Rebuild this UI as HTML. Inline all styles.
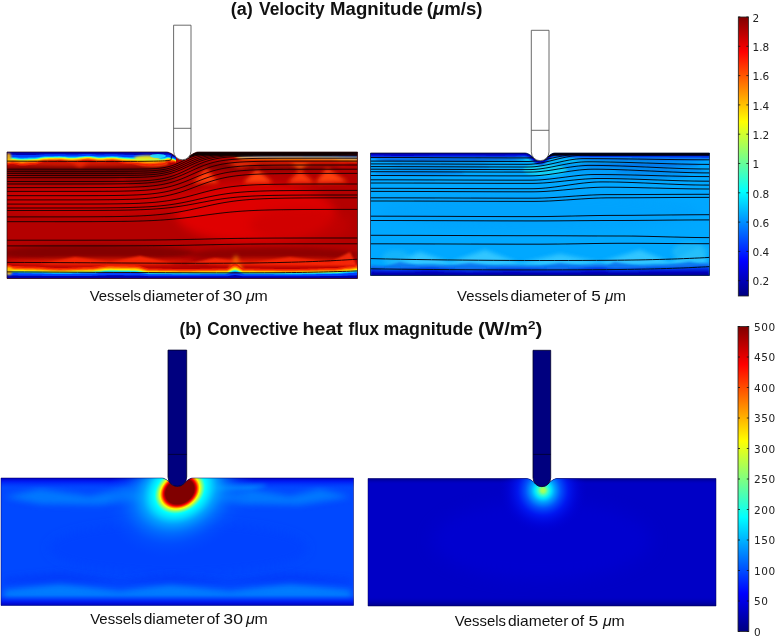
<!DOCTYPE html>
<html lang="en"><head><meta charset="utf-8"><title>Velocity magnitude and convective heat flux</title>
<style>html,body{margin:0;padding:0;background:#fff}body{width:777px;height:637px;overflow:hidden}svg{display:block}text{font-family:"Liberation Sans","DejaVu Sans",sans-serif;fill:#111}.tk{font-family:"DejaVu Sans","Liberation Sans",sans-serif;font-size:10.5px;fill:#222}.ttl{font-weight:700;font-size:17.5px}.lab{font-size:14.8px}.mu{font-style:italic}</style></head><body>
<svg width="777" height="637" viewBox="0 0 777 637">
<defs>
<linearGradient id="jet" x1="0" y1="0" x2="0" y2="1">
<stop offset="0" stop-color="#800000"/>
<stop offset="0.125" stop-color="#ff0000"/>
<stop offset="0.375" stop-color="#ffff00"/>
<stop offset="0.625" stop-color="#00ffff"/>
<stop offset="0.875" stop-color="#0000ff"/>
<stop offset="1" stop-color="#000080"/>
</linearGradient>
<filter id="bl" filterUnits="userSpaceOnUse" x="0" y="0" width="777" height="637"><feGaussianBlur stdDeviation="0.4"/></filter>
<filter id="b0" filterUnits="userSpaceOnUse" x="0" y="0" width="777" height="637"><feGaussianBlur stdDeviation="0.6"/></filter>
<filter id="b1" filterUnits="userSpaceOnUse" x="0" y="0" width="777" height="637"><feGaussianBlur stdDeviation="1.2"/></filter>
<filter id="b2" filterUnits="userSpaceOnUse" x="0" y="0" width="777" height="637"><feGaussianBlur stdDeviation="2"/></filter>
<filter id="b3" filterUnits="userSpaceOnUse" x="0" y="0" width="777" height="637"><feGaussianBlur stdDeviation="3"/></filter>
<filter id="b4" filterUnits="userSpaceOnUse" x="0" y="0" width="777" height="637"><feGaussianBlur stdDeviation="5"/></filter>
<filter id="b5" filterUnits="userSpaceOnUse" x="0" y="0" width="777" height="637"><feGaussianBlur stdDeviation="8"/></filter>
<clipPath id="cA1"><path d="M7,152 H166.3 L166.30,152.00 L166.80,152.03 L167.30,152.10 L167.80,152.21 L168.30,152.34 L168.80,152.49 L169.30,152.67 L169.80,152.88 L170.30,153.10 L170.80,153.34 L171.30,153.61 L171.80,153.89 L172.30,154.19 L172.80,154.51 L173.30,154.84 L173.80,155.20 L174.30,155.57 L174.80,155.96 L175.30,156.36 L175.80,156.88 L176.30,157.40 L176.80,157.84 L177.30,158.22 L177.80,158.55 L178.30,158.83 L178.80,159.06 L179.30,159.27 L179.80,159.43 L180.30,159.57 L180.80,159.67 L181.30,159.74 L181.80,159.79 L182.30,159.80 L182.80,159.79 L183.30,159.74 L183.80,159.67 L184.30,159.57 L184.80,159.43 L185.30,159.27 L185.80,159.06 L186.30,158.83 L186.80,158.55 L187.30,158.22 L187.80,157.84 L188.30,157.40 L188.80,156.88 L189.30,156.36 L189.80,155.96 L190.30,155.57 L190.80,155.20 L191.30,154.84 L191.80,154.51 L192.30,154.19 L192.80,153.89 L193.30,153.61 L193.80,153.34 L194.30,153.10 L194.80,152.88 L195.30,152.67 L195.80,152.49 L196.30,152.34 L196.80,152.21 L197.30,152.10 L197.80,152.03 L198.3,152 H357.5 V278.5 H7 Z"/></clipPath>
<clipPath id="cA2"><path d="M370.5,153 H525 L525.00,153.00 L525.50,153.04 L526.00,153.12 L526.50,153.24 L527.00,153.40 L527.50,153.58 L528.00,153.79 L528.50,154.03 L529.00,154.29 L529.50,154.57 L530.00,154.88 L530.50,155.21 L531.00,155.57 L531.50,155.94 L532.00,156.34 L532.50,156.75 L533.00,157.19 L533.50,157.69 L534.00,158.21 L534.50,158.66 L535.00,159.05 L535.50,159.38 L536.00,159.67 L536.50,159.91 L537.00,160.12 L537.50,160.29 L538.00,160.43 L538.50,160.54 L539.00,160.62 L539.50,160.68 L540.00,160.70 L540.50,160.69 L541.00,160.66 L541.50,160.60 L542.00,160.50 L542.50,160.38 L543.00,160.23 L543.50,160.04 L544.00,159.82 L544.50,159.56 L545.00,159.25 L545.50,158.90 L546.00,158.49 L546.50,158.01 L547.00,157.46 L547.50,156.98 L548.00,156.53 L548.50,156.10 L549.00,155.69 L549.50,155.31 L550.00,154.95 L550.50,154.62 L551.00,154.31 L551.50,154.03 L552.00,153.78 L552.50,153.56 L553.00,153.37 L553.50,153.21 L554.00,153.09 L554.50,153.02 L554.8,153 H709.5 V275.5 H370.5 Z"/></clipPath>
<clipPath id="cB1"><path d="M1,478 H162 L162.00,478.00 L162.50,478.04 L163.00,478.14 L163.50,478.28 L164.00,478.45 L164.50,478.66 L165.00,478.90 L165.50,479.16 L166.00,479.46 L166.50,479.78 L167.00,480.13 L167.50,480.51 L168.00,480.91 L168.50,481.33 L169.00,481.78 L169.50,482.25 L170.00,482.75 L170.50,483.31 L171.00,483.81 L171.50,484.24 L172.00,484.62 L172.50,484.94 L173.00,485.23 L173.50,485.47 L174.00,485.68 L174.50,485.86 L175.00,486.00 L175.50,486.12 L176.00,486.20 L176.50,486.26 L177.00,486.29 L177.50,486.30 L178.00,486.28 L178.50,486.23 L179.00,486.15 L179.50,486.05 L180.00,485.92 L180.50,485.75 L181.00,485.56 L181.50,485.33 L182.00,485.06 L182.50,484.75 L183.00,484.40 L183.50,483.99 L184.00,483.52 L184.50,482.97 L185.00,482.44 L185.50,481.96 L186.00,481.50 L186.50,481.06 L187.00,480.64 L187.50,480.25 L188.00,479.89 L188.50,479.56 L189.00,479.25 L189.50,478.97 L190.00,478.72 L190.50,478.50 L191.00,478.31 L191.50,478.17 L192.00,478.06 L192.50,478.00 L192.6,478 H353.5 V605.5 H1 Z"/></clipPath>
<clipPath id="cB2"><path d="M368,478.5 H526.7 L526.70,478.50 L527.20,478.54 L527.70,478.63 L528.20,478.76 L528.70,478.93 L529.20,479.13 L529.70,479.35 L530.20,479.61 L530.70,479.89 L531.20,480.20 L531.70,480.54 L532.20,480.89 L532.70,481.28 L533.20,481.68 L533.70,482.11 L534.20,482.56 L534.70,483.03 L535.20,483.59 L535.70,484.11 L536.20,484.56 L536.70,484.95 L537.20,485.28 L537.70,485.57 L538.20,485.81 L538.70,486.02 L539.20,486.19 L539.70,486.33 L540.20,486.44 L540.70,486.52 L541.20,486.58 L541.70,486.60 L542.20,486.59 L542.70,486.56 L543.20,486.50 L543.70,486.40 L544.20,486.28 L544.70,486.13 L545.20,485.94 L545.70,485.72 L546.20,485.46 L546.70,485.15 L547.20,484.80 L547.70,484.39 L548.20,483.91 L548.70,483.35 L549.20,482.84 L549.70,482.38 L550.20,481.93 L550.70,481.52 L551.20,481.12 L551.70,480.75 L552.20,480.40 L552.70,480.08 L553.20,479.78 L553.70,479.50 L554.20,479.26 L554.70,479.04 L555.20,478.86 L555.70,478.71 L556.20,478.59 L556.70,478.52 L557,478.5 H716 V606 H368 Z"/></clipPath>
<linearGradient id="b1top" x1="0" y1="0" x2="0" y2="1">
<stop offset="0" stop-color="#0000c0" stop-opacity="1"/>
<stop offset="0.35" stop-color="#0010f0" stop-opacity="0.8"/>
<stop offset="1" stop-color="#0030ff" stop-opacity="0"/>
</linearGradient>
<linearGradient id="b1bot" x1="0" y1="0" x2="0" y2="1">
<stop offset="0" stop-color="#0030ff" stop-opacity="0"/>
<stop offset="0.6" stop-color="#0010f0" stop-opacity="0.8"/>
<stop offset="1" stop-color="#0000b8" stop-opacity="1"/>
</linearGradient>
<linearGradient id="b2top" x1="0" y1="0" x2="0" y2="1">
<stop offset="0" stop-color="#000088" stop-opacity="1"/>
<stop offset="1" stop-color="#0000c8" stop-opacity="0"/>
</linearGradient>
<linearGradient id="b2bot" x1="0" y1="0" x2="0" y2="1">
<stop offset="0" stop-color="#0000c8" stop-opacity="0"/>
<stop offset="1" stop-color="#000088" stop-opacity="1"/>
</linearGradient>
<radialGradient id="hot1" cx="0.5" cy="0.5" r="0.5">
<stop offset="0" stop-color="#800000" stop-opacity="1"/>
<stop offset="0.192" stop-color="#800000" stop-opacity="1"/>
<stop offset="0.207" stop-color="#b00000" stop-opacity="1"/>
<stop offset="0.224" stop-color="#ff0000" stop-opacity="1"/>
<stop offset="0.245" stop-color="#ff8000" stop-opacity="1"/>
<stop offset="0.266" stop-color="#ffff00" stop-opacity="1"/>
<stop offset="0.3" stop-color="#80ff80" stop-opacity="1"/>
<stop offset="0.34" stop-color="#00ffff" stop-opacity="1"/>
<stop offset="0.41" stop-color="#00d8ff" stop-opacity="1"/>
<stop offset="0.5" stop-color="#00a8ff" stop-opacity="0.9"/>
<stop offset="0.63" stop-color="#0084ff" stop-opacity="0.65"/>
<stop offset="0.8" stop-color="#0064ff" stop-opacity="0.3"/>
<stop offset="1" stop-color="#0050ff" stop-opacity="0"/>
</radialGradient>
<radialGradient id="hot2" cx="0.5" cy="0.5" r="0.5">
<stop offset="0" stop-color="#b0ff50" stop-opacity="1"/>
<stop offset="0.05" stop-color="#98ff68" stop-opacity="1"/>
<stop offset="0.12" stop-color="#30ffd0" stop-opacity="1"/>
<stop offset="0.19" stop-color="#00e0ff" stop-opacity="1"/>
<stop offset="0.27" stop-color="#00a0ff" stop-opacity="1"/>
<stop offset="0.4" stop-color="#0058ff" stop-opacity="0.95"/>
<stop offset="0.58" stop-color="#0020ff" stop-opacity="0.7"/>
<stop offset="0.8" stop-color="#0008e8" stop-opacity="0.35"/>
<stop offset="1" stop-color="#0000d0" stop-opacity="0"/>
</radialGradient>
</defs>
<rect width="777" height="637" fill="#fff"/>
<g clip-path="url(#cA1)">
<rect x="6" y="150" width="353" height="130" fill="#b40000"/>
<ellipse cx="255" cy="213" rx="80" ry="30" fill="#e20400" opacity="0.95" filter="url(#b4)"/>
<ellipse cx="300" cy="225" rx="50" ry="18" fill="#c80000" opacity="0.6" filter="url(#b4)"/>
<ellipse cx="95" cy="200" rx="105" ry="15" fill="#d00402" opacity="0.85" filter="url(#b4)"/>
<ellipse cx="85" cy="170" rx="85" ry="7" fill="#700000" opacity="0.95" filter="url(#b2)"/>
<ellipse cx="60" cy="180" rx="60" ry="5" fill="#900000" opacity="0.7" filter="url(#b2)"/>
<ellipse cx="150" cy="178" rx="25" ry="9" fill="#8c0000" opacity="0.6" filter="url(#b2)"/>
<ellipse cx="265" cy="166" rx="75" ry="5" fill="#800000" opacity="0.85" filter="url(#b2)"/>
<ellipse cx="95" cy="253" rx="100" ry="8" fill="#800000" opacity="0.92" filter="url(#b2)"/>
<ellipse cx="275" cy="254.5" rx="85" ry="7" fill="#880000" opacity="0.85" filter="url(#b2)"/>
<ellipse cx="190" cy="262" rx="40" ry="3.5" fill="#a00000" opacity="0.6" filter="url(#b2)"/>
<polygon points="193,183 206,168 219,183" fill="#ff4010" opacity="1" filter="url(#b2)"/>
<polygon points="243,183 257,169 273,183" fill="#ff4010" opacity="1" filter="url(#b2)"/>
<polygon points="287,183 300,170 315,183" fill="#ff3a08" opacity="0.95" filter="url(#b2)"/>
<polygon points="315,183 327,168 348,182" fill="#ff4010" opacity="1" filter="url(#b2)"/>
<polygon points="40,264 75,257 110,262 140,256 175,264" fill="#ff3208" opacity="0.9" filter="url(#b1)"/>
<polygon points="185,264 215,258 250,263 290,257 330,262 350,252 357,266" fill="#ff3208" opacity="0.85" filter="url(#b1)"/>
<polygon points="229,272 236,255 243,272" fill="#ffc000" opacity="1" filter="url(#b2)"/>
<polygon points="70,161 80,168 90,161" fill="#ff3a10" opacity="0.7" filter="url(#b2)"/>
<polygon points="225,162 240,168 262,162" fill="#ff4010" opacity="0.8" filter="url(#b2)"/>
<polygon points="290,162 300,170 310,162" fill="#ff6a10" opacity="0.8" filter="url(#b2)"/>
<ellipse cx="152" cy="163" rx="16" ry="3.2" fill="#ff7a00" opacity="0.9" filter="url(#b1)"/>
<ellipse cx="85" cy="163.5" rx="80" ry="2.5" fill="#ff2800" opacity="0.75" filter="url(#b2)"/>
<ellipse cx="290" cy="162.5" rx="60" ry="2.2" fill="#ff3000" opacity="0.7" filter="url(#b2)"/>
<ellipse cx="100" cy="262" rx="95" ry="4" fill="#f82000" opacity="0.7" filter="url(#b2)"/>
<ellipse cx="280" cy="262" rx="75" ry="4" fill="#f82000" opacity="0.7" filter="url(#b2)"/>
<g filter="url(#b0)" opacity="1">
<path d="M7.0,149.0 L7.0,165.0 L9.0,164.6 L11.0,164.1 L13.0,164.0 L15.0,164.3 L17.0,164.8 L19.0,165.2 L21.0,165.5 L23.0,165.5 L25.0,165.4 L27.0,165.2 L29.0,164.9 L31.0,164.7 L33.0,164.6 L35.0,164.5 L37.0,164.2 L39.0,163.6 L41.0,162.9 L43.0,162.3 L45.0,162.0 L47.0,162.0 L49.0,161.9 L51.0,161.8 L53.0,161.7 L55.0,161.6 L57.0,161.6 L59.0,161.5 L61.0,161.5 L63.0,161.7 L65.0,162.0 L67.0,162.3 L69.0,162.6 L71.0,162.8 L73.0,162.8 L75.0,162.6 L77.0,162.3 L79.0,162.0 L81.0,161.6 L83.0,161.3 L85.0,161.0 L87.0,160.8 L89.0,160.8 L91.0,161.1 L93.0,161.5 L95.0,161.9 L97.0,162.3 L99.0,162.6 L101.0,162.6 L103.0,162.4 L105.0,162.2 L107.0,161.9 L109.0,161.7 L111.0,161.5 L113.0,161.5 L115.0,161.7 L117.0,162.1 L119.0,162.5 L121.0,163.0 L123.0,163.4 L125.0,163.8 L127.0,164.0 L129.0,164.0 L131.0,164.1 L133.0,164.3 L135.0,164.5 L137.0,164.7 L139.0,165.0 L141.0,165.3 L143.0,165.5 L145.0,165.7 L147.0,165.9 L149.0,166.0 L151.0,166.0 L153.0,165.9 L155.0,165.7 L157.0,165.4 L159.0,165.2 L161.0,165.1 L163.0,165.0 L165.0,164.3 L167.0,162.9 L169.0,162.3 L171.0,162.7 L173.0,162.4 L175.0,162.4 L176.0,163.1 L176.0,149.0 Z" fill="#ee2000"/>
<path d="M7.0,149.0 L7.0,163.3 L9.0,163.0 L11.0,162.5 L13.0,162.5 L15.0,162.7 L17.0,163.1 L19.0,163.5 L21.0,163.7 L23.0,163.7 L25.0,163.6 L27.0,163.5 L29.0,163.3 L31.0,163.1 L33.0,162.9 L35.0,162.9 L37.0,162.6 L39.0,162.1 L41.0,161.5 L43.0,160.9 L45.0,160.7 L47.0,160.7 L49.0,160.6 L51.0,160.5 L53.0,160.5 L55.0,160.4 L57.0,160.3 L59.0,160.3 L61.0,160.3 L63.0,160.4 L65.0,160.7 L67.0,161.0 L69.0,161.2 L71.0,161.4 L73.0,161.4 L75.0,161.2 L77.0,161.0 L79.0,160.7 L81.0,160.4 L83.0,160.1 L85.0,159.8 L87.0,159.7 L89.0,159.7 L91.0,159.9 L93.0,160.2 L95.0,160.6 L97.0,161.0 L99.0,161.2 L101.0,161.2 L103.0,161.1 L105.0,160.9 L107.0,160.6 L109.0,160.4 L111.0,160.3 L113.0,160.3 L115.0,160.5 L117.0,160.8 L119.0,161.1 L121.0,161.6 L123.0,161.9 L125.0,162.2 L127.0,162.4 L129.0,162.5 L131.0,162.5 L133.0,162.7 L135.0,162.9 L137.0,163.1 L139.0,163.3 L141.0,163.5 L143.0,163.8 L145.0,164.0 L147.0,164.1 L149.0,164.2 L151.0,164.2 L153.0,164.1 L155.0,163.9 L157.0,163.7 L159.0,163.5 L161.0,163.4 L163.0,163.3 L165.0,162.7 L167.0,161.5 L169.0,161.0 L171.0,161.5 L173.0,161.4 L175.0,161.6 L176.0,162.3 L176.0,149.0 Z" fill="#ff5a00"/>
<path d="M7.0,149.0 L7.0,162.0 L9.0,161.7 L11.0,161.3 L13.0,161.3 L15.0,161.5 L17.0,161.8 L19.0,162.1 L21.0,162.4 L23.0,162.4 L25.0,162.3 L27.0,162.1 L29.0,162.0 L31.0,161.8 L33.0,161.7 L35.0,161.6 L37.0,161.4 L39.0,160.9 L41.0,160.4 L43.0,159.9 L45.0,159.7 L47.0,159.7 L49.0,159.6 L51.0,159.6 L53.0,159.5 L55.0,159.4 L57.0,159.4 L59.0,159.3 L61.0,159.3 L63.0,159.5 L65.0,159.7 L67.0,159.9 L69.0,160.2 L71.0,160.3 L73.0,160.3 L75.0,160.2 L77.0,160.0 L79.0,159.7 L81.0,159.4 L83.0,159.1 L85.0,158.9 L87.0,158.8 L89.0,158.8 L91.0,159.0 L93.0,159.3 L95.0,159.6 L97.0,159.9 L99.0,160.1 L101.0,160.1 L103.0,160.0 L105.0,159.8 L107.0,159.6 L109.0,159.4 L111.0,159.3 L113.0,159.3 L115.0,159.5 L117.0,159.8 L119.0,160.1 L121.0,160.5 L123.0,160.8 L125.0,161.1 L127.0,161.2 L129.0,161.2 L131.0,161.3 L133.0,161.4 L135.0,161.6 L137.0,161.8 L139.0,162.0 L141.0,162.2 L143.0,162.4 L145.0,162.6 L147.0,162.7 L149.0,162.8 L151.0,162.8 L153.0,162.7 L155.0,162.5 L157.0,162.4 L159.0,162.2 L161.0,162.1 L163.0,162.0 L165.0,161.5 L167.0,160.4 L169.0,160.0 L171.0,160.6 L173.0,160.6 L175.0,160.9 L176.0,161.7 L176.0,149.0 Z" fill="#ffa800"/>
<path d="M7.0,149.0 L7.0,161.0 L9.0,160.7 L11.0,160.4 L13.0,160.3 L15.0,160.5 L17.0,160.8 L19.0,161.1 L21.0,161.3 L23.0,161.3 L25.0,161.2 L27.0,161.1 L29.0,160.9 L31.0,160.8 L33.0,160.7 L35.0,160.6 L37.0,160.4 L39.0,160.0 L41.0,159.5 L43.0,159.1 L45.0,158.9 L47.0,158.9 L49.0,158.8 L51.0,158.8 L53.0,158.7 L55.0,158.6 L57.0,158.6 L59.0,158.6 L61.0,158.6 L63.0,158.7 L65.0,158.9 L67.0,159.1 L69.0,159.3 L71.0,159.4 L73.0,159.4 L75.0,159.3 L77.0,159.1 L79.0,158.9 L81.0,158.6 L83.0,158.4 L85.0,158.2 L87.0,158.1 L89.0,158.1 L91.0,158.3 L93.0,158.5 L95.0,158.8 L97.0,159.1 L99.0,159.3 L101.0,159.3 L103.0,159.2 L105.0,159.0 L107.0,158.8 L109.0,158.7 L111.0,158.6 L113.0,158.6 L115.0,158.7 L117.0,159.0 L119.0,159.3 L121.0,159.6 L123.0,159.9 L125.0,160.1 L127.0,160.3 L129.0,160.3 L131.0,160.3 L133.0,160.5 L135.0,160.6 L137.0,160.8 L139.0,161.0 L141.0,161.2 L143.0,161.3 L145.0,161.5 L147.0,161.6 L149.0,161.7 L151.0,161.6 L153.0,161.6 L155.0,161.4 L157.0,161.3 L159.0,161.1 L161.0,161.0 L163.0,161.0 L165.0,160.5 L167.0,159.6 L169.0,159.3 L171.0,159.8 L173.0,160.0 L175.0,160.4 L176.0,161.2 L176.0,149.0 Z" fill="#ffe800"/>
<path d="M7.0,149.0 L7.0,160.1 L9.0,159.8 L11.0,159.5 L13.0,159.5 L15.0,159.6 L17.0,159.9 L19.0,160.2 L21.0,160.3 L23.0,160.4 L25.0,160.3 L27.0,160.2 L29.0,160.0 L31.0,159.9 L33.0,159.8 L35.0,159.8 L37.0,159.6 L39.0,159.2 L41.0,158.7 L43.0,158.4 L45.0,158.2 L47.0,158.2 L49.0,158.1 L51.0,158.1 L53.0,158.0 L55.0,158.0 L57.0,157.9 L59.0,157.9 L61.0,157.9 L63.0,158.0 L65.0,158.2 L67.0,158.4 L69.0,158.6 L71.0,158.7 L73.0,158.7 L75.0,158.6 L77.0,158.4 L79.0,158.2 L81.0,158.0 L83.0,157.7 L85.0,157.6 L87.0,157.5 L89.0,157.5 L91.0,157.6 L93.0,157.9 L95.0,158.2 L97.0,158.4 L99.0,158.6 L101.0,158.6 L103.0,158.5 L105.0,158.3 L107.0,158.1 L109.0,158.0 L111.0,157.9 L113.0,157.9 L115.0,158.0 L117.0,158.2 L119.0,158.5 L121.0,158.8 L123.0,159.1 L125.0,159.3 L127.0,159.4 L129.0,159.4 L131.0,159.5 L133.0,159.6 L135.0,159.7 L137.0,159.9 L139.0,160.1 L141.0,160.2 L143.0,160.4 L145.0,160.5 L147.0,160.6 L149.0,160.7 L151.0,160.7 L153.0,160.6 L155.0,160.5 L157.0,160.3 L159.0,160.2 L161.0,160.1 L163.0,160.1 L165.0,159.6 L167.0,158.8 L169.0,158.6 L171.0,159.2 L173.0,159.4 L175.0,160.0 L176.0,160.8 L176.0,149.0 Z" fill="#a8ff58"/>
<path d="M7.0,149.0 L7.0,159.3 L9.0,159.1 L11.0,158.8 L13.0,158.8 L15.0,159.0 L17.0,159.2 L19.0,159.4 L21.0,159.6 L23.0,159.6 L25.0,159.6 L27.0,159.4 L29.0,159.3 L31.0,159.2 L33.0,159.1 L35.0,159.1 L37.0,158.9 L39.0,158.6 L41.0,158.1 L43.0,157.8 L45.0,157.7 L47.0,157.6 L49.0,157.6 L51.0,157.6 L53.0,157.5 L55.0,157.4 L57.0,157.4 L59.0,157.4 L61.0,157.4 L63.0,157.5 L65.0,157.6 L67.0,157.8 L69.0,158.0 L71.0,158.1 L73.0,158.1 L75.0,158.0 L77.0,157.8 L79.0,157.6 L81.0,157.4 L83.0,157.2 L85.0,157.1 L87.0,157.0 L89.0,157.0 L91.0,157.1 L93.0,157.4 L95.0,157.6 L97.0,157.8 L99.0,158.0 L101.0,158.0 L103.0,157.9 L105.0,157.8 L107.0,157.6 L109.0,157.5 L111.0,157.4 L113.0,157.4 L115.0,157.5 L117.0,157.7 L119.0,157.9 L121.0,158.2 L123.0,158.5 L125.0,158.6 L127.0,158.8 L129.0,158.8 L131.0,158.8 L133.0,158.9 L135.0,159.1 L137.0,159.2 L139.0,159.3 L141.0,159.5 L143.0,159.6 L145.0,159.8 L147.0,159.9 L149.0,159.9 L151.0,159.9 L153.0,159.8 L155.0,159.7 L157.0,159.6 L159.0,159.5 L161.0,159.4 L163.0,159.3 L165.0,159.0 L167.0,158.2 L169.0,158.0 L171.0,158.7 L173.0,159.0 L175.0,159.7 L176.0,160.5 L176.0,149.0 Z" fill="#30ffd0"/>
<path d="M7.0,149.0 L7.0,158.6 L9.0,158.5 L11.0,158.2 L13.0,158.1 L15.0,158.3 L17.0,158.5 L19.0,158.7 L21.0,158.9 L23.0,158.9 L25.0,158.8 L27.0,158.7 L29.0,158.6 L31.0,158.5 L33.0,158.4 L35.0,158.4 L37.0,158.2 L39.0,157.9 L41.0,157.5 L43.0,157.2 L45.0,157.1 L47.0,157.1 L49.0,157.1 L51.0,157.0 L53.0,157.0 L55.0,156.9 L57.0,156.9 L59.0,156.8 L61.0,156.9 L63.0,156.9 L65.0,157.1 L67.0,157.3 L69.0,157.4 L71.0,157.5 L73.0,157.5 L75.0,157.4 L77.0,157.3 L79.0,157.1 L81.0,156.9 L83.0,156.7 L85.0,156.6 L87.0,156.5 L89.0,156.5 L91.0,156.6 L93.0,156.8 L95.0,157.1 L97.0,157.3 L99.0,157.4 L101.0,157.4 L103.0,157.3 L105.0,157.2 L107.0,157.1 L109.0,156.9 L111.0,156.9 L113.0,156.9 L115.0,157.0 L117.0,157.1 L119.0,157.4 L121.0,157.6 L123.0,157.8 L125.0,158.0 L127.0,158.1 L129.0,158.1 L131.0,158.2 L133.0,158.3 L135.0,158.4 L137.0,158.5 L139.0,158.6 L141.0,158.8 L143.0,158.9 L145.0,159.0 L147.0,159.1 L149.0,159.1 L151.0,159.1 L153.0,159.1 L155.0,159.0 L157.0,158.9 L159.0,158.7 L161.0,158.7 L163.0,158.6 L165.0,158.3 L167.0,157.6 L169.0,157.5 L171.0,158.2 L173.0,158.6 L175.0,159.3 L176.0,160.2 L176.0,149.0 Z" fill="#00b0ff"/>
<path d="M7.0,149.0 L7.0,157.6 L9.0,157.4 L11.0,157.2 L13.0,157.2 L15.0,157.3 L17.0,157.5 L19.0,157.7 L21.0,157.8 L23.0,157.8 L25.0,157.7 L27.0,157.7 L29.0,157.6 L31.0,157.5 L33.0,157.4 L35.0,157.4 L37.0,157.3 L39.0,157.0 L41.0,156.7 L43.0,156.4 L45.0,156.3 L47.0,156.3 L49.0,156.3 L51.0,156.2 L53.0,156.2 L55.0,156.1 L57.0,156.1 L59.0,156.1 L61.0,156.1 L63.0,156.2 L65.0,156.3 L67.0,156.4 L69.0,156.6 L71.0,156.6 L73.0,156.6 L75.0,156.6 L77.0,156.4 L79.0,156.3 L81.0,156.1 L83.0,156.0 L85.0,155.9 L87.0,155.8 L89.0,155.8 L91.0,155.9 L93.0,156.1 L95.0,156.3 L97.0,156.4 L99.0,156.5 L101.0,156.5 L103.0,156.5 L105.0,156.4 L107.0,156.3 L109.0,156.2 L111.0,156.1 L113.0,156.1 L115.0,156.2 L117.0,156.3 L119.0,156.5 L121.0,156.7 L123.0,156.9 L125.0,157.1 L127.0,157.1 L129.0,157.2 L131.0,157.2 L133.0,157.3 L135.0,157.4 L137.0,157.5 L139.0,157.6 L141.0,157.7 L143.0,157.8 L145.0,157.9 L147.0,158.0 L149.0,158.0 L151.0,158.0 L153.0,158.0 L155.0,157.9 L157.0,157.8 L159.0,157.7 L161.0,157.6 L163.0,157.6 L165.0,157.3 L167.0,156.7 L169.0,156.7 L171.0,157.4 L173.0,158.0 L175.0,158.8 L176.0,159.7 L176.0,149.0 Z" fill="#0040ff"/>
<path d="M7.0,149.0 L7.0,155.0 L9.0,154.9 L11.0,154.8 L13.0,154.8 L15.0,154.8 L17.0,154.9 L19.0,155.0 L21.0,155.1 L23.0,155.1 L25.0,155.1 L27.0,155.0 L29.0,155.0 L31.0,154.9 L33.0,154.9 L35.0,154.9 L37.0,154.8 L39.0,154.7 L41.0,154.5 L43.0,154.4 L45.0,154.3 L47.0,154.3 L49.0,154.3 L51.0,154.3 L53.0,154.2 L55.0,154.2 L57.0,154.2 L59.0,154.2 L61.0,154.2 L63.0,154.2 L65.0,154.3 L67.0,154.4 L69.0,154.4 L71.0,154.5 L73.0,154.5 L75.0,154.4 L77.0,154.4 L79.0,154.3 L81.0,154.2 L83.0,154.1 L85.0,154.1 L87.0,154.0 L89.0,154.0 L91.0,154.1 L93.0,154.2 L95.0,154.3 L97.0,154.4 L99.0,154.4 L101.0,154.4 L103.0,154.4 L105.0,154.3 L107.0,154.3 L109.0,154.2 L111.0,154.2 L113.0,154.2 L115.0,154.2 L117.0,154.3 L119.0,154.4 L121.0,154.5 L123.0,154.6 L125.0,154.7 L127.0,154.8 L129.0,154.8 L131.0,154.8 L133.0,154.8 L135.0,154.9 L137.0,154.9 L139.0,155.0 L141.0,155.1 L143.0,155.1 L145.0,155.2 L147.0,155.2 L149.0,155.2 L151.0,155.2 L153.0,155.2 L155.0,155.1 L157.0,155.1 L159.0,155.0 L161.0,155.0 L163.0,155.0 L165.0,154.8 L167.0,154.6 L169.0,154.8 L171.0,155.6 L173.0,156.4 L175.0,157.6 L176.0,158.5 L176.0,149.0 Z" fill="#0000b0"/>
</g>
<ellipse cx="8.5" cy="157.5" rx="2.8" ry="4.5" fill="#ffb000" opacity="0.9" filter="url(#b1)"/>
<ellipse cx="147" cy="158.2" rx="13" ry="2.6" fill="#fff000" opacity="0.9" filter="url(#b1)"/>
<ellipse cx="158" cy="156" rx="8" ry="2" fill="#20e0ff" opacity="0.9" filter="url(#b0)"/>
<g filter="url(#b1)" opacity="0.8">
<path d="M230.0,149.0 L230.0,155.0 L232.0,155.4 L234.0,156.4 L236.0,157.8 L238.0,159.1 L240.0,160.1 L242.0,160.5 L244.0,160.5 L246.0,160.5 L248.0,160.5 L250.0,160.5 L252.0,160.6 L254.0,160.6 L256.0,160.6 L258.0,160.6 L260.0,160.7 L262.0,160.7 L264.0,160.7 L266.0,160.8 L268.0,160.8 L270.0,160.8 L272.0,160.8 L274.0,160.9 L276.0,160.9 L278.0,160.9 L280.0,160.9 L282.0,161.0 L284.0,161.0 L286.0,161.0 L288.0,161.0 L290.0,161.0 L292.0,161.0 L294.0,161.0 L296.0,161.0 L298.0,161.1 L300.0,161.1 L302.0,161.1 L304.0,161.1 L306.0,161.2 L308.0,161.2 L310.0,161.2 L312.0,161.3 L314.0,161.3 L316.0,161.4 L318.0,161.4 L320.0,161.4 L322.0,161.4 L324.0,161.5 L326.0,161.5 L328.0,161.5 L330.0,161.5 L332.0,161.5 L334.0,161.7 L336.0,161.9 L338.0,162.0 L340.0,162.2 L342.0,162.4 L344.0,162.5 L346.0,162.5 L348.0,162.6 L350.0,162.7 L352.0,162.8 L354.0,162.9 L356.0,163.0 L357.5,163.0 L357.5,149.0 Z" fill="#ee2000"/>
<path d="M230.0,149.0 L230.0,154.6 L232.0,155.0 L234.0,155.9 L236.0,157.0 L238.0,158.2 L240.0,159.0 L242.0,159.4 L244.0,159.4 L246.0,159.4 L248.0,159.4 L250.0,159.4 L252.0,159.4 L254.0,159.5 L256.0,159.5 L258.0,159.5 L260.0,159.5 L262.0,159.6 L264.0,159.6 L266.0,159.6 L268.0,159.6 L270.0,159.7 L272.0,159.7 L274.0,159.7 L276.0,159.7 L278.0,159.8 L280.0,159.8 L282.0,159.8 L284.0,159.8 L286.0,159.8 L288.0,159.8 L290.0,159.8 L292.0,159.8 L294.0,159.8 L296.0,159.9 L298.0,159.9 L300.0,159.9 L302.0,159.9 L304.0,160.0 L306.0,160.0 L308.0,160.0 L310.0,160.0 L312.0,160.1 L314.0,160.1 L316.0,160.1 L318.0,160.2 L320.0,160.2 L322.0,160.2 L324.0,160.2 L326.0,160.3 L328.0,160.3 L330.0,160.3 L332.0,160.3 L334.0,160.4 L336.0,160.6 L338.0,160.7 L340.0,160.9 L342.0,161.0 L344.0,161.1 L346.0,161.1 L348.0,161.2 L350.0,161.3 L352.0,161.4 L354.0,161.5 L356.0,161.6 L357.5,161.6 L357.5,149.0 Z" fill="#ff5a00"/>
<path d="M230.0,149.0 L230.0,154.3 L232.0,154.6 L234.0,155.4 L236.0,156.4 L238.0,157.4 L240.0,158.2 L242.0,158.5 L244.0,158.5 L246.0,158.6 L248.0,158.6 L250.0,158.6 L252.0,158.6 L254.0,158.6 L256.0,158.6 L258.0,158.6 L260.0,158.7 L262.0,158.7 L264.0,158.7 L266.0,158.7 L268.0,158.8 L270.0,158.8 L272.0,158.8 L274.0,158.8 L276.0,158.9 L278.0,158.9 L280.0,158.9 L282.0,158.9 L284.0,158.9 L286.0,158.9 L288.0,158.9 L290.0,158.9 L292.0,158.9 L294.0,158.9 L296.0,159.0 L298.0,159.0 L300.0,159.0 L302.0,159.0 L304.0,159.0 L306.0,159.1 L308.0,159.1 L310.0,159.1 L312.0,159.2 L314.0,159.2 L316.0,159.2 L318.0,159.2 L320.0,159.3 L322.0,159.3 L324.0,159.3 L326.0,159.3 L328.0,159.3 L330.0,159.3 L332.0,159.4 L334.0,159.5 L336.0,159.6 L338.0,159.7 L340.0,159.9 L342.0,160.0 L344.0,160.1 L346.0,160.1 L348.0,160.1 L350.0,160.2 L352.0,160.3 L354.0,160.4 L356.0,160.5 L357.5,160.5 L357.5,149.0 Z" fill="#ffa800"/>
<path d="M230.0,149.0 L230.0,154.1 L232.0,154.4 L234.0,155.1 L236.0,156.0 L238.0,156.9 L240.0,157.6 L242.0,157.9 L244.0,157.9 L246.0,157.9 L248.0,157.9 L250.0,157.9 L252.0,157.9 L254.0,157.9 L256.0,157.9 L258.0,158.0 L260.0,158.0 L262.0,158.0 L264.0,158.0 L266.0,158.0 L268.0,158.1 L270.0,158.1 L272.0,158.1 L274.0,158.1 L276.0,158.1 L278.0,158.2 L280.0,158.2 L282.0,158.2 L284.0,158.2 L286.0,158.2 L288.0,158.2 L290.0,158.2 L292.0,158.2 L294.0,158.2 L296.0,158.2 L298.0,158.2 L300.0,158.3 L302.0,158.3 L304.0,158.3 L306.0,158.3 L308.0,158.4 L310.0,158.4 L312.0,158.4 L314.0,158.4 L316.0,158.5 L318.0,158.5 L320.0,158.5 L322.0,158.5 L324.0,158.5 L326.0,158.5 L328.0,158.6 L330.0,158.6 L332.0,158.6 L334.0,158.7 L336.0,158.8 L338.0,158.9 L340.0,159.1 L342.0,159.2 L344.0,159.2 L346.0,159.3 L348.0,159.3 L350.0,159.4 L352.0,159.4 L354.0,159.5 L356.0,159.6 L357.5,159.6 L357.5,149.0 Z" fill="#ffe800"/>
<path d="M230.0,149.0 L230.0,153.9 L232.0,154.1 L234.0,154.7 L236.0,155.6 L238.0,156.4 L240.0,157.0 L242.0,157.3 L244.0,157.3 L246.0,157.3 L248.0,157.3 L250.0,157.3 L252.0,157.3 L254.0,157.3 L256.0,157.3 L258.0,157.4 L260.0,157.4 L262.0,157.4 L264.0,157.4 L266.0,157.4 L268.0,157.4 L270.0,157.5 L272.0,157.5 L274.0,157.5 L276.0,157.5 L278.0,157.5 L280.0,157.5 L282.0,157.6 L284.0,157.6 L286.0,157.6 L288.0,157.6 L290.0,157.6 L292.0,157.6 L294.0,157.6 L296.0,157.6 L298.0,157.6 L300.0,157.6 L302.0,157.6 L304.0,157.7 L306.0,157.7 L308.0,157.7 L310.0,157.7 L312.0,157.8 L314.0,157.8 L316.0,157.8 L318.0,157.8 L320.0,157.8 L322.0,157.9 L324.0,157.9 L326.0,157.9 L328.0,157.9 L330.0,157.9 L332.0,157.9 L334.0,158.0 L336.0,158.1 L338.0,158.2 L340.0,158.3 L342.0,158.4 L344.0,158.5 L346.0,158.5 L348.0,158.6 L350.0,158.6 L352.0,158.7 L354.0,158.8 L356.0,158.8 L357.5,158.8 L357.5,149.0 Z" fill="#a8ff58"/>
<path d="M230.0,149.0 L230.0,153.7 L232.0,153.9 L234.0,154.5 L236.0,155.2 L238.0,156.0 L240.0,156.6 L242.0,156.8 L244.0,156.8 L246.0,156.8 L248.0,156.8 L250.0,156.8 L252.0,156.8 L254.0,156.8 L256.0,156.9 L258.0,156.9 L260.0,156.9 L262.0,156.9 L264.0,156.9 L266.0,156.9 L268.0,157.0 L270.0,157.0 L272.0,157.0 L274.0,157.0 L276.0,157.0 L278.0,157.0 L280.0,157.1 L282.0,157.1 L284.0,157.1 L286.0,157.1 L288.0,157.1 L290.0,157.1 L292.0,157.1 L294.0,157.1 L296.0,157.1 L298.0,157.1 L300.0,157.1 L302.0,157.1 L304.0,157.2 L306.0,157.2 L308.0,157.2 L310.0,157.2 L312.0,157.2 L314.0,157.3 L316.0,157.3 L318.0,157.3 L320.0,157.3 L322.0,157.3 L324.0,157.4 L326.0,157.4 L328.0,157.4 L330.0,157.4 L332.0,157.4 L334.0,157.5 L336.0,157.6 L338.0,157.7 L340.0,157.8 L342.0,157.9 L344.0,157.9 L346.0,157.9 L348.0,158.0 L350.0,158.0 L352.0,158.1 L354.0,158.2 L356.0,158.2 L357.5,158.2 L357.5,149.0 Z" fill="#30ffd0"/>
<path d="M230.0,149.0 L230.0,153.5 L232.0,153.7 L234.0,154.3 L236.0,154.9 L238.0,155.6 L240.0,156.1 L242.0,156.3 L244.0,156.3 L246.0,156.3 L248.0,156.3 L250.0,156.4 L252.0,156.4 L254.0,156.4 L256.0,156.4 L258.0,156.4 L260.0,156.4 L262.0,156.4 L264.0,156.4 L266.0,156.5 L268.0,156.5 L270.0,156.5 L272.0,156.5 L274.0,156.5 L276.0,156.5 L278.0,156.6 L280.0,156.6 L282.0,156.6 L284.0,156.6 L286.0,156.6 L288.0,156.6 L290.0,156.6 L292.0,156.6 L294.0,156.6 L296.0,156.6 L298.0,156.6 L300.0,156.6 L302.0,156.6 L304.0,156.7 L306.0,156.7 L308.0,156.7 L310.0,156.7 L312.0,156.7 L314.0,156.8 L316.0,156.8 L318.0,156.8 L320.0,156.8 L322.0,156.8 L324.0,156.8 L326.0,156.8 L328.0,156.8 L330.0,156.8 L332.0,156.9 L334.0,156.9 L336.0,157.0 L338.0,157.1 L340.0,157.2 L342.0,157.3 L344.0,157.3 L346.0,157.4 L348.0,157.4 L350.0,157.4 L352.0,157.5 L354.0,157.6 L356.0,157.6 L357.5,157.6 L357.5,149.0 Z" fill="#00b0ff"/>
<path d="M230.0,149.0 L230.0,153.3 L232.0,153.5 L234.0,153.9 L236.0,154.5 L238.0,155.0 L240.0,155.5 L242.0,155.7 L244.0,155.7 L246.0,155.7 L248.0,155.7 L250.0,155.7 L252.0,155.7 L254.0,155.7 L256.0,155.7 L258.0,155.7 L260.0,155.7 L262.0,155.7 L264.0,155.7 L266.0,155.8 L268.0,155.8 L270.0,155.8 L272.0,155.8 L274.0,155.8 L276.0,155.8 L278.0,155.8 L280.0,155.8 L282.0,155.9 L284.0,155.9 L286.0,155.9 L288.0,155.9 L290.0,155.9 L292.0,155.9 L294.0,155.9 L296.0,155.9 L298.0,155.9 L300.0,155.9 L302.0,155.9 L304.0,155.9 L306.0,155.9 L308.0,156.0 L310.0,156.0 L312.0,156.0 L314.0,156.0 L316.0,156.0 L318.0,156.0 L320.0,156.1 L322.0,156.1 L324.0,156.1 L326.0,156.1 L328.0,156.1 L330.0,156.1 L332.0,156.1 L334.0,156.2 L336.0,156.2 L338.0,156.3 L340.0,156.4 L342.0,156.5 L344.0,156.5 L346.0,156.5 L348.0,156.5 L350.0,156.6 L352.0,156.6 L354.0,156.7 L356.0,156.7 L357.5,156.7 L357.5,149.0 Z" fill="#0040ff"/>
<path d="M230.0,149.0 L230.0,152.7 L232.0,152.8 L234.0,153.0 L236.0,153.3 L238.0,153.6 L240.0,153.9 L242.0,154.0 L244.0,154.0 L246.0,154.0 L248.0,154.0 L250.0,154.0 L252.0,154.0 L254.0,154.0 L256.0,154.0 L258.0,154.0 L260.0,154.0 L262.0,154.0 L264.0,154.0 L266.0,154.0 L268.0,154.0 L270.0,154.0 L272.0,154.0 L274.0,154.0 L276.0,154.0 L278.0,154.1 L280.0,154.1 L282.0,154.1 L284.0,154.1 L286.0,154.1 L288.0,154.1 L290.0,154.1 L292.0,154.1 L294.0,154.1 L296.0,154.1 L298.0,154.1 L300.0,154.1 L302.0,154.1 L304.0,154.1 L306.0,154.1 L308.0,154.1 L310.0,154.1 L312.0,154.1 L314.0,154.1 L316.0,154.2 L318.0,154.2 L320.0,154.2 L322.0,154.2 L324.0,154.2 L326.0,154.2 L328.0,154.2 L330.0,154.2 L332.0,154.2 L334.0,154.2 L336.0,154.3 L338.0,154.3 L340.0,154.4 L342.0,154.4 L344.0,154.4 L346.0,154.4 L348.0,154.4 L350.0,154.5 L352.0,154.5 L354.0,154.5 L356.0,154.5 L357.5,154.5 L357.5,149.0 Z" fill="#0000b0"/>
</g>
<g filter="url(#b0)" opacity="1">
<path d="M7.0,281.5 L7.0,264.5 L9.0,264.8 L11.0,265.4 L13.0,265.9 L15.0,266.0 L17.0,266.0 L19.0,266.1 L21.0,266.2 L23.0,266.3 L25.0,266.4 L27.0,266.5 L29.0,266.5 L31.0,266.5 L33.0,266.5 L35.0,266.6 L37.0,266.7 L39.0,266.8 L41.0,267.0 L43.0,267.1 L45.0,267.2 L47.0,267.4 L49.0,267.5 L51.0,267.7 L53.0,267.8 L55.0,267.9 L57.0,268.0 L59.0,268.0 L61.0,268.0 L63.0,268.0 L65.0,267.9 L67.0,267.9 L69.0,267.8 L71.0,267.7 L73.0,267.6 L75.0,267.5 L77.0,267.4 L79.0,267.3 L81.0,267.2 L83.0,267.1 L85.0,267.1 L87.0,267.0 L89.0,267.0 L91.0,267.0 L93.0,266.8 L95.0,266.6 L97.0,266.3 L99.0,265.9 L101.0,265.6 L103.0,265.2 L105.0,264.9 L107.0,264.7 L109.0,264.5 L111.0,264.5 L113.0,264.5 L115.0,264.6 L117.0,264.6 L119.0,264.6 L121.0,264.7 L123.0,264.8 L125.0,264.8 L127.0,264.9 L129.0,264.9 L131.0,265.0 L133.0,265.0 L135.0,265.0 L137.0,265.2 L139.0,265.6 L141.0,266.2 L143.0,266.9 L145.0,267.6 L147.0,268.1 L149.0,268.5 L151.0,268.5 L153.0,268.5 L155.0,268.5 L157.0,268.6 L159.0,268.6 L161.0,268.6 L163.0,268.7 L165.0,268.7 L167.0,268.7 L169.0,268.8 L171.0,268.8 L173.0,268.9 L175.0,268.9 L177.0,268.9 L179.0,269.0 L181.0,269.0 L183.0,269.0 L185.0,269.0 L187.0,269.0 L189.0,269.0 L191.0,269.0 L193.0,269.0 L195.0,268.9 L197.0,268.9 L199.0,268.9 L201.0,268.8 L203.0,268.8 L205.0,268.8 L207.0,268.7 L209.0,268.7 L211.0,268.7 L213.0,268.6 L215.0,268.6 L217.0,268.6 L219.0,268.5 L221.0,268.5 L223.0,268.5 L225.0,268.5 L227.0,268.3 L229.0,267.2 L231.0,265.6 L233.0,264.1 L235.0,263.5 L237.0,264.1 L239.0,265.6 L241.0,267.2 L243.0,268.3 L245.0,268.5 L247.0,268.5 L249.0,268.5 L251.0,268.5 L253.0,268.5 L255.0,268.6 L257.0,268.6 L259.0,268.6 L261.0,268.7 L263.0,268.7 L265.0,268.7 L267.0,268.8 L269.0,268.8 L271.0,268.8 L273.0,268.8 L275.0,268.9 L277.0,268.9 L279.0,268.9 L281.0,269.0 L283.0,269.0 L285.0,269.0 L287.0,269.0 L289.0,269.0 L291.0,269.0 L293.0,269.0 L295.0,269.0 L297.0,268.9 L299.0,268.9 L301.0,268.8 L303.0,268.8 L305.0,268.7 L307.0,268.7 L309.0,268.6 L311.0,268.5 L313.0,268.5 L315.0,268.4 L317.0,268.4 L319.0,268.3 L321.0,268.2 L323.0,268.2 L325.0,268.1 L327.0,268.1 L329.0,268.0 L331.0,268.0 L333.0,268.0 L335.0,268.0 L337.0,267.9 L339.0,267.6 L341.0,267.3 L343.0,266.9 L345.0,266.5 L347.0,266.2 L349.0,266.0 L351.0,265.9 L353.0,265.5 L355.0,264.9 L357.0,264.5 L357.5,264.5 L357.5,281.5 Z" fill="#ee2000"/>
<path d="M7.0,281.5 L7.0,266.3 L9.0,266.6 L11.0,267.1 L13.0,267.6 L15.0,267.6 L17.0,267.7 L19.0,267.7 L21.0,267.8 L23.0,267.9 L25.0,268.0 L27.0,268.0 L29.0,268.1 L31.0,268.1 L33.0,268.1 L35.0,268.2 L37.0,268.2 L39.0,268.3 L41.0,268.5 L43.0,268.6 L45.0,268.7 L47.0,268.8 L49.0,269.0 L51.0,269.1 L53.0,269.2 L55.0,269.3 L57.0,269.3 L59.0,269.4 L61.0,269.4 L63.0,269.3 L65.0,269.3 L67.0,269.2 L69.0,269.2 L71.0,269.1 L73.0,269.0 L75.0,268.9 L77.0,268.8 L79.0,268.8 L81.0,268.7 L83.0,268.6 L85.0,268.6 L87.0,268.5 L89.0,268.5 L91.0,268.5 L93.0,268.4 L95.0,268.2 L97.0,267.9 L99.0,267.6 L101.0,267.2 L103.0,266.9 L105.0,266.7 L107.0,266.5 L109.0,266.3 L111.0,266.3 L113.0,266.3 L115.0,266.4 L117.0,266.4 L119.0,266.4 L121.0,266.5 L123.0,266.6 L125.0,266.6 L127.0,266.6 L129.0,266.7 L131.0,266.7 L133.0,266.7 L135.0,266.8 L137.0,266.9 L139.0,267.3 L141.0,267.8 L143.0,268.4 L145.0,269.0 L147.0,269.5 L149.0,269.8 L151.0,269.8 L153.0,269.8 L155.0,269.8 L157.0,269.8 L159.0,269.9 L161.0,269.9 L163.0,269.9 L165.0,270.0 L167.0,270.0 L169.0,270.0 L171.0,270.1 L173.0,270.1 L175.0,270.1 L177.0,270.2 L179.0,270.2 L181.0,270.2 L183.0,270.2 L185.0,270.2 L187.0,270.2 L189.0,270.2 L191.0,270.2 L193.0,270.2 L195.0,270.2 L197.0,270.1 L199.0,270.1 L201.0,270.1 L203.0,270.1 L205.0,270.0 L207.0,270.0 L209.0,270.0 L211.0,269.9 L213.0,269.9 L215.0,269.9 L217.0,269.9 L219.0,269.8 L221.0,269.8 L223.0,269.8 L225.0,269.8 L227.0,269.7 L229.0,268.7 L231.0,267.3 L233.0,266.0 L235.0,265.4 L237.0,266.0 L239.0,267.3 L241.0,268.7 L243.0,269.7 L245.0,269.8 L247.0,269.8 L249.0,269.8 L251.0,269.8 L253.0,269.8 L255.0,269.9 L257.0,269.9 L259.0,269.9 L261.0,269.9 L263.0,270.0 L265.0,270.0 L267.0,270.0 L269.0,270.0 L271.0,270.1 L273.0,270.1 L275.0,270.1 L277.0,270.2 L279.0,270.2 L281.0,270.2 L283.0,270.2 L285.0,270.2 L287.0,270.2 L289.0,270.2 L291.0,270.2 L293.0,270.2 L295.0,270.2 L297.0,270.2 L299.0,270.1 L301.0,270.1 L303.0,270.1 L305.0,270.0 L307.0,270.0 L309.0,269.9 L311.0,269.8 L313.0,269.8 L315.0,269.7 L317.0,269.7 L319.0,269.6 L321.0,269.6 L323.0,269.5 L325.0,269.5 L327.0,269.4 L329.0,269.4 L331.0,269.4 L333.0,269.4 L335.0,269.4 L337.0,269.3 L339.0,269.1 L341.0,268.8 L343.0,268.4 L345.0,268.1 L347.0,267.8 L349.0,267.6 L351.0,267.6 L353.0,267.2 L355.0,266.7 L357.0,266.3 L357.5,266.3 L357.5,281.5 Z" fill="#ff5a00"/>
<path d="M7.0,281.5 L7.0,267.7 L9.0,267.9 L11.0,268.4 L13.0,268.8 L15.0,268.9 L17.0,268.9 L19.0,269.0 L21.0,269.0 L23.0,269.1 L25.0,269.2 L27.0,269.2 L29.0,269.3 L31.0,269.3 L33.0,269.3 L35.0,269.3 L37.0,269.4 L39.0,269.5 L41.0,269.6 L43.0,269.7 L45.0,269.8 L47.0,270.0 L49.0,270.1 L51.0,270.2 L53.0,270.3 L55.0,270.3 L57.0,270.4 L59.0,270.4 L61.0,270.4 L63.0,270.4 L65.0,270.4 L67.0,270.3 L69.0,270.2 L71.0,270.2 L73.0,270.1 L75.0,270.0 L77.0,270.0 L79.0,269.9 L81.0,269.8 L83.0,269.8 L85.0,269.7 L87.0,269.7 L89.0,269.6 L91.0,269.6 L93.0,269.5 L95.0,269.3 L97.0,269.1 L99.0,268.8 L101.0,268.5 L103.0,268.3 L105.0,268.0 L107.0,267.8 L109.0,267.7 L111.0,267.7 L113.0,267.7 L115.0,267.8 L117.0,267.8 L119.0,267.8 L121.0,267.9 L123.0,267.9 L125.0,268.0 L127.0,268.0 L129.0,268.0 L131.0,268.1 L133.0,268.1 L135.0,268.1 L137.0,268.2 L139.0,268.6 L141.0,269.1 L143.0,269.6 L145.0,270.1 L147.0,270.5 L149.0,270.8 L151.0,270.8 L153.0,270.8 L155.0,270.8 L157.0,270.8 L159.0,270.9 L161.0,270.9 L163.0,270.9 L165.0,271.0 L167.0,271.0 L169.0,271.0 L171.0,271.0 L173.0,271.1 L175.0,271.1 L177.0,271.1 L179.0,271.2 L181.0,271.2 L183.0,271.2 L185.0,271.2 L187.0,271.2 L189.0,271.2 L191.0,271.2 L193.0,271.1 L195.0,271.1 L197.0,271.1 L199.0,271.1 L201.0,271.1 L203.0,271.0 L205.0,271.0 L207.0,271.0 L209.0,270.9 L211.0,270.9 L213.0,270.9 L215.0,270.9 L217.0,270.8 L219.0,270.8 L221.0,270.8 L223.0,270.8 L225.0,270.8 L227.0,270.7 L229.0,269.8 L231.0,268.6 L233.0,267.4 L235.0,266.9 L237.0,267.4 L239.0,268.6 L241.0,269.8 L243.0,270.7 L245.0,270.8 L247.0,270.8 L249.0,270.8 L251.0,270.8 L253.0,270.8 L255.0,270.9 L257.0,270.9 L259.0,270.9 L261.0,270.9 L263.0,270.9 L265.0,271.0 L267.0,271.0 L269.0,271.0 L271.0,271.0 L273.0,271.1 L275.0,271.1 L277.0,271.1 L279.0,271.1 L281.0,271.1 L283.0,271.2 L285.0,271.2 L287.0,271.2 L289.0,271.2 L291.0,271.2 L293.0,271.2 L295.0,271.2 L297.0,271.1 L299.0,271.1 L301.0,271.1 L303.0,271.0 L305.0,271.0 L307.0,270.9 L309.0,270.9 L311.0,270.8 L313.0,270.8 L315.0,270.7 L317.0,270.7 L319.0,270.6 L321.0,270.6 L323.0,270.6 L325.0,270.5 L327.0,270.5 L329.0,270.5 L331.0,270.4 L333.0,270.4 L335.0,270.4 L337.0,270.3 L339.0,270.1 L341.0,269.9 L343.0,269.6 L345.0,269.3 L347.0,269.0 L349.0,268.9 L351.0,268.8 L353.0,268.5 L355.0,268.0 L357.0,267.7 L357.5,267.7 L357.5,281.5 Z" fill="#ffa800"/>
<path d="M7.0,281.5 L7.0,268.8 L9.0,269.0 L11.0,269.5 L13.0,269.8 L15.0,269.9 L17.0,269.9 L19.0,270.0 L21.0,270.0 L23.0,270.1 L25.0,270.1 L27.0,270.2 L29.0,270.2 L31.0,270.2 L33.0,270.2 L35.0,270.3 L37.0,270.4 L39.0,270.4 L41.0,270.5 L43.0,270.6 L45.0,270.7 L47.0,270.8 L49.0,270.9 L51.0,271.0 L53.0,271.1 L55.0,271.2 L57.0,271.2 L59.0,271.3 L61.0,271.3 L63.0,271.2 L65.0,271.2 L67.0,271.2 L69.0,271.1 L71.0,271.0 L73.0,271.0 L75.0,270.9 L77.0,270.8 L79.0,270.8 L81.0,270.7 L83.0,270.7 L85.0,270.6 L87.0,270.6 L89.0,270.6 L91.0,270.6 L93.0,270.5 L95.0,270.3 L97.0,270.1 L99.0,269.8 L101.0,269.6 L103.0,269.3 L105.0,269.1 L107.0,268.9 L109.0,268.9 L111.0,268.8 L113.0,268.9 L115.0,268.9 L117.0,268.9 L119.0,268.9 L121.0,269.0 L123.0,269.0 L125.0,269.1 L127.0,269.1 L129.0,269.1 L131.0,269.2 L133.0,269.2 L135.0,269.2 L137.0,269.3 L139.0,269.6 L141.0,270.0 L143.0,270.5 L145.0,271.0 L147.0,271.3 L149.0,271.6 L151.0,271.6 L153.0,271.6 L155.0,271.6 L157.0,271.6 L159.0,271.7 L161.0,271.7 L163.0,271.7 L165.0,271.7 L167.0,271.8 L169.0,271.8 L171.0,271.8 L173.0,271.9 L175.0,271.9 L177.0,271.9 L179.0,271.9 L181.0,271.9 L183.0,271.9 L185.0,271.9 L187.0,271.9 L189.0,271.9 L191.0,271.9 L193.0,271.9 L195.0,271.9 L197.0,271.9 L199.0,271.9 L201.0,271.8 L203.0,271.8 L205.0,271.8 L207.0,271.8 L209.0,271.7 L211.0,271.7 L213.0,271.7 L215.0,271.7 L217.0,271.6 L219.0,271.6 L221.0,271.6 L223.0,271.6 L225.0,271.6 L227.0,271.5 L229.0,270.7 L231.0,269.6 L233.0,268.6 L235.0,268.1 L237.0,268.6 L239.0,269.6 L241.0,270.7 L243.0,271.5 L245.0,271.6 L247.0,271.6 L249.0,271.6 L251.0,271.6 L253.0,271.6 L255.0,271.6 L257.0,271.7 L259.0,271.7 L261.0,271.7 L263.0,271.7 L265.0,271.8 L267.0,271.8 L269.0,271.8 L271.0,271.8 L273.0,271.8 L275.0,271.9 L277.0,271.9 L279.0,271.9 L281.0,271.9 L283.0,271.9 L285.0,271.9 L287.0,271.9 L289.0,271.9 L291.0,271.9 L293.0,271.9 L295.0,271.9 L297.0,271.9 L299.0,271.9 L301.0,271.8 L303.0,271.8 L305.0,271.8 L307.0,271.7 L309.0,271.7 L311.0,271.6 L313.0,271.6 L315.0,271.5 L317.0,271.5 L319.0,271.5 L321.0,271.4 L323.0,271.4 L325.0,271.3 L327.0,271.3 L329.0,271.3 L331.0,271.3 L333.0,271.3 L335.0,271.3 L337.0,271.2 L339.0,271.0 L341.0,270.8 L343.0,270.5 L345.0,270.2 L347.0,270.0 L349.0,269.9 L351.0,269.8 L353.0,269.5 L355.0,269.1 L357.0,268.9 L357.5,268.8 L357.5,281.5 Z" fill="#ffe800"/>
<path d="M7.0,281.5 L7.0,269.8 L9.0,270.0 L11.0,270.4 L13.0,270.7 L15.0,270.8 L17.0,270.8 L19.0,270.8 L21.0,270.9 L23.0,270.9 L25.0,271.0 L27.0,271.0 L29.0,271.1 L31.0,271.1 L33.0,271.1 L35.0,271.1 L37.0,271.2 L39.0,271.3 L41.0,271.3 L43.0,271.4 L45.0,271.5 L47.0,271.6 L49.0,271.7 L51.0,271.8 L53.0,271.9 L55.0,271.9 L57.0,272.0 L59.0,272.0 L61.0,272.0 L63.0,272.0 L65.0,271.9 L67.0,271.9 L69.0,271.9 L71.0,271.8 L73.0,271.7 L75.0,271.7 L77.0,271.6 L79.0,271.6 L81.0,271.5 L83.0,271.5 L85.0,271.4 L87.0,271.4 L89.0,271.4 L91.0,271.4 L93.0,271.3 L95.0,271.1 L97.0,270.9 L99.0,270.7 L101.0,270.5 L103.0,270.3 L105.0,270.1 L107.0,269.9 L109.0,269.8 L111.0,269.8 L113.0,269.8 L115.0,269.9 L117.0,269.9 L119.0,269.9 L121.0,269.9 L123.0,270.0 L125.0,270.0 L127.0,270.1 L129.0,270.1 L131.0,270.1 L133.0,270.1 L135.0,270.1 L137.0,270.2 L139.0,270.5 L141.0,270.9 L143.0,271.3 L145.0,271.7 L147.0,272.1 L149.0,272.3 L151.0,272.3 L153.0,272.3 L155.0,272.3 L157.0,272.3 L159.0,272.4 L161.0,272.4 L163.0,272.4 L165.0,272.4 L167.0,272.4 L169.0,272.5 L171.0,272.5 L173.0,272.5 L175.0,272.5 L177.0,272.6 L179.0,272.6 L181.0,272.6 L183.0,272.6 L185.0,272.6 L187.0,272.6 L189.0,272.6 L191.0,272.6 L193.0,272.6 L195.0,272.6 L197.0,272.5 L199.0,272.5 L201.0,272.5 L203.0,272.5 L205.0,272.5 L207.0,272.4 L209.0,272.4 L211.0,272.4 L213.0,272.4 L215.0,272.4 L217.0,272.3 L219.0,272.3 L221.0,272.3 L223.0,272.3 L225.0,272.3 L227.0,272.2 L229.0,271.5 L231.0,270.5 L233.0,269.6 L235.0,269.2 L237.0,269.6 L239.0,270.5 L241.0,271.5 L243.0,272.2 L245.0,272.3 L247.0,272.3 L249.0,272.3 L251.0,272.3 L253.0,272.3 L255.0,272.3 L257.0,272.4 L259.0,272.4 L261.0,272.4 L263.0,272.4 L265.0,272.4 L267.0,272.5 L269.0,272.5 L271.0,272.5 L273.0,272.5 L275.0,272.5 L277.0,272.5 L279.0,272.6 L281.0,272.6 L283.0,272.6 L285.0,272.6 L287.0,272.6 L289.0,272.6 L291.0,272.6 L293.0,272.6 L295.0,272.6 L297.0,272.6 L299.0,272.5 L301.0,272.5 L303.0,272.5 L305.0,272.4 L307.0,272.4 L309.0,272.4 L311.0,272.3 L313.0,272.3 L315.0,272.2 L317.0,272.2 L319.0,272.2 L321.0,272.1 L323.0,272.1 L325.0,272.1 L327.0,272.0 L329.0,272.0 L331.0,272.0 L333.0,272.0 L335.0,272.0 L337.0,271.9 L339.0,271.8 L341.0,271.6 L343.0,271.3 L345.0,271.1 L347.0,270.9 L349.0,270.8 L351.0,270.7 L353.0,270.4 L355.0,270.1 L357.0,269.8 L357.5,269.8 L357.5,281.5 Z" fill="#a8ff58"/>
<path d="M7.0,281.5 L7.0,270.6 L9.0,270.8 L11.0,271.1 L13.0,271.4 L15.0,271.4 L17.0,271.5 L19.0,271.5 L21.0,271.6 L23.0,271.6 L25.0,271.7 L27.0,271.7 L29.0,271.7 L31.0,271.7 L33.0,271.7 L35.0,271.8 L37.0,271.8 L39.0,271.9 L41.0,272.0 L43.0,272.1 L45.0,272.1 L47.0,272.2 L49.0,272.3 L51.0,272.4 L53.0,272.5 L55.0,272.5 L57.0,272.5 L59.0,272.6 L61.0,272.6 L63.0,272.6 L65.0,272.5 L67.0,272.5 L69.0,272.4 L71.0,272.4 L73.0,272.3 L75.0,272.3 L77.0,272.2 L79.0,272.2 L81.0,272.1 L83.0,272.1 L85.0,272.0 L87.0,272.0 L89.0,272.0 L91.0,272.0 L93.0,271.9 L95.0,271.8 L97.0,271.6 L99.0,271.4 L101.0,271.2 L103.0,271.0 L105.0,270.8 L107.0,270.7 L109.0,270.6 L111.0,270.6 L113.0,270.6 L115.0,270.6 L117.0,270.6 L119.0,270.7 L121.0,270.7 L123.0,270.7 L125.0,270.8 L127.0,270.8 L129.0,270.8 L131.0,270.9 L133.0,270.9 L135.0,270.9 L137.0,271.0 L139.0,271.2 L141.0,271.6 L143.0,272.0 L145.0,272.3 L147.0,272.6 L149.0,272.8 L151.0,272.9 L153.0,272.9 L155.0,272.9 L157.0,272.9 L159.0,272.9 L161.0,272.9 L163.0,272.9 L165.0,273.0 L167.0,273.0 L169.0,273.0 L171.0,273.0 L173.0,273.1 L175.0,273.1 L177.0,273.1 L179.0,273.1 L181.0,273.1 L183.0,273.1 L185.0,273.1 L187.0,273.1 L189.0,273.1 L191.0,273.1 L193.0,273.1 L195.0,273.1 L197.0,273.1 L199.0,273.1 L201.0,273.0 L203.0,273.0 L205.0,273.0 L207.0,273.0 L209.0,273.0 L211.0,272.9 L213.0,272.9 L215.0,272.9 L217.0,272.9 L219.0,272.9 L221.0,272.9 L223.0,272.9 L225.0,272.9 L227.0,272.8 L229.0,272.1 L231.0,271.2 L233.0,270.4 L235.0,270.0 L237.0,270.4 L239.0,271.2 L241.0,272.1 L243.0,272.8 L245.0,272.9 L247.0,272.9 L249.0,272.9 L251.0,272.9 L253.0,272.9 L255.0,272.9 L257.0,272.9 L259.0,272.9 L261.0,272.9 L263.0,273.0 L265.0,273.0 L267.0,273.0 L269.0,273.0 L271.0,273.0 L273.0,273.0 L275.0,273.1 L277.0,273.1 L279.0,273.1 L281.0,273.1 L283.0,273.1 L285.0,273.1 L287.0,273.1 L289.0,273.1 L291.0,273.1 L293.0,273.1 L295.0,273.1 L297.0,273.1 L299.0,273.1 L301.0,273.0 L303.0,273.0 L305.0,273.0 L307.0,273.0 L309.0,272.9 L311.0,272.9 L313.0,272.8 L315.0,272.8 L317.0,272.8 L319.0,272.7 L321.0,272.7 L323.0,272.7 L325.0,272.6 L327.0,272.6 L329.0,272.6 L331.0,272.6 L333.0,272.6 L335.0,272.6 L337.0,272.5 L339.0,272.4 L341.0,272.2 L343.0,271.9 L345.0,271.7 L347.0,271.6 L349.0,271.5 L351.0,271.4 L353.0,271.1 L355.0,270.8 L357.0,270.6 L357.5,270.6 L357.5,281.5 Z" fill="#30ffd0"/>
<path d="M7.0,281.5 L7.0,271.4 L9.0,271.5 L11.0,271.8 L13.0,272.1 L15.0,272.1 L17.0,272.1 L19.0,272.2 L21.0,272.2 L23.0,272.3 L25.0,272.3 L27.0,272.4 L29.0,272.4 L31.0,272.4 L33.0,272.4 L35.0,272.4 L37.0,272.5 L39.0,272.5 L41.0,272.6 L43.0,272.7 L45.0,272.8 L47.0,272.8 L49.0,272.9 L51.0,273.0 L53.0,273.0 L55.0,273.1 L57.0,273.1 L59.0,273.1 L61.0,273.1 L63.0,273.1 L65.0,273.1 L67.0,273.1 L69.0,273.0 L71.0,273.0 L73.0,272.9 L75.0,272.9 L77.0,272.8 L79.0,272.8 L81.0,272.7 L83.0,272.7 L85.0,272.7 L87.0,272.6 L89.0,272.6 L91.0,272.6 L93.0,272.6 L95.0,272.4 L97.0,272.3 L99.0,272.1 L101.0,271.9 L103.0,271.7 L105.0,271.6 L107.0,271.4 L109.0,271.4 L111.0,271.4 L113.0,271.4 L115.0,271.4 L117.0,271.4 L119.0,271.4 L121.0,271.5 L123.0,271.5 L125.0,271.5 L127.0,271.6 L129.0,271.6 L131.0,271.6 L133.0,271.6 L135.0,271.6 L137.0,271.7 L139.0,271.9 L141.0,272.2 L143.0,272.6 L145.0,272.9 L147.0,273.2 L149.0,273.4 L151.0,273.4 L153.0,273.4 L155.0,273.4 L157.0,273.4 L159.0,273.4 L161.0,273.5 L163.0,273.5 L165.0,273.5 L167.0,273.5 L169.0,273.5 L171.0,273.6 L173.0,273.6 L175.0,273.6 L177.0,273.6 L179.0,273.6 L181.0,273.6 L183.0,273.7 L185.0,273.7 L187.0,273.7 L189.0,273.6 L191.0,273.6 L193.0,273.6 L195.0,273.6 L197.0,273.6 L199.0,273.6 L201.0,273.6 L203.0,273.6 L205.0,273.5 L207.0,273.5 L209.0,273.5 L211.0,273.5 L213.0,273.5 L215.0,273.4 L217.0,273.4 L219.0,273.4 L221.0,273.4 L223.0,273.4 L225.0,273.4 L227.0,273.3 L229.0,272.7 L231.0,271.9 L233.0,271.2 L235.0,270.9 L237.0,271.2 L239.0,271.9 L241.0,272.7 L243.0,273.3 L245.0,273.4 L247.0,273.4 L249.0,273.4 L251.0,273.4 L253.0,273.4 L255.0,273.4 L257.0,273.4 L259.0,273.5 L261.0,273.5 L263.0,273.5 L265.0,273.5 L267.0,273.5 L269.0,273.5 L271.0,273.6 L273.0,273.6 L275.0,273.6 L277.0,273.6 L279.0,273.6 L281.0,273.6 L283.0,273.6 L285.0,273.6 L287.0,273.7 L289.0,273.7 L291.0,273.7 L293.0,273.6 L295.0,273.6 L297.0,273.6 L299.0,273.6 L301.0,273.6 L303.0,273.6 L305.0,273.5 L307.0,273.5 L309.0,273.5 L311.0,273.4 L313.0,273.4 L315.0,273.4 L317.0,273.3 L319.0,273.3 L321.0,273.3 L323.0,273.2 L325.0,273.2 L327.0,273.2 L329.0,273.2 L331.0,273.2 L333.0,273.1 L335.0,273.1 L337.0,273.1 L339.0,273.0 L341.0,272.8 L343.0,272.6 L345.0,272.4 L347.0,272.2 L349.0,272.1 L351.0,272.1 L353.0,271.9 L355.0,271.6 L357.0,271.4 L357.5,271.4 L357.5,281.5 Z" fill="#00b0ff"/>
<path d="M7.0,281.5 L7.0,272.5 L9.0,272.6 L11.0,272.9 L13.0,273.1 L15.0,273.1 L17.0,273.1 L19.0,273.2 L21.0,273.2 L23.0,273.3 L25.0,273.3 L27.0,273.3 L29.0,273.3 L31.0,273.3 L33.0,273.4 L35.0,273.4 L37.0,273.4 L39.0,273.5 L41.0,273.5 L43.0,273.6 L45.0,273.7 L47.0,273.7 L49.0,273.8 L51.0,273.8 L53.0,273.9 L55.0,273.9 L57.0,274.0 L59.0,274.0 L61.0,274.0 L63.0,274.0 L65.0,274.0 L67.0,273.9 L69.0,273.9 L71.0,273.9 L73.0,273.8 L75.0,273.8 L77.0,273.7 L79.0,273.7 L81.0,273.6 L83.0,273.6 L85.0,273.6 L87.0,273.6 L89.0,273.6 L91.0,273.5 L93.0,273.5 L95.0,273.4 L97.0,273.3 L99.0,273.1 L101.0,272.9 L103.0,272.8 L105.0,272.6 L107.0,272.5 L109.0,272.5 L111.0,272.5 L113.0,272.5 L115.0,272.5 L117.0,272.5 L119.0,272.5 L121.0,272.6 L123.0,272.6 L125.0,272.6 L127.0,272.6 L129.0,272.7 L131.0,272.7 L133.0,272.7 L135.0,272.7 L137.0,272.8 L139.0,273.0 L141.0,273.2 L143.0,273.5 L145.0,273.8 L147.0,274.0 L149.0,274.2 L151.0,274.2 L153.0,274.2 L155.0,274.2 L157.0,274.2 L159.0,274.2 L161.0,274.3 L163.0,274.3 L165.0,274.3 L167.0,274.3 L169.0,274.3 L171.0,274.3 L173.0,274.4 L175.0,274.4 L177.0,274.4 L179.0,274.4 L181.0,274.4 L183.0,274.4 L185.0,274.4 L187.0,274.4 L189.0,274.4 L191.0,274.4 L193.0,274.4 L195.0,274.4 L197.0,274.4 L199.0,274.4 L201.0,274.3 L203.0,274.3 L205.0,274.3 L207.0,274.3 L209.0,274.3 L211.0,274.3 L213.0,274.3 L215.0,274.2 L217.0,274.2 L219.0,274.2 L221.0,274.2 L223.0,274.2 L225.0,274.2 L227.0,274.1 L229.0,273.6 L231.0,272.9 L233.0,272.3 L235.0,272.1 L237.0,272.3 L239.0,272.9 L241.0,273.6 L243.0,274.1 L245.0,274.2 L247.0,274.2 L249.0,274.2 L251.0,274.2 L253.0,274.2 L255.0,274.2 L257.0,274.2 L259.0,274.3 L261.0,274.3 L263.0,274.3 L265.0,274.3 L267.0,274.3 L269.0,274.3 L271.0,274.3 L273.0,274.3 L275.0,274.4 L277.0,274.4 L279.0,274.4 L281.0,274.4 L283.0,274.4 L285.0,274.4 L287.0,274.4 L289.0,274.4 L291.0,274.4 L293.0,274.4 L295.0,274.4 L297.0,274.4 L299.0,274.4 L301.0,274.4 L303.0,274.3 L305.0,274.3 L307.0,274.3 L309.0,274.2 L311.0,274.2 L313.0,274.2 L315.0,274.2 L317.0,274.1 L319.0,274.1 L321.0,274.1 L323.0,274.1 L325.0,274.0 L327.0,274.0 L329.0,274.0 L331.0,274.0 L333.0,274.0 L335.0,274.0 L337.0,273.9 L339.0,273.8 L341.0,273.7 L343.0,273.5 L345.0,273.3 L347.0,273.2 L349.0,273.1 L351.0,273.1 L353.0,272.9 L355.0,272.6 L357.0,272.5 L357.5,272.5 L357.5,281.5 Z" fill="#0040ff"/>
<path d="M7.0,281.5 L7.0,275.3 L9.0,275.3 L11.0,275.5 L13.0,275.6 L15.0,275.6 L17.0,275.6 L19.0,275.7 L21.0,275.7 L23.0,275.7 L25.0,275.7 L27.0,275.7 L29.0,275.7 L31.0,275.7 L33.0,275.7 L35.0,275.8 L37.0,275.8 L39.0,275.8 L41.0,275.8 L43.0,275.9 L45.0,275.9 L47.0,275.9 L49.0,276.0 L51.0,276.0 L53.0,276.0 L55.0,276.1 L57.0,276.1 L59.0,276.1 L61.0,276.1 L63.0,276.1 L65.0,276.1 L67.0,276.1 L69.0,276.0 L71.0,276.0 L73.0,276.0 L75.0,276.0 L77.0,275.9 L79.0,275.9 L81.0,275.9 L83.0,275.9 L85.0,275.9 L87.0,275.9 L89.0,275.9 L91.0,275.9 L93.0,275.8 L95.0,275.8 L97.0,275.7 L99.0,275.6 L101.0,275.5 L103.0,275.4 L105.0,275.4 L107.0,275.3 L109.0,275.3 L111.0,275.3 L113.0,275.3 L115.0,275.3 L117.0,275.3 L119.0,275.3 L121.0,275.3 L123.0,275.3 L125.0,275.4 L127.0,275.4 L129.0,275.4 L131.0,275.4 L133.0,275.4 L135.0,275.4 L137.0,275.4 L139.0,275.5 L141.0,275.7 L143.0,275.8 L145.0,276.0 L147.0,276.1 L149.0,276.2 L151.0,276.2 L153.0,276.2 L155.0,276.2 L157.0,276.2 L159.0,276.2 L161.0,276.2 L163.0,276.2 L165.0,276.2 L167.0,276.3 L169.0,276.3 L171.0,276.3 L173.0,276.3 L175.0,276.3 L177.0,276.3 L179.0,276.3 L181.0,276.3 L183.0,276.3 L185.0,276.3 L187.0,276.3 L189.0,276.3 L191.0,276.3 L193.0,276.3 L195.0,276.3 L197.0,276.3 L199.0,276.3 L201.0,276.3 L203.0,276.3 L205.0,276.3 L207.0,276.3 L209.0,276.2 L211.0,276.2 L213.0,276.2 L215.0,276.2 L217.0,276.2 L219.0,276.2 L221.0,276.2 L223.0,276.2 L225.0,276.2 L227.0,276.2 L229.0,275.9 L231.0,275.5 L233.0,275.2 L235.0,275.1 L237.0,275.2 L239.0,275.5 L241.0,275.9 L243.0,276.2 L245.0,276.2 L247.0,276.2 L249.0,276.2 L251.0,276.2 L253.0,276.2 L255.0,276.2 L257.0,276.2 L259.0,276.2 L261.0,276.2 L263.0,276.2 L265.0,276.3 L267.0,276.3 L269.0,276.3 L271.0,276.3 L273.0,276.3 L275.0,276.3 L277.0,276.3 L279.0,276.3 L281.0,276.3 L283.0,276.3 L285.0,276.3 L287.0,276.3 L289.0,276.3 L291.0,276.3 L293.0,276.3 L295.0,276.3 L297.0,276.3 L299.0,276.3 L301.0,276.3 L303.0,276.3 L305.0,276.3 L307.0,276.2 L309.0,276.2 L311.0,276.2 L313.0,276.2 L315.0,276.2 L317.0,276.2 L319.0,276.2 L321.0,276.1 L323.0,276.1 L325.0,276.1 L327.0,276.1 L329.0,276.1 L331.0,276.1 L333.0,276.1 L335.0,276.1 L337.0,276.1 L339.0,276.0 L341.0,275.9 L343.0,275.8 L345.0,275.7 L347.0,275.7 L349.0,275.6 L351.0,275.6 L353.0,275.5 L355.0,275.4 L357.0,275.3 L357.5,275.3 L357.5,281.5 Z" fill="#0000b0"/>
</g>
<ellipse cx="9" cy="271" rx="3.2" ry="4" fill="#ffc000" opacity="0.9" filter="url(#b1)"/>
<path d="M7,169.20 L9,169.20 L12,169.20 L15,169.20 L18,169.20 L21,169.20 L24,169.20 L27,169.20 L30,169.20 L33,169.20 L36,169.20 L39,169.20 L42,169.20 L45,169.20 L48,169.20 L51,169.20 L54,169.20 L57,169.20 L60,169.20 L63,169.20 L66,169.20 L69,169.20 L72,169.20 L75,169.20 L78,169.20 L81,169.20 L84,169.20 L87,169.20 L90,169.20 L93,169.20 L96,169.20 L99,169.20 L102,169.20 L105,169.20 L108,169.20 L111,169.20 L114,169.20 L117,169.19 L120,169.19 L123,169.19 L126,169.18 L129,169.17 L132,169.16 L135,169.14 L138,169.12 L141,169.08 L144,169.03 L147,168.96 L150,168.87 L153,168.73 L156,168.54 L159,168.27 L162,167.91 L165,167.43 L168,166.79 L171,165.97 L174,164.95 L177,163.75 L180,162.39 L183,160.95 L186,159.51 L189,158.15 L192,156.95 L195,155.93 L198,155.11 L201,154.47 L204,153.99 L207,153.63 L210,153.36 L213,153.17 L216,153.03 L219,152.94 L222,152.87 L225,152.82 L228,152.78 L231,152.76 L234,152.74 L237,152.73 L240,152.72 L243,152.71 L246,152.71 L249,152.71 L252,152.70 L255,152.70 L258,152.70 L261,152.70 L264,152.70 L267,152.70 L270,152.70 L273,152.70 L276,152.70 L279,152.70 L282,152.70 L285,152.70 L288,152.70 L291,152.70 L294,152.70 L297,152.70 L300,152.70 L303,152.70 L306,152.70 L309,152.70 L312,152.70 L315,152.70 L318,152.70 L321,152.70 L324,152.70 L327,152.70 L330,152.70 L333,152.70 L336,152.70 L339,152.70 L342,152.70 L345,152.70 L348,152.70 L351,152.70 L354,152.70 L357,152.70 L357.5,152.70 M7,171.30 L9,171.30 L12,171.30 L15,171.30 L18,171.30 L21,171.30 L24,171.30 L27,171.30 L30,171.30 L33,171.30 L36,171.30 L39,171.30 L42,171.30 L45,171.30 L48,171.30 L51,171.30 L54,171.30 L57,171.30 L60,171.30 L63,171.30 L66,171.30 L69,171.30 L72,171.30 L75,171.30 L78,171.30 L81,171.30 L84,171.30 L87,171.30 L90,171.30 L93,171.30 L96,171.30 L99,171.30 L102,171.30 L105,171.30 L108,171.29 L111,171.29 L114,171.29 L117,171.29 L120,171.28 L123,171.27 L126,171.26 L129,171.25 L132,171.23 L135,171.21 L138,171.17 L141,171.12 L144,171.06 L147,170.97 L150,170.84 L153,170.68 L156,170.45 L159,170.16 L162,169.76 L165,169.25 L168,168.60 L171,167.78 L174,166.79 L177,165.63 L180,164.32 L183,162.92 L186,161.49 L189,160.10 L192,158.81 L195,157.67 L198,156.70 L201,155.91 L204,155.27 L207,154.78 L210,154.40 L213,154.11 L216,153.90 L219,153.74 L222,153.62 L225,153.53 L228,153.47 L231,153.42 L234,153.39 L237,153.37 L240,153.35 L243,153.33 L246,153.33 L249,153.32 L252,153.31 L255,153.31 L258,153.31 L261,153.31 L264,153.30 L267,153.30 L270,153.30 L273,153.30 L276,153.30 L279,153.30 L282,153.30 L285,153.30 L288,153.30 L291,153.30 L294,153.30 L297,153.30 L300,153.30 L303,153.30 L306,153.30 L309,153.30 L312,153.30 L315,153.30 L318,153.30 L321,153.30 L324,153.30 L327,153.30 L330,153.30 L333,153.30 L336,153.30 L339,153.30 L342,153.30 L345,153.30 L348,153.30 L351,153.30 L354,153.30 L357,153.30 L357.5,153.30 M7,173.40 L9,173.40 L12,173.40 L15,173.40 L18,173.40 L21,173.40 L24,173.40 L27,173.40 L30,173.40 L33,173.40 L36,173.40 L39,173.40 L42,173.40 L45,173.40 L48,173.40 L51,173.40 L54,173.40 L57,173.40 L60,173.40 L63,173.40 L66,173.40 L69,173.40 L72,173.40 L75,173.40 L78,173.40 L81,173.40 L84,173.40 L87,173.40 L90,173.40 L93,173.40 L96,173.40 L99,173.40 L102,173.39 L105,173.39 L108,173.39 L111,173.39 L114,173.38 L117,173.38 L120,173.37 L123,173.36 L126,173.34 L129,173.32 L132,173.29 L135,173.26 L138,173.21 L141,173.15 L144,173.06 L147,172.95 L150,172.80 L153,172.61 L156,172.36 L159,172.03 L162,171.61 L165,171.08 L168,170.41 L171,169.60 L174,168.63 L177,167.50 L180,166.24 L183,164.87 L186,163.46 L189,162.06 L192,160.71 L195,159.49 L198,158.40 L201,157.47 L204,156.70 L207,156.07 L210,155.57 L213,155.17 L216,154.87 L219,154.63 L222,154.45 L225,154.32 L228,154.21 L231,154.13 L234,154.08 L237,154.03 L240,154.00 L243,153.97 L246,153.96 L249,153.94 L252,153.93 L255,153.92 L258,153.92 L261,153.91 L264,153.91 L267,153.91 L270,153.91 L273,153.90 L276,153.90 L279,153.90 L282,153.90 L285,153.90 L288,153.90 L291,153.90 L294,153.90 L297,153.90 L300,153.90 L303,153.90 L306,153.90 L309,153.90 L312,153.90 L315,153.90 L318,153.90 L321,153.90 L324,153.90 L327,153.90 L330,153.90 L333,153.90 L336,153.90 L339,153.90 L342,153.90 L345,153.90 L348,153.90 L351,153.90 L354,153.90 L357,153.90 L357.5,153.90 M7,175.50 L9,175.50 L12,175.50 L15,175.50 L18,175.50 L21,175.50 L24,175.50 L27,175.50 L30,175.50 L33,175.50 L36,175.50 L39,175.50 L42,175.50 L45,175.50 L48,175.50 L51,175.50 L54,175.50 L57,175.50 L60,175.50 L63,175.50 L66,175.50 L69,175.50 L72,175.50 L75,175.50 L78,175.50 L81,175.50 L84,175.50 L87,175.50 L90,175.50 L93,175.50 L96,175.49 L99,175.49 L102,175.49 L105,175.49 L108,175.48 L111,175.48 L114,175.47 L117,175.46 L120,175.45 L123,175.43 L126,175.41 L129,175.38 L132,175.35 L135,175.30 L138,175.24 L141,175.16 L144,175.05 L147,174.92 L150,174.75 L153,174.53 L156,174.25 L159,173.89 L162,173.45 L165,172.90 L168,172.22 L171,171.41 L174,170.46 L177,169.36 L180,168.14 L183,166.81 L186,165.42 L189,164.02 L192,162.65 L195,161.36 L198,160.18 L201,159.14 L204,158.25 L207,157.49 L210,156.87 L213,156.36 L216,155.95 L219,155.63 L222,155.38 L225,155.18 L228,155.02 L231,154.90 L234,154.81 L237,154.74 L240,154.68 L243,154.64 L246,154.61 L249,154.58 L252,154.56 L255,154.55 L258,154.54 L261,154.53 L264,154.52 L267,154.52 L270,154.51 L273,154.51 L276,154.51 L279,154.51 L282,154.50 L285,154.50 L288,154.50 L291,154.50 L294,154.50 L297,154.50 L300,154.50 L303,154.50 L306,154.50 L309,154.50 L312,154.50 L315,154.50 L318,154.50 L321,154.50 L324,154.50 L327,154.50 L330,154.50 L333,154.50 L336,154.50 L339,154.50 L342,154.50 L345,154.50 L348,154.50 L351,154.50 L354,154.50 L357,154.50 L357.5,154.50 M7,177.70 L9,177.70 L12,177.70 L15,177.70 L18,177.70 L21,177.70 L24,177.70 L27,177.70 L30,177.70 L33,177.70 L36,177.70 L39,177.70 L42,177.70 L45,177.70 L48,177.70 L51,177.70 L54,177.70 L57,177.70 L60,177.70 L63,177.70 L66,177.70 L69,177.70 L72,177.70 L75,177.70 L78,177.70 L81,177.70 L84,177.70 L87,177.69 L90,177.69 L93,177.69 L96,177.69 L99,177.69 L102,177.68 L105,177.68 L108,177.67 L111,177.66 L114,177.65 L117,177.64 L120,177.62 L123,177.60 L126,177.57 L129,177.53 L132,177.48 L135,177.43 L138,177.35 L141,177.25 L144,177.13 L147,176.97 L150,176.78 L153,176.53 L156,176.22 L159,175.84 L162,175.37 L165,174.80 L168,174.12 L171,173.31 L174,172.36 L177,171.29 L180,170.09 L183,168.79 L186,167.42 L189,166.03 L192,164.64 L195,163.31 L198,162.06 L201,160.92 L204,159.92 L207,159.04 L210,158.30 L213,157.68 L216,157.16 L219,156.74 L222,156.40 L225,156.13 L228,155.91 L231,155.74 L234,155.60 L237,155.49 L240,155.41 L243,155.34 L246,155.29 L249,155.25 L252,155.22 L255,155.19 L258,155.17 L261,155.15 L264,155.14 L267,155.13 L270,155.13 L273,155.12 L276,155.12 L279,155.11 L282,155.11 L285,155.11 L288,155.11 L291,155.10 L294,155.10 L297,155.10 L300,155.10 L303,155.10 L306,155.10 L309,155.10 L312,155.10 L315,155.10 L318,155.10 L321,155.10 L324,155.10 L327,155.10 L330,155.10 L333,155.10 L336,155.10 L339,155.10 L342,155.10 L345,155.10 L348,155.10 L351,155.10 L354,155.10 L357,155.10 L357.5,155.10 M7,181.50 L9,181.50 L12,181.50 L15,181.50 L18,181.50 L21,181.50 L24,181.50 L27,181.50 L30,181.50 L33,181.50 L36,181.50 L39,181.50 L42,181.50 L45,181.50 L48,181.50 L51,181.50 L54,181.50 L57,181.50 L60,181.50 L63,181.50 L66,181.50 L69,181.50 L72,181.50 L75,181.50 L78,181.50 L81,181.49 L84,181.49 L87,181.49 L90,181.49 L93,181.48 L96,181.48 L99,181.48 L102,181.47 L105,181.46 L108,181.45 L111,181.44 L114,181.42 L117,181.40 L120,181.38 L123,181.35 L126,181.31 L129,181.26 L132,181.20 L135,181.12 L138,181.02 L141,180.90 L144,180.75 L147,180.56 L150,180.33 L153,180.04 L156,179.68 L159,179.25 L162,178.73 L165,178.11 L168,177.37 L171,176.51 L174,175.52 L177,174.39 L180,173.15 L183,171.80 L186,170.37 L189,168.90 L192,167.42 L195,165.97 L198,164.59 L201,163.31 L204,162.14 L207,161.11 L210,160.20 L213,159.42 L216,158.76 L219,158.21 L222,157.75 L225,157.37 L228,157.06 L231,156.81 L234,156.61 L237,156.45 L240,156.32 L243,156.21 L246,156.13 L249,156.06 L252,156.01 L255,155.97 L258,155.93 L261,155.90 L264,155.88 L267,155.87 L270,155.85 L273,155.84 L276,155.83 L279,155.83 L282,155.82 L285,155.82 L288,155.81 L291,155.81 L294,155.81 L297,155.81 L300,155.81 L303,155.80 L306,155.80 L309,155.80 L312,155.80 L315,155.80 L318,155.80 L321,155.80 L324,155.80 L327,155.80 L330,155.80 L333,155.80 L336,155.80 L339,155.80 L342,155.80 L345,155.80 L348,155.80 L351,155.80 L354,155.80 L357,155.80 L357.5,155.80 M7,184.00 L9,184.00 L12,184.00 L15,184.00 L18,184.00 L21,184.00 L24,184.00 L27,184.00 L30,184.00 L33,184.00 L36,184.00 L39,184.00 L42,184.00 L45,184.00 L48,184.00 L51,184.00 L54,184.00 L57,184.00 L60,184.00 L63,184.00 L66,184.00 L69,184.00 L72,183.99 L75,183.99 L78,183.99 L81,183.99 L84,183.99 L87,183.99 L90,183.98 L93,183.98 L96,183.97 L99,183.97 L102,183.96 L105,183.95 L108,183.93 L111,183.92 L114,183.90 L117,183.87 L120,183.84 L123,183.81 L126,183.76 L129,183.70 L132,183.63 L135,183.54 L138,183.43 L141,183.30 L144,183.14 L147,182.94 L150,182.70 L153,182.40 L156,182.05 L159,181.62 L162,181.11 L165,180.51 L168,179.81 L171,179.00 L174,178.07 L177,177.02 L180,175.87 L183,174.63 L186,173.31 L189,171.93 L192,170.54 L195,169.17 L198,167.83 L201,166.57 L204,165.40 L207,164.33 L210,163.38 L213,162.54 L216,161.82 L219,161.20 L222,160.67 L225,160.23 L228,159.86 L231,159.56 L234,159.30 L237,159.10 L240,158.93 L243,158.79 L246,158.68 L249,158.59 L252,158.51 L255,158.45 L258,158.40 L261,158.36 L264,158.33 L267,158.31 L270,158.29 L273,158.27 L276,158.26 L279,158.25 L282,158.24 L285,158.23 L288,158.22 L291,158.22 L294,158.22 L297,158.21 L300,158.21 L303,158.21 L306,158.21 L309,158.21 L312,158.20 L315,158.20 L318,158.20 L321,158.20 L324,158.20 L327,158.20 L330,158.20 L333,158.20 L336,158.20 L339,158.20 L342,158.20 L345,158.20 L348,158.20 L351,158.20 L354,158.20 L357,158.20 L357.5,158.20 M7,187.60 L9,187.60 L12,187.60 L15,187.60 L18,187.60 L21,187.60 L24,187.60 L27,187.60 L30,187.60 L33,187.60 L36,187.60 L39,187.60 L42,187.60 L45,187.60 L48,187.60 L51,187.60 L54,187.60 L57,187.60 L60,187.60 L63,187.60 L66,187.59 L69,187.59 L72,187.59 L75,187.59 L78,187.59 L81,187.59 L84,187.58 L87,187.58 L90,187.57 L93,187.57 L96,187.56 L99,187.55 L102,187.54 L105,187.53 L108,187.51 L111,187.49 L114,187.47 L117,187.44 L120,187.40 L123,187.35 L126,187.30 L129,187.23 L132,187.15 L135,187.05 L138,186.93 L141,186.79 L144,186.61 L147,186.40 L150,186.14 L153,185.84 L156,185.47 L159,185.04 L162,184.53 L165,183.94 L168,183.25 L171,182.47 L174,181.57 L177,180.58 L180,179.48 L183,178.30 L186,177.04 L189,175.73 L192,174.39 L195,173.06 L198,171.74 L201,170.48 L204,169.29 L207,168.19 L210,167.19 L213,166.29 L216,165.50 L219,164.80 L222,164.20 L225,163.69 L228,163.25 L231,162.88 L234,162.58 L237,162.32 L240,162.10 L243,161.92 L246,161.78 L249,161.66 L252,161.55 L255,161.47 L258,161.41 L261,161.35 L264,161.30 L267,161.27 L270,161.24 L273,161.21 L276,161.19 L279,161.17 L282,161.16 L285,161.15 L288,161.14 L291,161.13 L294,161.13 L297,161.12 L300,161.12 L303,161.11 L306,161.11 L309,161.11 L312,161.11 L315,161.11 L318,161.11 L321,161.10 L324,161.10 L327,161.10 L330,161.10 L333,161.10 L336,161.10 L339,161.10 L342,161.10 L345,161.10 L348,161.10 L351,161.10 L354,161.10 L357,161.10 L357.5,161.10 M7,191.40 L9,191.40 L12,191.40 L15,191.40 L18,191.40 L21,191.40 L24,191.40 L27,191.40 L30,191.40 L33,191.40 L36,191.40 L39,191.40 L42,191.40 L45,191.40 L48,191.40 L51,191.40 L54,191.40 L57,191.40 L60,191.39 L63,191.39 L66,191.39 L69,191.39 L72,191.39 L75,191.39 L78,191.38 L81,191.38 L84,191.38 L87,191.37 L90,191.36 L93,191.36 L96,191.35 L99,191.34 L102,191.32 L105,191.31 L108,191.29 L111,191.26 L114,191.23 L117,191.20 L120,191.16 L123,191.11 L126,191.04 L129,190.97 L132,190.88 L135,190.78 L138,190.65 L141,190.49 L144,190.31 L147,190.09 L150,189.83 L153,189.53 L156,189.17 L159,188.75 L162,188.25 L165,187.68 L168,187.03 L171,186.29 L174,185.45 L177,184.53 L180,183.51 L183,182.42 L186,181.25 L189,180.04 L192,178.79 L195,177.53 L198,176.28 L201,175.07 L204,173.91 L207,172.82 L210,171.81 L213,170.89 L216,170.06 L219,169.32 L222,168.68 L225,168.11 L228,167.62 L231,167.21 L234,166.85 L237,166.55 L240,166.29 L243,166.08 L246,165.89 L249,165.74 L252,165.62 L255,165.51 L258,165.42 L261,165.35 L264,165.29 L267,165.24 L270,165.20 L273,165.16 L276,165.14 L279,165.11 L282,165.09 L285,165.08 L288,165.06 L291,165.05 L294,165.04 L297,165.04 L300,165.03 L303,165.02 L306,165.02 L309,165.02 L312,165.01 L315,165.01 L318,165.01 L321,165.01 L324,165.01 L327,165.01 L330,165.00 L333,165.00 L336,165.00 L339,165.00 L342,165.00 L345,165.00 L348,165.00 L351,165.00 L354,165.00 L357,165.00 L357.5,165.00 M7,195.70 L9,195.70 L12,195.70 L15,195.70 L18,195.70 L21,195.70 L24,195.70 L27,195.70 L30,195.70 L33,195.70 L36,195.70 L39,195.70 L42,195.70 L45,195.70 L48,195.70 L51,195.70 L54,195.69 L57,195.69 L60,195.69 L63,195.69 L66,195.69 L69,195.69 L72,195.68 L75,195.68 L78,195.68 L81,195.67 L84,195.67 L87,195.66 L90,195.65 L93,195.64 L96,195.63 L99,195.62 L102,195.60 L105,195.58 L108,195.56 L111,195.53 L114,195.50 L117,195.46 L120,195.41 L123,195.35 L126,195.28 L129,195.20 L132,195.11 L135,194.99 L138,194.86 L141,194.70 L144,194.51 L147,194.28 L150,194.02 L153,193.71 L156,193.35 L159,192.94 L162,192.46 L165,191.91 L168,191.28 L171,190.57 L174,189.78 L177,188.91 L180,187.96 L183,186.94 L186,185.84 L189,184.70 L192,183.53 L195,182.33 L198,181.14 L201,179.97 L204,178.83 L207,177.75 L210,176.74 L213,175.81 L216,174.95 L219,174.18 L222,173.49 L225,172.88 L228,172.34 L231,171.88 L234,171.47 L237,171.12 L240,170.82 L243,170.57 L246,170.35 L249,170.17 L252,170.01 L255,169.88 L258,169.77 L261,169.68 L264,169.60 L267,169.54 L270,169.48 L273,169.43 L276,169.40 L279,169.36 L282,169.34 L285,169.31 L288,169.30 L291,169.28 L294,169.27 L297,169.26 L300,169.25 L303,169.24 L306,169.23 L309,169.23 L312,169.22 L315,169.22 L318,169.22 L321,169.21 L324,169.21 L327,169.21 L330,169.21 L333,169.21 L336,169.21 L339,169.20 L342,169.20 L345,169.20 L348,169.20 L351,169.20 L354,169.20 L357,169.20 L357.5,169.20 M7,199.90 L9,199.90 L12,199.90 L15,199.90 L18,199.90 L21,199.90 L24,199.90 L27,199.90 L30,199.90 L33,199.90 L36,199.90 L39,199.90 L42,199.90 L45,199.90 L48,199.89 L51,199.89 L54,199.89 L57,199.89 L60,199.89 L63,199.89 L66,199.88 L69,199.88 L72,199.88 L75,199.87 L78,199.87 L81,199.86 L84,199.86 L87,199.85 L90,199.84 L93,199.83 L96,199.81 L99,199.80 L102,199.78 L105,199.75 L108,199.73 L111,199.70 L114,199.66 L117,199.61 L120,199.56 L123,199.50 L126,199.42 L129,199.34 L132,199.23 L135,199.11 L138,198.97 L141,198.80 L144,198.61 L147,198.38 L150,198.12 L153,197.81 L156,197.45 L159,197.05 L162,196.58 L165,196.05 L168,195.45 L171,194.78 L174,194.03 L177,193.21 L180,192.32 L183,191.36 L186,190.34 L189,189.27 L192,188.16 L195,187.03 L198,185.89 L201,184.77 L204,183.67 L207,182.62 L210,181.62 L213,180.68 L216,179.81 L219,179.01 L222,178.29 L225,177.64 L228,177.07 L231,176.56 L234,176.11 L237,175.72 L240,175.38 L243,175.09 L246,174.84 L249,174.62 L252,174.44 L255,174.28 L258,174.15 L261,174.03 L264,173.93 L267,173.85 L270,173.78 L273,173.72 L276,173.67 L279,173.63 L282,173.59 L285,173.56 L288,173.54 L291,173.52 L294,173.50 L297,173.48 L300,173.47 L303,173.46 L306,173.45 L309,173.44 L312,173.43 L315,173.43 L318,173.42 L321,173.42 L324,173.42 L327,173.41 L330,173.41 L333,173.41 L336,173.41 L339,173.41 L342,173.41 L345,173.41 L348,173.40 L351,173.40 L354,173.40 L357,173.40 L357.5,173.40 M7,204.10 L9,204.10 L12,204.10 L15,204.10 L18,204.10 L21,204.10 L24,204.10 L27,204.10 L30,204.10 L33,204.10 L36,204.10 L39,204.10 L42,204.10 L45,204.09 L48,204.09 L51,204.09 L54,204.09 L57,204.09 L60,204.09 L63,204.09 L66,204.08 L69,204.08 L72,204.08 L75,204.07 L78,204.07 L81,204.06 L84,204.06 L87,204.05 L90,204.04 L93,204.03 L96,204.02 L99,204.00 L102,203.99 L105,203.97 L108,203.94 L111,203.92 L114,203.89 L117,203.85 L120,203.80 L123,203.75 L126,203.69 L129,203.62 L132,203.54 L135,203.44 L138,203.33 L141,203.20 L144,203.05 L147,202.87 L150,202.67 L153,202.44 L156,202.17 L159,201.87 L162,201.53 L165,201.14 L168,200.70 L171,200.22 L174,199.68 L177,199.09 L180,198.45 L183,197.77 L186,197.04 L189,196.28 L192,195.49 L195,194.68 L198,193.86 L201,193.04 L204,192.24 L207,191.46 L210,190.71 L213,190.00 L216,189.34 L219,188.73 L222,188.16 L225,187.65 L228,187.19 L231,186.77 L234,186.41 L237,186.08 L240,185.80 L243,185.55 L246,185.33 L249,185.14 L252,184.98 L255,184.84 L258,184.72 L261,184.61 L264,184.52 L267,184.44 L270,184.38 L273,184.32 L276,184.28 L279,184.23 L282,184.20 L285,184.17 L288,184.14 L291,184.12 L294,184.10 L297,184.09 L300,184.08 L303,184.06 L306,184.05 L309,184.05 L312,184.04 L315,184.03 L318,184.03 L321,184.02 L324,184.02 L327,184.02 L330,184.01 L333,184.01 L336,184.01 L339,184.01 L342,184.01 L345,184.01 L348,184.01 L351,184.00 L354,184.00 L357,184.00 L357.5,184.00 M7,208.00 L9,208.00 L12,208.00 L15,208.00 L18,208.00 L21,208.00 L24,208.00 L27,208.00 L30,208.00 L33,208.00 L36,208.00 L39,208.00 L42,207.99 L45,207.99 L48,207.99 L51,207.99 L54,207.99 L57,207.99 L60,207.99 L63,207.98 L66,207.98 L69,207.98 L72,207.98 L75,207.97 L78,207.97 L81,207.96 L84,207.95 L87,207.95 L90,207.94 L93,207.93 L96,207.91 L99,207.90 L102,207.88 L105,207.86 L108,207.84 L111,207.81 L114,207.78 L117,207.75 L120,207.71 L123,207.66 L126,207.60 L129,207.53 L132,207.46 L135,207.37 L138,207.27 L141,207.15 L144,207.02 L147,206.86 L150,206.69 L153,206.49 L156,206.26 L159,206.00 L162,205.70 L165,205.37 L168,205.01 L171,204.60 L174,204.15 L177,203.67 L180,203.14 L183,202.57 L186,201.97 L189,201.34 L192,200.69 L195,200.02 L198,199.34 L201,198.65 L204,197.98 L207,197.31 L210,196.67 L213,196.06 L216,195.48 L219,194.94 L222,194.44 L225,193.97 L228,193.55 L231,193.17 L234,192.82 L237,192.52 L240,192.24 L243,192.00 L246,191.79 L249,191.60 L252,191.44 L255,191.30 L258,191.18 L261,191.07 L264,190.97 L267,190.89 L270,190.82 L273,190.76 L276,190.71 L279,190.67 L282,190.63 L285,190.60 L288,190.57 L291,190.55 L294,190.52 L297,190.51 L300,190.49 L303,190.48 L306,190.47 L309,190.46 L312,190.45 L315,190.44 L318,190.44 L321,190.43 L324,190.43 L327,190.42 L330,190.42 L333,190.42 L336,190.41 L339,190.41 L342,190.41 L345,190.41 L348,190.41 L351,190.41 L354,190.41 L357,190.40 L357.5,190.40 M7,210.50 L9,210.50 L12,210.50 L15,210.50 L18,210.50 L21,210.50 L24,210.50 L27,210.50 L30,210.50 L33,210.50 L36,210.50 L39,210.49 L42,210.49 L45,210.49 L48,210.49 L51,210.49 L54,210.49 L57,210.49 L60,210.48 L63,210.48 L66,210.48 L69,210.48 L72,210.47 L75,210.47 L78,210.46 L81,210.46 L84,210.45 L87,210.44 L90,210.43 L93,210.42 L96,210.41 L99,210.40 L102,210.38 L105,210.36 L108,210.34 L111,210.31 L114,210.28 L117,210.25 L120,210.21 L123,210.16 L126,210.11 L129,210.05 L132,209.98 L135,209.90 L138,209.81 L141,209.70 L144,209.58 L147,209.45 L150,209.29 L153,209.12 L156,208.92 L159,208.69 L162,208.44 L165,208.16 L168,207.85 L171,207.51 L174,207.13 L177,206.73 L180,206.29 L183,205.82 L186,205.32 L189,204.79 L192,204.25 L195,203.69 L198,203.11 L201,202.54 L204,201.97 L207,201.40 L210,200.85 L213,200.32 L216,199.82 L219,199.34 L222,198.89 L225,198.47 L228,198.09 L231,197.74 L234,197.42 L237,197.13 L240,196.87 L243,196.64 L246,196.44 L249,196.25 L252,196.09 L255,195.95 L258,195.83 L261,195.72 L264,195.62 L267,195.54 L270,195.47 L273,195.40 L276,195.35 L279,195.30 L282,195.26 L285,195.23 L288,195.20 L291,195.17 L294,195.15 L297,195.13 L300,195.11 L303,195.09 L306,195.08 L309,195.07 L312,195.06 L315,195.05 L318,195.04 L321,195.04 L324,195.03 L327,195.03 L330,195.02 L333,195.02 L336,195.02 L339,195.02 L342,195.01 L345,195.01 L348,195.01 L351,195.01 L354,195.01 L357,195.01 L357.5,195.01 M7,216.90 L9,216.90 L12,216.90 L15,216.90 L18,216.90 L21,216.90 L24,216.90 L27,216.90 L30,216.89 L33,216.89 L36,216.89 L39,216.89 L42,216.89 L45,216.89 L48,216.89 L51,216.88 L54,216.88 L57,216.88 L60,216.88 L63,216.87 L66,216.87 L69,216.86 L72,216.86 L75,216.85 L78,216.84 L81,216.84 L84,216.83 L87,216.82 L90,216.80 L93,216.79 L96,216.77 L99,216.75 L102,216.73 L105,216.70 L108,216.67 L111,216.64 L114,216.60 L117,216.55 L120,216.50 L123,216.44 L126,216.37 L129,216.30 L132,216.21 L135,216.11 L138,215.99 L141,215.86 L144,215.71 L147,215.54 L150,215.35 L153,215.13 L156,214.89 L159,214.62 L162,214.32 L165,213.99 L168,213.62 L171,213.22 L174,212.77 L177,212.30 L180,211.78 L183,211.23 L186,210.65 L189,210.04 L192,209.40 L195,208.74 L198,208.07 L201,207.40 L204,206.72 L207,206.05 L210,205.39 L213,204.75 L216,204.13 L219,203.54 L222,202.99 L225,202.47 L228,201.99 L231,201.54 L234,201.13 L237,200.76 L240,200.42 L243,200.12 L246,199.84 L249,199.60 L252,199.38 L255,199.18 L258,199.01 L261,198.86 L264,198.73 L267,198.61 L270,198.51 L273,198.42 L276,198.34 L279,198.27 L282,198.21 L285,198.15 L288,198.11 L291,198.07 L294,198.03 L297,198.00 L300,197.98 L303,197.95 L306,197.93 L309,197.91 L312,197.90 L315,197.89 L318,197.88 L321,197.87 L324,197.86 L327,197.85 L330,197.84 L333,197.84 L336,197.83 L339,197.83 L342,197.82 L345,197.82 L348,197.82 L351,197.82 L354,197.81 L357,197.81 L357.5,197.81 M7,221.70 L9,221.70 L12,221.70 L15,221.70 L18,221.70 L21,221.70 L24,221.70 L27,221.70 L30,221.70 L33,221.69 L36,221.69 L39,221.69 L42,221.69 L45,221.69 L48,221.69 L51,221.69 L54,221.69 L57,221.68 L60,221.68 L63,221.68 L66,221.68 L69,221.67 L72,221.67 L75,221.66 L78,221.66 L81,221.65 L84,221.64 L87,221.64 L90,221.63 L93,221.62 L96,221.60 L99,221.59 L102,221.57 L105,221.56 L108,221.53 L111,221.51 L114,221.48 L117,221.45 L120,221.42 L123,221.38 L126,221.33 L129,221.28 L132,221.22 L135,221.15 L138,221.08 L141,220.99 L144,220.90 L147,220.79 L150,220.66 L153,220.53 L156,220.37 L159,220.20 L162,220.02 L165,219.81 L168,219.58 L171,219.33 L174,219.06 L177,218.76 L180,218.45 L183,218.11 L186,217.75 L189,217.38 L192,216.99 L195,216.59 L198,216.18 L201,215.76 L204,215.34 L207,214.92 L210,214.51 L213,214.11 L216,213.72 L219,213.35 L222,212.99 L225,212.65 L228,212.34 L231,212.04 L234,211.77 L237,211.52 L240,211.29 L243,211.08 L246,210.90 L249,210.73 L252,210.57 L255,210.44 L258,210.31 L261,210.20 L264,210.11 L267,210.02 L270,209.95 L273,209.88 L276,209.82 L279,209.77 L282,209.72 L285,209.68 L288,209.65 L291,209.62 L294,209.59 L297,209.57 L300,209.54 L303,209.53 L306,209.51 L309,209.50 L312,209.48 L315,209.47 L318,209.46 L321,209.46 L324,209.45 L327,209.44 L330,209.44 L333,209.43 L336,209.43 L339,209.42 L342,209.42 L345,209.42 L348,209.42 L351,209.41 L354,209.41 L357,209.41 L357.5,209.41 M7,240.20 L9,240.20 L12,240.20 L15,240.20 L18,240.20 L21,240.20 L24,240.20 L27,240.20 L30,240.20 L33,240.20 L36,240.20 L39,240.20 L42,240.20 L45,240.20 L48,240.20 L51,240.20 L54,240.20 L57,240.20 L60,240.20 L63,240.20 L66,240.19 L69,240.19 L72,240.19 L75,240.19 L78,240.19 L81,240.19 L84,240.19 L87,240.19 L90,240.18 L93,240.18 L96,240.18 L99,240.18 L102,240.17 L105,240.17 L108,240.17 L111,240.16 L114,240.16 L117,240.15 L120,240.14 L123,240.14 L126,240.13 L129,240.12 L132,240.11 L135,240.10 L138,240.08 L141,240.07 L144,240.05 L147,240.03 L150,240.01 L153,239.98 L156,239.96 L159,239.93 L162,239.89 L165,239.86 L168,239.82 L171,239.78 L174,239.73 L177,239.68 L180,239.63 L183,239.57 L186,239.51 L189,239.44 L192,239.38 L195,239.31 L198,239.24 L201,239.17 L204,239.10 L207,239.02 L210,238.95 L213,238.88 L216,238.81 L219,238.75 L222,238.68 L225,238.62 L228,238.57 L231,238.51 L234,238.46 L237,238.42 L240,238.38 L243,238.34 L246,238.30 L249,238.27 L252,238.24 L255,238.21 L258,238.19 L261,238.17 L264,238.15 L267,238.13 L270,238.12 L273,238.10 L276,238.09 L279,238.08 L282,238.07 L285,238.06 L288,238.05 L291,238.05 L294,238.04 L297,238.04 L300,238.03 L303,238.03 L306,238.03 L309,238.02 L312,238.02 L315,238.02 L318,238.01 L321,238.01 L324,238.01 L327,238.01 L330,238.01 L333,238.01 L336,238.01 L339,238.01 L342,238.01 L345,238.00 L348,238.00 L351,238.00 L354,238.00 L357,238.00 L357.5,238.00 M7,245.90 L9,245.90 L12,245.90 L15,245.90 L18,245.90 L21,245.90 L24,245.90 L27,245.90 L30,245.90 L33,245.90 L36,245.90 L39,245.90 L42,245.90 L45,245.90 L48,245.90 L51,245.90 L54,245.90 L57,245.90 L60,245.90 L63,245.89 L66,245.89 L69,245.89 L72,245.89 L75,245.89 L78,245.89 L81,245.89 L84,245.89 L87,245.89 L90,245.88 L93,245.88 L96,245.88 L99,245.88 L102,245.87 L105,245.87 L108,245.87 L111,245.86 L114,245.86 L117,245.85 L120,245.84 L123,245.84 L126,245.83 L129,245.82 L132,245.81 L135,245.80 L138,245.78 L141,245.77 L144,245.75 L147,245.73 L150,245.71 L153,245.69 L156,245.66 L159,245.64 L162,245.60 L165,245.57 L168,245.53 L171,245.50 L174,245.45 L177,245.41 L180,245.36 L183,245.31 L186,245.25 L189,245.19 L192,245.13 L195,245.07 L198,245.01 L201,244.94 L204,244.87 L207,244.81 L210,244.74 L213,244.68 L216,244.61 L219,244.55 L222,244.49 L225,244.43 L228,244.38 L231,244.33 L234,244.28 L237,244.24 L240,244.19 L243,244.15 L246,244.12 L249,244.09 L252,244.06 L255,244.03 L258,244.01 L261,243.98 L264,243.96 L267,243.95 L270,243.93 L273,243.91 L276,243.90 L279,243.89 L282,243.88 L285,243.87 L288,243.86 L291,243.86 L294,243.85 L297,243.84 L300,243.84 L303,243.83 L306,243.83 L309,243.83 L312,243.82 L315,243.82 L318,243.82 L321,243.82 L324,243.81 L327,243.81 L330,243.81 L333,243.81 L336,243.81 L339,243.81 L342,243.81 L345,243.81 L348,243.81 L351,243.80 L354,243.80 L357,243.80 L357.5,243.80 M7,262.4 C100,262.6 180,263.8 250,263 C300,262.4 330,261 357.5,259.2 M7,271.9 C100,272.2 200,273.2 280,272.7 C310,272.4 340,271.6 357.5,270.9 M7,161.1 C60,161.3 120,161.6 150,161.2 S168,160 172.5,155.5" fill="none" stroke="#1c0000" stroke-width="0.95" stroke-linejoin="round" filter="url(#bl)"/>
<path d="M188.5,154.2 L189.5,153.2 L190.5,152.4 L191.5,151.7 L192.5,151.1 L193.5,150.5 L194.5,150.0 L195.5,149.6 L196.5,149.3 L197.5,149.1 L198.5,149.0 L199.5,149.0 L200.5,149.0 L201.5,149.0 L202.5,149.0 L203.5,149.0 L204.5,149.0 L205.5,149.0 L206.5,149.0 L207.5,149.0 L208.5,149.0 L209.5,149.0 L210.5,149.0 L211.5,149.0 L212.5,149.0 L213.5,149.0 L214.5,149.0 L215.5,149.0 L216.5,149.0 L217.5,149.0 L218.5,149.0 L219.5,149.0 L220.5,149.0 L221.5,149.0 L222.5,149.0 L223.5,149.0 L224.5,149.0 L225.5,149.0 L226.5,149.0 L227.5,149.0 L228.5,149.0 L229.5,149.0 L230.5,149.0 L231.5,149.0 L232.5,149.0 L233.5,149.0 L234.5,149.0 L235.5,149.0 L236.5,149.0 L237.5,149.0 L238.5,149.0 L239.5,149.0 L240.5,149.0 L241.5,149.0 L242.5,149.0 L243.5,149.0 L244.5,149.0 L245.5,149.0 L246.5,149.0 L247.5,149.0 L248.5,149.0 L249.5,149.0 L250.5,149.0 L251.5,149.0 L252.5,149.0 L253.5,149.0 L254.5,149.0 L255.5,149.0 L256.5,149.0 L257.5,149.0 L258.5,149.0 L259.5,149.0 L260.5,149.0 L261.5,149.0 L262.5,149.0 L263.5,149.0 L264.5,149.0 L265.5,149.0 L266.5,149.0 L267.5,149.0 L268.5,149.0 L269.5,149.0 L270.5,149.0 L271.5,149.0 L272.5,149.0 L273.5,149.0 L274.5,149.0 L275.5,149.0 L276.5,149.0 L277.5,149.0 L278.5,149.0 L279.5,149.0 L280.5,149.0 L281.5,149.0 L282.5,149.0 L283.5,149.0 L284.5,149.0 L285.5,149.0 L286.5,149.0 L287.5,149.0 L288.5,149.0 L289.5,149.0 L290.5,149.0 L291.5,149.0 L292.5,149.0 L293.5,149.0 L294.5,149.0 L295.5,149.0 L296.5,149.0 L297.5,149.0 L298.5,149.0 L299.5,149.0 L300.5,149.0 L301.5,149.0 L302.5,149.0 L303.5,149.0 L304.5,149.0 L305.5,149.0 L306.5,149.0 L307.5,149.0 L308.5,149.0 L309.5,149.0 L310.5,149.0 L311.5,149.0 L312.5,149.0 L313.5,149.0 L314.5,149.0 L315.5,149.0 L316.5,149.0 L317.5,149.0 L318.5,149.0 L319.5,149.0 L320.5,149.0 L321.5,149.0 L322.5,149.0 L323.5,149.0 L324.5,149.0 L325.5,149.0 L326.5,149.0 L327.5,149.0 L328.5,149.0 L329.5,149.0 L330.5,149.0 L331.5,149.0 L332.5,149.0 L333.5,149.0 L334.5,149.0 L335.5,149.0 L336.5,149.0 L337.5,149.0 L338.5,149.0 L339.5,149.0 L340.5,149.0 L341.5,149.0 L342.5,149.0 L343.5,149.0 L344.5,149.0 L345.5,149.0 L346.5,149.0 L347.5,149.0 L348.5,149.0 L349.5,149.0 L350.5,149.0 L351.5,149.0 L352.5,149.0 L353.5,149.0 L354.5,149.0 L355.5,149.0 L356.5,149.0 L357.5,149.0 L357.5,153.2 L356.5,153.2 L355.5,153.3 L354.5,153.3 L353.5,153.4 L352.5,153.6 L351.5,153.7 L350.5,153.8 L349.5,153.9 L348.5,154.0 L347.5,154.1 L346.5,154.2 L345.5,154.2 L344.5,154.2 L343.5,154.2 L342.5,154.3 L341.5,154.3 L340.5,154.4 L339.5,154.5 L338.5,154.6 L337.5,154.7 L336.5,154.8 L335.5,154.9 L334.5,155.0 L333.5,155.1 L332.5,155.1 L331.5,155.2 L330.5,155.2 L329.5,155.2 L328.5,155.2 L327.5,155.2 L326.5,155.2 L325.5,155.2 L324.5,155.2 L323.5,155.2 L322.5,155.2 L321.5,155.2 L320.5,155.2 L319.5,155.2 L318.5,155.2 L317.5,155.2 L316.5,155.2 L315.5,155.2 L314.5,155.2 L313.5,155.2 L312.5,155.2 L311.5,155.2 L310.5,155.2 L309.5,155.2 L308.5,155.2 L307.5,155.2 L306.5,155.2 L305.5,155.2 L304.5,155.2 L303.5,155.2 L302.5,155.2 L301.5,155.2 L300.5,155.2 L299.5,155.2 L298.5,155.2 L297.5,155.2 L296.5,155.2 L295.5,155.2 L294.5,155.2 L293.5,155.2 L292.5,155.2 L291.5,155.3 L290.5,155.3 L289.5,155.3 L288.5,155.3 L287.5,155.3 L286.5,155.3 L285.5,155.3 L284.5,155.3 L283.5,155.3 L282.5,155.3 L281.5,155.3 L280.5,155.3 L279.5,155.3 L278.5,155.3 L277.5,155.3 L276.5,155.3 L275.5,155.3 L274.5,155.3 L273.5,155.3 L272.5,155.3 L271.5,155.3 L270.5,155.3 L269.5,155.3 L268.5,155.3 L267.5,155.3 L266.5,155.3 L265.5,155.3 L264.5,155.3 L263.5,155.3 L262.5,155.3 L261.5,155.3 L260.5,155.3 L259.5,155.3 L258.5,155.3 L257.5,155.3 L256.5,155.3 L255.5,155.3 L254.5,155.3 L253.5,155.3 L252.5,155.4 L251.5,155.4 L250.5,155.4 L249.5,155.4 L248.5,155.4 L247.5,155.4 L246.5,155.4 L245.5,155.4 L244.5,155.4 L243.5,155.4 L242.5,155.4 L241.5,155.4 L240.5,155.4 L239.5,155.4 L238.5,155.4 L237.5,155.4 L236.5,155.4 L235.5,155.4 L234.5,155.4 L233.5,155.4 L232.5,155.4 L231.5,155.4 L230.5,155.4 L229.5,155.4 L228.5,155.4 L227.5,155.4 L226.5,155.4 L225.5,155.4 L224.5,155.4 L223.5,155.4 L222.5,155.4 L221.5,155.4 L220.5,155.4 L219.5,155.4 L218.5,155.4 L217.5,155.4 L216.5,155.4 L215.5,155.4 L214.5,155.4 L213.5,155.4 L212.5,155.4 L211.5,155.4 L210.5,155.4 L209.5,155.5 L208.5,155.5 L207.5,155.5 L206.5,155.5 L205.5,155.5 L204.5,155.6 L203.5,155.6 L202.5,155.6 L201.5,155.6 L200.5,155.6 L199.5,155.6 L198.5,155.5 L197.5,155.4 L196.5,155.4 L195.5,155.5 L194.5,155.7 L193.5,156.1 L192.5,156.6 L191.5,156.8 L190.5,157.0 L189.5,157.2 L188.5,158.0 Z" fill="#0a0000" filter="url(#bl)"/>
</g>
<path d="M7,152 H166.3 L166.30,152.00 L166.80,152.03 L167.30,152.10 L167.80,152.21 L168.30,152.34 L168.80,152.49 L169.30,152.67 L169.80,152.88 L170.30,153.10 L170.80,153.34 L171.30,153.61 L171.80,153.89 L172.30,154.19 L172.80,154.51 L173.30,154.84 L173.80,155.20 L174.30,155.57 L174.80,155.96 L175.30,156.36 L175.80,156.88 L176.30,157.40 L176.80,157.84 L177.30,158.22 L177.80,158.55 L178.30,158.83 L178.80,159.06 L179.30,159.27 L179.80,159.43 L180.30,159.57 L180.80,159.67 L181.30,159.74 L181.80,159.79 L182.30,159.80 L182.80,159.79 L183.30,159.74 L183.80,159.67 L184.30,159.57 L184.80,159.43 L185.30,159.27 L185.80,159.06 L186.30,158.83 L186.80,158.55 L187.30,158.22 L187.80,157.84 L188.30,157.40 L188.80,156.88 L189.30,156.36 L189.80,155.96 L190.30,155.57 L190.80,155.20 L191.30,154.84 L191.80,154.51 L192.30,154.19 L192.80,153.89 L193.30,153.61 L193.80,153.34 L194.30,153.10 L194.80,152.88 L195.30,152.67 L195.80,152.49 L196.30,152.34 L196.80,152.21 L197.30,152.10 L197.80,152.03 L198.3,152 H357.5 V278.5 H7 Z" fill="none" stroke="#2a0808" stroke-width="0.7"/>
<g clip-path="url(#cA2)">
<rect x="369" y="151" width="343" height="127" fill="#00a8ff"/>
<ellipse cx="540" cy="212" rx="160" ry="18" fill="#00a0fc" opacity="0.6" filter="url(#b4)"/>
<polygon points="385,266 420,252 450,262 485,250 520,263 560,254 600,262 640,250 670,262 700,246 709,266" fill="#34c8ff" opacity="0.95" filter="url(#b2)"/>
<ellipse cx="690" cy="252" rx="18" ry="10" fill="#20bcf8" opacity="0.7" filter="url(#b2)"/>
<ellipse cx="396" cy="258" rx="14" ry="8" fill="#20bcf8" opacity="0.6" filter="url(#b2)"/>
<ellipse cx="440" cy="166" rx="50" ry="5" fill="#0088ec" opacity="0.55" filter="url(#b2)"/>
<ellipse cx="610" cy="168" rx="70" ry="5" fill="#008cee" opacity="0.5" filter="url(#b2)"/>
<ellipse cx="470" cy="160" rx="70" ry="2.5" fill="#10d8e8" opacity="0.6" filter="url(#b1)"/>
<ellipse cx="600" cy="161" rx="60" ry="2.5" fill="#10d0e8" opacity="0.5" filter="url(#b1)"/>
<ellipse cx="545" cy="170" rx="22" ry="6" fill="#18dcf4" opacity="0.8" filter="url(#b1)"/>
<ellipse cx="450" cy="159.5" rx="75" ry="2.6" fill="#0030d0" opacity="0.6" filter="url(#b1)"/>
<ellipse cx="640" cy="165" rx="60" ry="2.4" fill="#0050dc" opacity="0.45" filter="url(#b1)"/>
<ellipse cx="660" cy="171" rx="45" ry="2.2" fill="#0060e0" opacity="0.4" filter="url(#b1)"/>
<ellipse cx="640" cy="159.5" rx="65" ry="2.2" fill="#0040d8" opacity="0.5" filter="url(#b1)"/>
<ellipse cx="420" cy="173" rx="45" ry="2.5" fill="#0070e4" opacity="0.5" filter="url(#b1)"/>
<ellipse cx="640" cy="176" rx="50" ry="3" fill="#0078e8" opacity="0.45" filter="url(#b1)"/>
<polygon points="372,270 400,262 430,268 470,263 520,269 560,263 600,268 615,262 650,268 690,262 709,268 709,276 372,276" fill="#0050e8" opacity="0.6" filter="url(#b1)"/>
<g filter="url(#b0)" opacity="1">
<path d="M370.5,150.0 L370.5,158.5 L372.5,158.5 L374.5,158.6 L376.5,158.6 L378.5,158.7 L380.5,158.8 L382.5,158.9 L384.5,159.0 L386.5,159.1 L388.5,159.2 L390.5,159.3 L392.5,159.3 L394.5,159.4 L396.5,159.5 L398.5,159.5 L400.5,159.5 L402.5,159.5 L404.5,159.5 L406.5,159.5 L408.5,159.4 L410.5,159.4 L412.5,159.3 L414.5,159.3 L416.5,159.2 L418.5,159.2 L420.5,159.1 L422.5,159.1 L424.5,159.0 L426.5,159.0 L428.5,158.9 L430.5,158.8 L432.5,158.8 L434.5,158.7 L436.5,158.7 L438.5,158.6 L440.5,158.6 L442.5,158.6 L444.5,158.5 L446.5,158.5 L448.5,158.5 L450.5,158.5 L452.5,158.5 L454.5,158.5 L456.5,158.5 L458.5,158.5 L460.5,158.6 L462.5,158.6 L464.5,158.6 L466.5,158.6 L468.5,158.7 L470.5,158.7 L472.5,158.7 L474.5,158.7 L476.5,158.8 L478.5,158.8 L480.5,158.8 L482.5,158.9 L484.5,158.9 L486.5,158.9 L488.5,158.9 L490.5,159.0 L492.5,159.0 L494.5,159.0 L496.5,159.0 L498.5,159.0 L500.5,159.0 L502.5,159.0 L504.5,158.9 L506.5,158.8 L508.5,158.7 L510.5,158.6 L512.5,158.5 L514.5,158.4 L516.5,158.3 L518.5,158.2 L520.5,158.1 L522.5,158.0 L524.5,158.0 L526.5,158.2 L528.5,159.0 L530.5,160.2 L532.5,161.7 L534.5,163.5 L536.5,164.7 L538.5,165.3 L540.5,165.4 L542.5,165.1 L544.5,164.2 L546.5,162.6 L548.5,160.7 L550.5,159.1 L552.5,158.1 L554.5,157.5 L556.5,157.5 L558.5,157.5 L560.5,157.5 L562.5,157.6 L564.5,157.6 L566.5,157.7 L568.5,157.7 L570.5,157.8 L572.5,157.8 L574.5,157.9 L576.5,158.0 L578.5,158.0 L580.5,158.1 L582.5,158.2 L584.5,158.2 L586.5,158.3 L588.5,158.3 L590.5,158.4 L592.5,158.4 L594.5,158.5 L596.5,158.5 L598.5,158.5 L600.5,158.5 L602.5,158.5 L604.5,158.5 L606.5,158.5 L608.5,158.5 L610.5,158.5 L612.5,158.6 L614.5,158.6 L616.5,158.6 L618.5,158.6 L620.5,158.6 L622.5,158.7 L624.5,158.7 L626.5,158.7 L628.5,158.7 L630.5,158.8 L632.5,158.8 L634.5,158.8 L636.5,158.8 L638.5,158.9 L640.5,158.9 L642.5,158.9 L644.5,158.9 L646.5,158.9 L648.5,159.0 L650.5,159.0 L652.5,159.0 L654.5,159.0 L656.5,159.0 L658.5,159.0 L660.5,159.0 L662.5,159.0 L664.5,159.0 L666.5,159.0 L668.5,159.0 L670.5,159.1 L672.5,159.1 L674.5,159.1 L676.5,159.1 L678.5,159.2 L680.5,159.2 L682.5,159.2 L684.5,159.2 L686.5,159.3 L688.5,159.3 L690.5,159.3 L692.5,159.4 L694.5,159.4 L696.5,159.4 L698.5,159.4 L700.5,159.5 L702.5,159.5 L704.5,159.5 L706.5,159.5 L708.5,159.5 L709.5,159.5 L709.5,150.0 Z" fill="#0878f0"/>
<path d="M370.5,150.0 L370.5,157.0 L372.5,157.0 L374.5,157.0 L376.5,157.0 L378.5,157.1 L380.5,157.2 L382.5,157.2 L384.5,157.3 L386.5,157.4 L388.5,157.4 L390.5,157.5 L392.5,157.6 L394.5,157.6 L396.5,157.7 L398.5,157.7 L400.5,157.7 L402.5,157.7 L404.5,157.7 L406.5,157.6 L408.5,157.6 L410.5,157.6 L412.5,157.6 L414.5,157.5 L416.5,157.5 L418.5,157.5 L420.5,157.4 L422.5,157.4 L424.5,157.3 L426.5,157.3 L428.5,157.2 L430.5,157.2 L432.5,157.2 L434.5,157.1 L436.5,157.1 L438.5,157.1 L440.5,157.0 L442.5,157.0 L444.5,157.0 L446.5,157.0 L448.5,157.0 L450.5,157.0 L452.5,157.0 L454.5,157.0 L456.5,157.0 L458.5,157.0 L460.5,157.0 L462.5,157.0 L464.5,157.0 L466.5,157.1 L468.5,157.1 L470.5,157.1 L472.5,157.1 L474.5,157.1 L476.5,157.2 L478.5,157.2 L480.5,157.2 L482.5,157.2 L484.5,157.2 L486.5,157.3 L488.5,157.3 L490.5,157.3 L492.5,157.3 L494.5,157.3 L496.5,157.3 L498.5,157.3 L500.5,157.3 L502.5,157.3 L504.5,157.3 L506.5,157.2 L508.5,157.1 L510.5,157.0 L512.5,157.0 L514.5,156.9 L516.5,156.8 L518.5,156.7 L520.5,156.7 L522.5,156.6 L524.5,156.6 L526.5,156.8 L528.5,157.6 L530.5,158.8 L532.5,160.3 L534.5,162.2 L536.5,163.4 L538.5,164.0 L540.5,164.1 L542.5,163.8 L544.5,162.9 L546.5,161.3 L548.5,159.4 L550.5,157.9 L552.5,156.8 L554.5,156.3 L556.5,156.2 L558.5,156.3 L560.5,156.3 L562.5,156.3 L564.5,156.3 L566.5,156.4 L568.5,156.4 L570.5,156.4 L572.5,156.5 L574.5,156.5 L576.5,156.6 L578.5,156.6 L580.5,156.7 L582.5,156.7 L584.5,156.8 L586.5,156.8 L588.5,156.8 L590.5,156.9 L592.5,156.9 L594.5,156.9 L596.5,156.9 L598.5,157.0 L600.5,157.0 L602.5,157.0 L604.5,157.0 L606.5,157.0 L608.5,157.0 L610.5,157.0 L612.5,157.0 L614.5,157.0 L616.5,157.0 L618.5,157.0 L620.5,157.1 L622.5,157.1 L624.5,157.1 L626.5,157.1 L628.5,157.1 L630.5,157.1 L632.5,157.2 L634.5,157.2 L636.5,157.2 L638.5,157.2 L640.5,157.2 L642.5,157.2 L644.5,157.3 L646.5,157.3 L648.5,157.3 L650.5,157.3 L652.5,157.3 L654.5,157.3 L656.5,157.3 L658.5,157.3 L660.5,157.3 L662.5,157.3 L664.5,157.3 L666.5,157.3 L668.5,157.3 L670.5,157.4 L672.5,157.4 L674.5,157.4 L676.5,157.4 L678.5,157.4 L680.5,157.5 L682.5,157.5 L684.5,157.5 L686.5,157.5 L688.5,157.5 L690.5,157.6 L692.5,157.6 L694.5,157.6 L696.5,157.6 L698.5,157.6 L700.5,157.6 L702.5,157.7 L704.5,157.7 L706.5,157.7 L708.5,157.7 L709.5,157.7 L709.5,150.0 Z" fill="#0030e8"/>
<path d="M370.5,150.0 L370.5,155.5 L372.5,155.5 L374.5,155.5 L376.5,155.5 L378.5,155.6 L380.5,155.6 L382.5,155.6 L384.5,155.7 L386.5,155.7 L388.5,155.8 L390.5,155.8 L392.5,155.9 L394.5,155.9 L396.5,155.9 L398.5,155.9 L400.5,155.9 L402.5,155.9 L404.5,155.9 L406.5,155.9 L408.5,155.9 L410.5,155.9 L412.5,155.9 L414.5,155.8 L416.5,155.8 L418.5,155.8 L420.5,155.8 L422.5,155.7 L424.5,155.7 L426.5,155.7 L428.5,155.7 L430.5,155.6 L432.5,155.6 L434.5,155.6 L436.5,155.6 L438.5,155.5 L440.5,155.5 L442.5,155.5 L444.5,155.5 L446.5,155.5 L448.5,155.5 L450.5,155.5 L452.5,155.5 L454.5,155.5 L456.5,155.5 L458.5,155.5 L460.5,155.5 L462.5,155.5 L464.5,155.5 L466.5,155.5 L468.5,155.5 L470.5,155.6 L472.5,155.6 L474.5,155.6 L476.5,155.6 L478.5,155.6 L480.5,155.6 L482.5,155.6 L484.5,155.6 L486.5,155.7 L488.5,155.7 L490.5,155.7 L492.5,155.7 L494.5,155.7 L496.5,155.7 L498.5,155.7 L500.5,155.7 L502.5,155.7 L504.5,155.7 L506.5,155.6 L508.5,155.6 L510.5,155.5 L512.5,155.5 L514.5,155.4 L516.5,155.4 L518.5,155.3 L520.5,155.3 L522.5,155.3 L524.5,155.3 L526.5,155.5 L528.5,156.3 L530.5,157.4 L532.5,159.0 L534.5,160.9 L536.5,162.1 L538.5,162.7 L540.5,162.8 L542.5,162.5 L544.5,161.6 L546.5,160.1 L548.5,158.2 L550.5,156.7 L552.5,155.6 L554.5,155.0 L556.5,155.0 L558.5,155.0 L560.5,155.0 L562.5,155.1 L564.5,155.1 L566.5,155.1 L568.5,155.1 L570.5,155.1 L572.5,155.2 L574.5,155.2 L576.5,155.2 L578.5,155.3 L580.5,155.3 L582.5,155.3 L584.5,155.4 L586.5,155.4 L588.5,155.4 L590.5,155.4 L592.5,155.4 L594.5,155.5 L596.5,155.5 L598.5,155.5 L600.5,155.5 L602.5,155.5 L604.5,155.5 L606.5,155.5 L608.5,155.5 L610.5,155.5 L612.5,155.5 L614.5,155.5 L616.5,155.5 L618.5,155.5 L620.5,155.5 L622.5,155.5 L624.5,155.6 L626.5,155.6 L628.5,155.6 L630.5,155.6 L632.5,155.6 L634.5,155.6 L636.5,155.6 L638.5,155.6 L640.5,155.6 L642.5,155.7 L644.5,155.7 L646.5,155.7 L648.5,155.7 L650.5,155.7 L652.5,155.7 L654.5,155.7 L656.5,155.7 L658.5,155.7 L660.5,155.7 L662.5,155.7 L664.5,155.7 L666.5,155.7 L668.5,155.7 L670.5,155.7 L672.5,155.7 L674.5,155.7 L676.5,155.8 L678.5,155.8 L680.5,155.8 L682.5,155.8 L684.5,155.8 L686.5,155.8 L688.5,155.8 L690.5,155.9 L692.5,155.9 L694.5,155.9 L696.5,155.9 L698.5,155.9 L700.5,155.9 L702.5,155.9 L704.5,155.9 L706.5,155.9 L708.5,155.9 L709.5,155.9 L709.5,150.0 Z" fill="#0000c8"/>
<path d="M370.5,150.0 L370.5,154.1 L372.5,154.1 L374.5,154.1 L376.5,154.1 L378.5,154.1 L380.5,154.2 L382.5,154.2 L384.5,154.2 L386.5,154.2 L388.5,154.2 L390.5,154.3 L392.5,154.3 L394.5,154.3 L396.5,154.3 L398.5,154.3 L400.5,154.3 L402.5,154.3 L404.5,154.3 L406.5,154.3 L408.5,154.3 L410.5,154.3 L412.5,154.3 L414.5,154.3 L416.5,154.2 L418.5,154.2 L420.5,154.2 L422.5,154.2 L424.5,154.2 L426.5,154.2 L428.5,154.2 L430.5,154.2 L432.5,154.2 L434.5,154.1 L436.5,154.1 L438.5,154.1 L440.5,154.1 L442.5,154.1 L444.5,154.1 L446.5,154.1 L448.5,154.1 L450.5,154.1 L452.5,154.1 L454.5,154.1 L456.5,154.1 L458.5,154.1 L460.5,154.1 L462.5,154.1 L464.5,154.1 L466.5,154.1 L468.5,154.1 L470.5,154.1 L472.5,154.1 L474.5,154.1 L476.5,154.2 L478.5,154.2 L480.5,154.2 L482.5,154.2 L484.5,154.2 L486.5,154.2 L488.5,154.2 L490.5,154.2 L492.5,154.2 L494.5,154.2 L496.5,154.2 L498.5,154.2 L500.5,154.2 L502.5,154.2 L504.5,154.2 L506.5,154.2 L508.5,154.1 L510.5,154.1 L512.5,154.1 L514.5,154.1 L516.5,154.1 L518.5,154.0 L520.5,154.0 L522.5,154.0 L524.5,154.0 L526.5,154.2 L528.5,155.0 L530.5,156.2 L532.5,157.7 L534.5,159.6 L536.5,160.9 L538.5,161.5 L540.5,161.6 L542.5,161.3 L544.5,160.5 L546.5,158.9 L548.5,157.0 L550.5,155.5 L552.5,154.5 L554.5,153.9 L556.5,153.9 L558.5,153.9 L560.5,153.9 L562.5,153.9 L564.5,153.9 L566.5,153.9 L568.5,153.9 L570.5,154.0 L572.5,154.0 L574.5,154.0 L576.5,154.0 L578.5,154.0 L580.5,154.0 L582.5,154.0 L584.5,154.0 L586.5,154.1 L588.5,154.1 L590.5,154.1 L592.5,154.1 L594.5,154.1 L596.5,154.1 L598.5,154.1 L600.5,154.1 L602.5,154.1 L604.5,154.1 L606.5,154.1 L608.5,154.1 L610.5,154.1 L612.5,154.1 L614.5,154.1 L616.5,154.1 L618.5,154.1 L620.5,154.1 L622.5,154.1 L624.5,154.1 L626.5,154.1 L628.5,154.1 L630.5,154.2 L632.5,154.2 L634.5,154.2 L636.5,154.2 L638.5,154.2 L640.5,154.2 L642.5,154.2 L644.5,154.2 L646.5,154.2 L648.5,154.2 L650.5,154.2 L652.5,154.2 L654.5,154.2 L656.5,154.2 L658.5,154.2 L660.5,154.2 L662.5,154.2 L664.5,154.2 L666.5,154.2 L668.5,154.2 L670.5,154.2 L672.5,154.2 L674.5,154.2 L676.5,154.2 L678.5,154.2 L680.5,154.2 L682.5,154.2 L684.5,154.2 L686.5,154.3 L688.5,154.3 L690.5,154.3 L692.5,154.3 L694.5,154.3 L696.5,154.3 L698.5,154.3 L700.5,154.3 L702.5,154.3 L704.5,154.3 L706.5,154.3 L708.5,154.3 L709.5,154.3 L709.5,150.0 Z" fill="#000098"/>
</g>
<g filter="url(#b1)" opacity="1">
<path d="M370.5,278.5 L370.5,265.0 L372.5,265.1 L374.5,265.2 L376.5,265.4 L378.5,265.6 L380.5,265.8 L382.5,266.0 L384.5,266.2 L386.5,266.4 L388.5,266.5 L390.5,266.5 L392.5,266.5 L394.5,266.4 L396.5,266.4 L398.5,266.3 L400.5,266.2 L402.5,266.0 L404.5,265.9 L406.5,265.8 L408.5,265.6 L410.5,265.5 L412.5,265.3 L414.5,265.2 L416.5,265.0 L418.5,264.9 L420.5,264.8 L422.5,264.7 L424.5,264.6 L426.5,264.5 L428.5,264.5 L430.5,264.5 L432.5,264.5 L434.5,264.6 L436.5,264.7 L438.5,264.8 L440.5,264.9 L442.5,265.1 L444.5,265.2 L446.5,265.4 L448.5,265.6 L450.5,265.8 L452.5,266.0 L454.5,266.2 L456.5,266.3 L458.5,266.5 L460.5,266.6 L462.5,266.8 L464.5,266.9 L466.5,266.9 L468.5,267.0 L470.5,267.0 L472.5,267.0 L474.5,266.9 L476.5,266.9 L478.5,266.8 L480.5,266.7 L482.5,266.5 L484.5,266.4 L486.5,266.3 L488.5,266.1 L490.5,266.0 L492.5,265.8 L494.5,265.7 L496.5,265.5 L498.5,265.4 L500.5,265.3 L502.5,265.2 L504.5,265.1 L506.5,265.0 L508.5,265.0 L510.5,265.0 L512.5,265.0 L514.5,265.0 L516.5,265.1 L518.5,265.1 L520.5,265.2 L522.5,265.2 L524.5,265.3 L526.5,265.4 L528.5,265.5 L530.5,265.5 L532.5,265.6 L534.5,265.7 L536.5,265.8 L538.5,265.9 L540.5,266.0 L542.5,266.1 L544.5,266.2 L546.5,266.2 L548.5,266.3 L550.5,266.4 L552.5,266.4 L554.5,266.4 L556.5,266.5 L558.5,266.5 L560.5,266.5 L562.5,266.5 L564.5,266.4 L566.5,266.3 L568.5,266.2 L570.5,266.1 L572.5,265.9 L574.5,265.8 L576.5,265.6 L578.5,265.4 L580.5,265.2 L582.5,265.0 L584.5,264.8 L586.5,264.7 L588.5,264.5 L590.5,264.4 L592.5,264.2 L594.5,264.1 L596.5,264.1 L598.5,264.0 L600.5,264.0 L602.5,264.1 L604.5,264.4 L606.5,264.8 L608.5,265.2 L610.5,265.6 L612.5,265.9 L614.5,266.0 L616.5,266.0 L618.5,266.0 L620.5,265.9 L622.5,265.9 L624.5,265.8 L626.5,265.8 L628.5,265.7 L630.5,265.6 L632.5,265.5 L634.5,265.4 L636.5,265.3 L638.5,265.2 L640.5,265.1 L642.5,265.0 L644.5,264.9 L646.5,264.8 L648.5,264.7 L650.5,264.7 L652.5,264.6 L654.5,264.6 L656.5,264.5 L658.5,264.5 L660.5,264.5 L662.5,264.5 L664.5,264.5 L666.5,264.4 L668.5,264.4 L670.5,264.3 L672.5,264.3 L674.5,264.2 L676.5,264.1 L678.5,264.0 L680.5,263.9 L682.5,263.9 L684.5,263.8 L686.5,263.7 L688.5,263.6 L690.5,263.5 L692.5,263.4 L694.5,263.3 L696.5,263.3 L698.5,263.2 L700.5,263.1 L702.5,263.1 L704.5,263.0 L706.5,263.0 L708.5,263.0 L709.5,263.0 L709.5,278.5 Z" fill="#0878f0"/>
<path d="M370.5,278.5 L370.5,267.9 L372.5,268.0 L374.5,268.1 L376.5,268.2 L378.5,268.4 L380.5,268.5 L382.5,268.7 L384.5,268.8 L386.5,268.9 L388.5,269.0 L390.5,269.0 L392.5,269.0 L394.5,269.0 L396.5,268.9 L398.5,268.9 L400.5,268.8 L402.5,268.7 L404.5,268.6 L406.5,268.5 L408.5,268.4 L410.5,268.3 L412.5,268.2 L414.5,268.1 L416.5,268.0 L418.5,267.9 L420.5,267.8 L422.5,267.7 L424.5,267.7 L426.5,267.6 L428.5,267.6 L430.5,267.6 L432.5,267.6 L434.5,267.6 L436.5,267.7 L438.5,267.8 L440.5,267.9 L442.5,268.0 L444.5,268.1 L446.5,268.2 L448.5,268.4 L450.5,268.5 L452.5,268.6 L454.5,268.8 L456.5,268.9 L458.5,269.0 L460.5,269.1 L462.5,269.2 L464.5,269.3 L466.5,269.3 L468.5,269.4 L470.5,269.4 L472.5,269.4 L474.5,269.3 L476.5,269.3 L478.5,269.2 L480.5,269.1 L482.5,269.0 L484.5,268.9 L486.5,268.8 L488.5,268.7 L490.5,268.6 L492.5,268.5 L494.5,268.4 L496.5,268.3 L498.5,268.2 L500.5,268.1 L502.5,268.1 L504.5,268.0 L506.5,268.0 L508.5,267.9 L510.5,267.9 L512.5,267.9 L514.5,268.0 L516.5,268.0 L518.5,268.0 L520.5,268.1 L522.5,268.1 L524.5,268.2 L526.5,268.2 L528.5,268.3 L530.5,268.3 L532.5,268.4 L534.5,268.5 L536.5,268.5 L538.5,268.6 L540.5,268.7 L542.5,268.7 L544.5,268.8 L546.5,268.8 L548.5,268.9 L550.5,268.9 L552.5,269.0 L554.5,269.0 L556.5,269.0 L558.5,269.0 L560.5,269.0 L562.5,269.0 L564.5,269.0 L566.5,268.9 L568.5,268.8 L570.5,268.7 L572.5,268.6 L574.5,268.5 L576.5,268.4 L578.5,268.2 L580.5,268.1 L582.5,268.0 L584.5,267.8 L586.5,267.7 L588.5,267.6 L590.5,267.5 L592.5,267.4 L594.5,267.3 L596.5,267.3 L598.5,267.2 L600.5,267.2 L602.5,267.3 L604.5,267.5 L606.5,267.8 L608.5,268.1 L610.5,268.3 L612.5,268.6 L614.5,268.7 L616.5,268.7 L618.5,268.6 L620.5,268.6 L622.5,268.6 L624.5,268.5 L626.5,268.5 L628.5,268.4 L630.5,268.4 L632.5,268.3 L634.5,268.2 L636.5,268.2 L638.5,268.1 L640.5,268.0 L642.5,267.9 L644.5,267.9 L646.5,267.8 L648.5,267.8 L650.5,267.7 L652.5,267.7 L654.5,267.6 L656.5,267.6 L658.5,267.6 L660.5,267.6 L662.5,267.6 L664.5,267.6 L666.5,267.5 L668.5,267.5 L670.5,267.5 L672.5,267.4 L674.5,267.4 L676.5,267.3 L678.5,267.2 L680.5,267.2 L682.5,267.1 L684.5,267.0 L686.5,267.0 L688.5,266.9 L690.5,266.9 L692.5,266.8 L694.5,266.7 L696.5,266.7 L698.5,266.6 L700.5,266.6 L702.5,266.6 L704.5,266.5 L706.5,266.5 L708.5,266.5 L709.5,266.5 L709.5,278.5 Z" fill="#0030e8"/>
<path d="M370.5,278.5 L370.5,270.8 L372.5,270.8 L374.5,270.9 L376.5,270.9 L378.5,271.0 L380.5,271.1 L382.5,271.2 L384.5,271.3 L386.5,271.4 L388.5,271.4 L390.5,271.4 L392.5,271.4 L394.5,271.4 L396.5,271.4 L398.5,271.3 L400.5,271.3 L402.5,271.2 L404.5,271.2 L406.5,271.1 L408.5,271.1 L410.5,271.0 L412.5,270.9 L414.5,270.9 L416.5,270.8 L418.5,270.7 L420.5,270.7 L422.5,270.6 L424.5,270.6 L426.5,270.6 L428.5,270.6 L430.5,270.6 L432.5,270.6 L434.5,270.6 L436.5,270.6 L438.5,270.7 L440.5,270.7 L442.5,270.8 L444.5,270.9 L446.5,271.0 L448.5,271.0 L450.5,271.1 L452.5,271.2 L454.5,271.3 L456.5,271.4 L458.5,271.4 L460.5,271.5 L462.5,271.6 L464.5,271.6 L466.5,271.7 L468.5,271.7 L470.5,271.7 L472.5,271.7 L474.5,271.6 L476.5,271.6 L478.5,271.6 L480.5,271.5 L482.5,271.5 L484.5,271.4 L486.5,271.3 L488.5,271.3 L490.5,271.2 L492.5,271.1 L494.5,271.1 L496.5,271.0 L498.5,271.0 L500.5,270.9 L502.5,270.9 L504.5,270.8 L506.5,270.8 L508.5,270.8 L510.5,270.8 L512.5,270.8 L514.5,270.8 L516.5,270.8 L518.5,270.8 L520.5,270.9 L522.5,270.9 L524.5,270.9 L526.5,270.9 L528.5,271.0 L530.5,271.0 L532.5,271.1 L534.5,271.1 L536.5,271.1 L538.5,271.2 L540.5,271.2 L542.5,271.3 L544.5,271.3 L546.5,271.3 L548.5,271.4 L550.5,271.4 L552.5,271.4 L554.5,271.4 L556.5,271.4 L558.5,271.4 L560.5,271.4 L562.5,271.4 L564.5,271.4 L566.5,271.4 L568.5,271.3 L570.5,271.3 L572.5,271.2 L574.5,271.1 L576.5,271.0 L578.5,271.0 L580.5,270.9 L582.5,270.8 L584.5,270.7 L586.5,270.6 L588.5,270.6 L590.5,270.5 L592.5,270.4 L594.5,270.4 L596.5,270.3 L598.5,270.3 L600.5,270.3 L602.5,270.4 L604.5,270.5 L606.5,270.7 L608.5,270.9 L610.5,271.0 L612.5,271.2 L614.5,271.2 L616.5,271.2 L618.5,271.2 L620.5,271.2 L622.5,271.2 L624.5,271.1 L626.5,271.1 L628.5,271.1 L630.5,271.0 L632.5,271.0 L634.5,271.0 L636.5,270.9 L638.5,270.9 L640.5,270.8 L642.5,270.8 L644.5,270.7 L646.5,270.7 L648.5,270.7 L650.5,270.6 L652.5,270.6 L654.5,270.6 L656.5,270.6 L658.5,270.6 L660.5,270.5 L662.5,270.5 L664.5,270.5 L666.5,270.5 L668.5,270.5 L670.5,270.5 L672.5,270.4 L674.5,270.4 L676.5,270.4 L678.5,270.3 L680.5,270.3 L682.5,270.3 L684.5,270.2 L686.5,270.2 L688.5,270.1 L690.5,270.1 L692.5,270.1 L694.5,270.0 L696.5,270.0 L698.5,270.0 L700.5,269.9 L702.5,269.9 L704.5,269.9 L706.5,269.9 L708.5,269.9 L709.5,269.9 L709.5,278.5 Z" fill="#0000c8"/>
<path d="M370.5,278.5 L370.5,273.4 L372.5,273.4 L374.5,273.4 L376.5,273.5 L378.5,273.5 L380.5,273.6 L382.5,273.6 L384.5,273.6 L386.5,273.7 L388.5,273.7 L390.5,273.7 L392.5,273.7 L394.5,273.7 L396.5,273.7 L398.5,273.7 L400.5,273.6 L402.5,273.6 L404.5,273.6 L406.5,273.6 L408.5,273.5 L410.5,273.5 L412.5,273.5 L414.5,273.4 L416.5,273.4 L418.5,273.4 L420.5,273.4 L422.5,273.3 L424.5,273.3 L426.5,273.3 L428.5,273.3 L430.5,273.3 L432.5,273.3 L434.5,273.3 L436.5,273.3 L438.5,273.4 L440.5,273.4 L442.5,273.4 L444.5,273.4 L446.5,273.5 L448.5,273.5 L450.5,273.6 L452.5,273.6 L454.5,273.6 L456.5,273.7 L458.5,273.7 L460.5,273.7 L462.5,273.8 L464.5,273.8 L466.5,273.8 L468.5,273.8 L470.5,273.8 L472.5,273.8 L474.5,273.8 L476.5,273.8 L478.5,273.8 L480.5,273.7 L482.5,273.7 L484.5,273.7 L486.5,273.7 L488.5,273.6 L490.5,273.6 L492.5,273.6 L494.5,273.5 L496.5,273.5 L498.5,273.5 L500.5,273.5 L502.5,273.4 L504.5,273.4 L506.5,273.4 L508.5,273.4 L510.5,273.4 L512.5,273.4 L514.5,273.4 L516.5,273.4 L518.5,273.4 L520.5,273.4 L522.5,273.4 L524.5,273.5 L526.5,273.5 L528.5,273.5 L530.5,273.5 L532.5,273.5 L534.5,273.5 L536.5,273.6 L538.5,273.6 L540.5,273.6 L542.5,273.6 L544.5,273.6 L546.5,273.6 L548.5,273.7 L550.5,273.7 L552.5,273.7 L554.5,273.7 L556.5,273.7 L558.5,273.7 L560.5,273.7 L562.5,273.7 L564.5,273.7 L566.5,273.7 L568.5,273.6 L570.5,273.6 L572.5,273.6 L574.5,273.6 L576.5,273.5 L578.5,273.5 L580.5,273.4 L582.5,273.4 L584.5,273.4 L586.5,273.3 L588.5,273.3 L590.5,273.3 L592.5,273.2 L594.5,273.2 L596.5,273.2 L598.5,273.2 L600.5,273.2 L602.5,273.2 L604.5,273.3 L606.5,273.4 L608.5,273.4 L610.5,273.5 L612.5,273.6 L614.5,273.6 L616.5,273.6 L618.5,273.6 L620.5,273.6 L622.5,273.6 L624.5,273.6 L626.5,273.6 L628.5,273.5 L630.5,273.5 L632.5,273.5 L634.5,273.5 L636.5,273.5 L638.5,273.4 L640.5,273.4 L642.5,273.4 L644.5,273.4 L646.5,273.4 L648.5,273.3 L650.5,273.3 L652.5,273.3 L654.5,273.3 L656.5,273.3 L658.5,273.3 L660.5,273.3 L662.5,273.3 L664.5,273.3 L666.5,273.3 L668.5,273.3 L670.5,273.3 L672.5,273.3 L674.5,273.2 L676.5,273.2 L678.5,273.2 L680.5,273.2 L682.5,273.2 L684.5,273.2 L686.5,273.1 L688.5,273.1 L690.5,273.1 L692.5,273.1 L694.5,273.1 L696.5,273.1 L698.5,273.0 L700.5,273.0 L702.5,273.0 L704.5,273.0 L706.5,273.0 L708.5,273.0 L709.5,273.0 L709.5,278.5 Z" fill="#000098"/>
</g>
<path d="M370.5,157.50 L372,157.50 L375,157.50 L378,157.50 L381,157.51 L384,157.51 L387,157.51 L390,157.52 L393,157.52 L396,157.53 L399,157.53 L402,157.54 L405,157.55 L408,157.56 L411,157.57 L414,157.58 L417,157.58 L420,157.59 L423,157.60 L426,157.62 L429,157.63 L432,157.64 L435,157.65 L438,157.66 L441,157.67 L444,157.68 L447,157.69 L450,157.70 L453,157.72 L456,157.73 L459,157.74 L462,157.75 L465,157.76 L468,157.77 L471,157.78 L474,157.79 L477,157.80 L480,157.81 L483,157.82 L486,157.83 L489,157.84 L492,157.85 L495,157.86 L498,157.86 L501,157.87 L504,157.88 L507,157.88 L510,157.89 L513,157.89 L516,157.89 L519,157.90 L522,157.90 L525,157.90 L528,157.89 L531,157.82 L534,157.66 L537,157.44 L540,157.16 L543,156.84 L546,156.48 L549,156.11 L552,155.72 L555,155.34 L558,154.98 L561,154.64 L564,154.35 L567,154.10 L570,153.92 L573,153.82 L576,153.80 L579,153.80 L582,153.80 L585,153.80 L588,153.79 L591,153.79 L594,153.79 L597,153.79 L600,153.78 L603,153.78 L606,153.77 L609,153.77 L612,153.76 L615,153.76 L618,153.75 L621,153.75 L624,153.74 L627,153.73 L630,153.73 L633,153.72 L636,153.71 L639,153.71 L642,153.70 L645,153.69 L648,153.69 L651,153.68 L654,153.67 L657,153.67 L660,153.66 L663,153.66 L666,153.65 L669,153.64 L672,153.64 L675,153.63 L678,153.63 L681,153.62 L684,153.62 L687,153.61 L690,153.61 L693,153.61 L696,153.61 L699,153.60 L702,153.60 L705,153.60 L708,153.60 L709.5,153.60 M370.5,161.10 L372,161.10 L375,161.10 L378,161.10 L381,161.11 L384,161.11 L387,161.11 L390,161.12 L393,161.12 L396,161.13 L399,161.13 L402,161.14 L405,161.15 L408,161.16 L411,161.17 L414,161.18 L417,161.18 L420,161.19 L423,161.20 L426,161.21 L429,161.23 L432,161.24 L435,161.25 L438,161.26 L441,161.27 L444,161.28 L447,161.29 L450,161.30 L453,161.32 L456,161.33 L459,161.34 L462,161.35 L465,161.36 L468,161.37 L471,161.38 L474,161.39 L477,161.40 L480,161.41 L483,161.42 L486,161.43 L489,161.44 L492,161.45 L495,161.46 L498,161.46 L501,161.47 L504,161.48 L507,161.48 L510,161.49 L513,161.49 L516,161.49 L519,161.50 L522,161.50 L525,161.50 L528,161.50 L531,161.40 L534,161.18 L537,160.84 L540,160.41 L543,159.90 L546,159.34 L549,158.74 L552,158.11 L555,157.48 L558,156.86 L561,156.27 L564,155.73 L567,155.26 L570,154.88 L573,154.60 L576,154.43 L579,154.40 L582,154.40 L585,154.40 L588,154.40 L591,154.40 L594,154.40 L597,154.39 L600,154.39 L603,154.39 L606,154.39 L609,154.39 L612,154.38 L615,154.38 L618,154.38 L621,154.37 L624,154.37 L627,154.37 L630,154.37 L633,154.36 L636,154.36 L639,154.36 L642,154.35 L645,154.35 L648,154.35 L651,154.34 L654,154.34 L657,154.34 L660,154.33 L663,154.33 L666,154.33 L669,154.32 L672,154.32 L675,154.32 L678,154.31 L681,154.31 L684,154.31 L687,154.31 L690,154.31 L693,154.30 L696,154.30 L699,154.30 L702,154.30 L705,154.30 L708,154.30 L709.5,154.30 M370.5,163.90 L372,163.90 L375,163.90 L378,163.90 L381,163.91 L384,163.91 L387,163.91 L390,163.92 L393,163.92 L396,163.93 L399,163.93 L402,163.94 L405,163.95 L408,163.96 L411,163.97 L414,163.97 L417,163.98 L420,163.99 L423,164.00 L426,164.01 L429,164.02 L432,164.04 L435,164.05 L438,164.06 L441,164.07 L444,164.08 L447,164.09 L450,164.10 L453,164.11 L456,164.13 L459,164.14 L462,164.15 L465,164.16 L468,164.17 L471,164.18 L474,164.19 L477,164.20 L480,164.21 L483,164.22 L486,164.23 L489,164.24 L492,164.25 L495,164.25 L498,164.26 L501,164.27 L504,164.27 L507,164.28 L510,164.29 L513,164.29 L516,164.29 L519,164.30 L522,164.30 L525,164.30 L528,164.30 L531,164.22 L534,163.98 L537,163.62 L540,163.14 L543,162.56 L546,161.92 L549,161.22 L552,160.48 L555,159.72 L558,158.97 L561,158.25 L564,157.56 L567,156.93 L570,156.39 L573,155.95 L576,155.62 L579,155.44 L582,155.40 L585,155.40 L588,155.40 L591,155.39 L594,155.39 L597,155.38 L600,155.38 L603,155.37 L606,155.36 L609,155.35 L612,155.34 L615,155.33 L618,155.32 L621,155.31 L624,155.30 L627,155.28 L630,155.27 L633,155.26 L636,155.24 L639,155.23 L642,155.22 L645,155.20 L648,155.19 L651,155.17 L654,155.16 L657,155.15 L660,155.13 L663,155.12 L666,155.11 L669,155.09 L672,155.08 L675,155.07 L678,155.06 L681,155.05 L684,155.04 L687,155.03 L690,155.02 L693,155.02 L696,155.01 L699,155.01 L702,155.00 L705,155.00 L708,155.00 L709.5,155.00 M370.5,166.60 L372,166.60 L375,166.60 L378,166.60 L381,166.61 L384,166.61 L387,166.61 L390,166.62 L393,166.62 L396,166.63 L399,166.63 L402,166.64 L405,166.65 L408,166.66 L411,166.67 L414,166.67 L417,166.68 L420,166.69 L423,166.70 L426,166.71 L429,166.72 L432,166.73 L435,166.75 L438,166.76 L441,166.77 L444,166.78 L447,166.79 L450,166.80 L453,166.81 L456,166.82 L459,166.84 L462,166.85 L465,166.86 L468,166.87 L471,166.88 L474,166.89 L477,166.90 L480,166.91 L483,166.92 L486,166.93 L489,166.94 L492,166.95 L495,166.95 L498,166.96 L501,166.97 L504,166.97 L507,166.98 L510,166.98 L513,166.99 L516,166.99 L519,167.00 L522,167.00 L525,167.00 L528,167.00 L531,166.95 L534,166.77 L537,166.47 L540,166.07 L543,165.58 L546,165.02 L549,164.41 L552,163.76 L555,163.08 L558,162.40 L561,161.73 L564,161.09 L567,160.48 L570,159.93 L573,159.46 L576,159.07 L579,158.79 L582,158.63 L585,158.60 L588,158.60 L591,158.61 L594,158.62 L597,158.64 L600,158.65 L603,158.67 L606,158.70 L609,158.72 L612,158.75 L615,158.78 L618,158.82 L621,158.85 L624,158.89 L627,158.93 L630,158.97 L633,159.01 L636,159.05 L639,159.09 L642,159.13 L645,159.17 L648,159.22 L651,159.26 L654,159.30 L657,159.35 L660,159.39 L663,159.43 L666,159.47 L669,159.51 L672,159.54 L675,159.58 L678,159.61 L681,159.64 L684,159.67 L687,159.70 L690,159.72 L693,159.74 L696,159.76 L699,159.78 L702,159.79 L705,159.80 L708,159.80 L709.5,159.80 M370.5,169.20 L372,169.20 L375,169.20 L378,169.20 L381,169.21 L384,169.21 L387,169.21 L390,169.22 L393,169.22 L396,169.23 L399,169.23 L402,169.24 L405,169.25 L408,169.26 L411,169.27 L414,169.27 L417,169.28 L420,169.29 L423,169.30 L426,169.31 L429,169.32 L432,169.33 L435,169.34 L438,169.36 L441,169.37 L444,169.38 L447,169.39 L450,169.40 L453,169.41 L456,169.42 L459,169.43 L462,169.45 L465,169.46 L468,169.47 L471,169.48 L474,169.49 L477,169.50 L480,169.51 L483,169.52 L486,169.53 L489,169.54 L492,169.54 L495,169.55 L498,169.56 L501,169.57 L504,169.57 L507,169.58 L510,169.58 L513,169.59 L516,169.59 L519,169.60 L522,169.60 L525,169.60 L528,169.60 L531,169.57 L534,169.44 L537,169.20 L540,168.86 L543,168.46 L546,167.98 L549,167.46 L552,166.89 L555,166.30 L558,165.70 L561,165.10 L564,164.51 L567,163.94 L570,163.42 L573,162.94 L576,162.54 L579,162.20 L582,161.96 L585,161.83 L588,161.80 L591,161.81 L594,161.82 L597,161.85 L600,161.88 L603,161.92 L606,161.97 L609,162.02 L612,162.08 L615,162.15 L618,162.22 L621,162.29 L624,162.37 L627,162.45 L630,162.54 L633,162.62 L636,162.72 L639,162.81 L642,162.90 L645,163.00 L648,163.09 L651,163.19 L654,163.28 L657,163.38 L660,163.47 L663,163.56 L666,163.65 L669,163.74 L672,163.82 L675,163.90 L678,163.97 L681,164.04 L684,164.11 L687,164.17 L690,164.22 L693,164.27 L696,164.31 L699,164.35 L702,164.37 L705,164.39 L708,164.40 L709.5,164.40 M370.5,171.70 L372,171.70 L375,171.70 L378,171.70 L381,171.71 L384,171.71 L387,171.71 L390,171.72 L393,171.72 L396,171.73 L399,171.73 L402,171.74 L405,171.75 L408,171.76 L411,171.76 L414,171.77 L417,171.78 L420,171.79 L423,171.80 L426,171.81 L429,171.82 L432,171.83 L435,171.84 L438,171.86 L441,171.87 L444,171.88 L447,171.89 L450,171.90 L453,171.91 L456,171.92 L459,171.93 L462,171.94 L465,171.96 L468,171.97 L471,171.98 L474,171.99 L477,172.00 L480,172.01 L483,172.02 L486,172.03 L489,172.04 L492,172.04 L495,172.05 L498,172.06 L501,172.07 L504,172.07 L507,172.08 L510,172.08 L513,172.09 L516,172.09 L519,172.09 L522,172.10 L525,172.10 L528,172.10 L531,172.09 L534,171.99 L537,171.82 L540,171.56 L543,171.25 L546,170.88 L549,170.46 L552,170.01 L555,169.53 L558,169.04 L561,168.54 L564,168.05 L567,167.57 L570,167.11 L573,166.69 L576,166.31 L579,165.98 L582,165.72 L585,165.53 L588,165.42 L591,165.40 L594,165.41 L597,165.44 L600,165.47 L603,165.52 L606,165.58 L609,165.64 L612,165.72 L615,165.81 L618,165.90 L621,166.00 L624,166.11 L627,166.22 L630,166.34 L633,166.46 L636,166.59 L639,166.72 L642,166.85 L645,166.99 L648,167.12 L651,167.26 L654,167.39 L657,167.53 L660,167.66 L663,167.79 L666,167.92 L669,168.04 L672,168.16 L675,168.27 L678,168.38 L681,168.48 L684,168.58 L687,168.67 L690,168.74 L693,168.81 L696,168.87 L699,168.92 L702,168.96 L705,168.99 L708,169.00 L709.5,169.00 M370.5,175.50 L372,175.50 L375,175.50 L378,175.50 L381,175.50 L384,175.51 L387,175.51 L390,175.52 L393,175.52 L396,175.53 L399,175.53 L402,175.54 L405,175.55 L408,175.56 L411,175.56 L414,175.57 L417,175.58 L420,175.59 L423,175.60 L426,175.61 L429,175.62 L432,175.63 L435,175.64 L438,175.65 L441,175.67 L444,175.68 L447,175.69 L450,175.70 L453,175.71 L456,175.72 L459,175.73 L462,175.74 L465,175.75 L468,175.77 L471,175.78 L474,175.79 L477,175.80 L480,175.81 L483,175.82 L486,175.83 L489,175.83 L492,175.84 L495,175.85 L498,175.86 L501,175.87 L504,175.87 L507,175.88 L510,175.88 L513,175.89 L516,175.89 L519,175.89 L522,175.90 L525,175.90 L528,175.90 L531,175.89 L534,175.82 L537,175.67 L540,175.45 L543,175.16 L546,174.82 L549,174.44 L552,174.02 L555,173.57 L558,173.11 L561,172.63 L564,172.15 L567,171.68 L570,171.23 L573,170.80 L576,170.40 L579,170.05 L582,169.74 L585,169.50 L588,169.32 L591,169.22 L594,169.20 L597,169.21 L600,169.24 L603,169.28 L606,169.33 L609,169.39 L612,169.46 L615,169.55 L618,169.64 L621,169.74 L624,169.85 L627,169.96 L630,170.08 L633,170.21 L636,170.34 L639,170.48 L642,170.61 L645,170.75 L648,170.90 L651,171.04 L654,171.18 L657,171.32 L660,171.46 L663,171.60 L666,171.74 L669,171.87 L672,172.00 L675,172.12 L678,172.23 L681,172.34 L684,172.45 L687,172.54 L690,172.62 L693,172.70 L696,172.76 L699,172.82 L702,172.86 L705,172.88 L708,172.90 L709.5,172.90 M370.5,179.80 L372,179.80 L375,179.80 L378,179.80 L381,179.80 L384,179.81 L387,179.81 L390,179.82 L393,179.82 L396,179.83 L399,179.83 L402,179.84 L405,179.85 L408,179.86 L411,179.86 L414,179.87 L417,179.88 L420,179.89 L423,179.90 L426,179.91 L429,179.92 L432,179.93 L435,179.94 L438,179.95 L441,179.96 L444,179.98 L447,179.99 L450,180.00 L453,180.01 L456,180.02 L459,180.03 L462,180.04 L465,180.05 L468,180.06 L471,180.08 L474,180.09 L477,180.10 L480,180.11 L483,180.12 L486,180.12 L489,180.13 L492,180.14 L495,180.15 L498,180.16 L501,180.16 L504,180.17 L507,180.18 L510,180.18 L513,180.19 L516,180.19 L519,180.19 L522,180.20 L525,180.20 L528,180.20 L531,180.20 L534,180.15 L537,180.04 L540,179.88 L543,179.66 L546,179.39 L549,179.09 L552,178.76 L555,178.40 L558,178.03 L561,177.64 L564,177.25 L567,176.86 L570,176.48 L573,176.11 L576,175.77 L579,175.45 L582,175.17 L585,174.93 L588,174.73 L591,174.59 L594,174.52 L597,174.50 L600,174.51 L603,174.52 L606,174.55 L609,174.58 L612,174.61 L615,174.66 L618,174.71 L621,174.76 L624,174.82 L627,174.88 L630,174.95 L633,175.02 L636,175.10 L639,175.18 L642,175.26 L645,175.34 L648,175.42 L651,175.50 L654,175.58 L657,175.67 L660,175.75 L663,175.83 L666,175.91 L669,175.99 L672,176.06 L675,176.14 L678,176.20 L681,176.27 L684,176.33 L687,176.39 L690,176.44 L693,176.48 L696,176.52 L699,176.55 L702,176.57 L705,176.59 L708,176.60 L709.5,176.60 M370.5,183.00 L372,183.00 L375,183.00 L378,183.00 L381,183.00 L384,183.01 L387,183.01 L390,183.02 L393,183.02 L396,183.03 L399,183.03 L402,183.04 L405,183.05 L408,183.06 L411,183.06 L414,183.07 L417,183.08 L420,183.09 L423,183.10 L426,183.11 L429,183.12 L432,183.13 L435,183.14 L438,183.15 L441,183.16 L444,183.17 L447,183.19 L450,183.20 L453,183.21 L456,183.22 L459,183.23 L462,183.24 L465,183.25 L468,183.26 L471,183.27 L474,183.28 L477,183.29 L480,183.30 L483,183.31 L486,183.32 L489,183.33 L492,183.34 L495,183.35 L498,183.36 L501,183.36 L504,183.37 L507,183.38 L510,183.38 L513,183.39 L516,183.39 L519,183.39 L522,183.40 L525,183.40 L528,183.40 L531,183.40 L534,183.37 L537,183.29 L540,183.17 L543,183.00 L546,182.79 L549,182.55 L552,182.29 L555,182.00 L558,181.70 L561,181.38 L564,181.06 L567,180.73 L570,180.41 L573,180.10 L576,179.80 L579,179.52 L582,179.27 L585,179.04 L588,178.84 L591,178.69 L594,178.58 L597,178.51 L600,178.50 L603,178.51 L606,178.53 L609,178.56 L612,178.60 L615,178.65 L618,178.71 L621,178.78 L624,178.85 L627,178.93 L630,179.02 L633,179.11 L636,179.21 L639,179.31 L642,179.41 L645,179.51 L648,179.62 L651,179.73 L654,179.84 L657,179.95 L660,180.06 L663,180.17 L666,180.27 L669,180.38 L672,180.48 L675,180.57 L678,180.67 L681,180.75 L684,180.84 L687,180.91 L690,180.98 L693,181.04 L696,181.09 L699,181.13 L702,181.16 L705,181.19 L708,181.20 L709.5,181.20 M370.5,188.30 L372,188.30 L375,188.30 L378,188.30 L381,188.30 L384,188.31 L387,188.31 L390,188.32 L393,188.32 L396,188.33 L399,188.33 L402,188.34 L405,188.35 L408,188.35 L411,188.36 L414,188.37 L417,188.38 L420,188.39 L423,188.40 L426,188.41 L429,188.42 L432,188.43 L435,188.44 L438,188.45 L441,188.46 L444,188.47 L447,188.49 L450,188.50 L453,188.51 L456,188.52 L459,188.53 L462,188.54 L465,188.55 L468,188.56 L471,188.57 L474,188.58 L477,188.59 L480,188.60 L483,188.61 L486,188.62 L489,188.63 L492,188.64 L495,188.65 L498,188.66 L501,188.66 L504,188.67 L507,188.68 L510,188.68 L513,188.69 L516,188.69 L519,188.69 L522,188.70 L525,188.70 L528,188.70 L531,188.70 L534,188.67 L537,188.58 L540,188.43 L543,188.22 L546,187.96 L549,187.65 L552,187.31 L555,186.94 L558,186.54 L561,186.12 L564,185.70 L567,185.26 L570,184.83 L573,184.41 L576,183.99 L579,183.60 L582,183.23 L585,182.90 L588,182.60 L591,182.34 L594,182.14 L597,182.00 L600,181.92 L603,181.90 L606,181.91 L609,181.94 L612,181.98 L615,182.03 L618,182.09 L621,182.16 L624,182.25 L627,182.34 L630,182.44 L633,182.54 L636,182.66 L639,182.78 L642,182.90 L645,183.03 L648,183.16 L651,183.29 L654,183.42 L657,183.56 L660,183.69 L663,183.82 L666,183.95 L669,184.08 L672,184.20 L675,184.32 L678,184.44 L681,184.54 L684,184.65 L687,184.74 L690,184.82 L693,184.90 L696,184.96 L699,185.01 L702,185.06 L705,185.08 L708,185.10 L709.5,185.10 M370.5,191.40 L372,191.40 L375,191.40 L378,191.40 L381,191.40 L384,191.41 L387,191.41 L390,191.42 L393,191.42 L396,191.43 L399,191.43 L402,191.44 L405,191.45 L408,191.45 L411,191.46 L414,191.47 L417,191.48 L420,191.49 L423,191.50 L426,191.51 L429,191.52 L432,191.53 L435,191.54 L438,191.55 L441,191.56 L444,191.57 L447,191.58 L450,191.60 L453,191.61 L456,191.62 L459,191.63 L462,191.64 L465,191.65 L468,191.66 L471,191.67 L474,191.68 L477,191.69 L480,191.70 L483,191.71 L486,191.72 L489,191.73 L492,191.74 L495,191.75 L498,191.75 L501,191.76 L504,191.77 L507,191.77 L510,191.78 L513,191.78 L516,191.79 L519,191.79 L522,191.80 L525,191.80 L528,191.80 L531,191.80 L534,191.79 L537,191.74 L540,191.65 L543,191.52 L546,191.36 L549,191.17 L552,190.95 L555,190.72 L558,190.47 L561,190.20 L564,189.92 L567,189.64 L570,189.36 L573,189.08 L576,188.80 L579,188.53 L582,188.28 L585,188.05 L588,187.83 L591,187.64 L594,187.48 L597,187.35 L600,187.26 L603,187.21 L606,187.20 L609,187.21 L612,187.22 L615,187.25 L618,187.28 L621,187.31 L624,187.36 L627,187.41 L630,187.46 L633,187.52 L636,187.58 L639,187.65 L642,187.72 L645,187.79 L648,187.86 L651,187.94 L654,188.02 L657,188.09 L660,188.17 L663,188.25 L666,188.32 L669,188.40 L672,188.47 L675,188.54 L678,188.61 L681,188.67 L684,188.73 L687,188.79 L690,188.84 L693,188.88 L696,188.92 L699,188.95 L702,188.97 L705,188.99 L708,189.00 L709.5,189.00 M370.5,197.80 L372,197.80 L375,197.80 L378,197.80 L381,197.80 L384,197.81 L387,197.81 L390,197.82 L393,197.82 L396,197.83 L399,197.83 L402,197.84 L405,197.85 L408,197.85 L411,197.86 L414,197.87 L417,197.88 L420,197.89 L423,197.90 L426,197.91 L429,197.92 L432,197.93 L435,197.94 L438,197.95 L441,197.96 L444,197.97 L447,197.98 L450,197.99 L453,198.01 L456,198.02 L459,198.03 L462,198.04 L465,198.05 L468,198.06 L471,198.07 L474,198.08 L477,198.09 L480,198.10 L483,198.11 L486,198.12 L489,198.13 L492,198.14 L495,198.15 L498,198.15 L501,198.16 L504,198.17 L507,198.17 L510,198.18 L513,198.18 L516,198.19 L519,198.19 L522,198.20 L525,198.20 L528,198.20 L531,198.20 L534,198.20 L537,198.16 L540,198.10 L543,198.01 L546,197.90 L549,197.76 L552,197.60 L555,197.43 L558,197.25 L561,197.05 L564,196.84 L567,196.63 L570,196.42 L573,196.20 L576,195.99 L579,195.79 L582,195.59 L585,195.40 L588,195.22 L591,195.07 L594,194.93 L597,194.81 L600,194.71 L603,194.65 L606,194.61 L609,194.60 L612,194.60 L615,194.60 L618,194.59 L621,194.59 L624,194.58 L627,194.57 L630,194.56 L633,194.55 L636,194.54 L639,194.53 L642,194.52 L645,194.51 L648,194.50 L651,194.48 L654,194.47 L657,194.46 L660,194.44 L663,194.43 L666,194.42 L669,194.41 L672,194.39 L675,194.38 L678,194.37 L681,194.36 L684,194.35 L687,194.34 L690,194.33 L693,194.32 L696,194.31 L699,194.31 L702,194.30 L705,194.30 L708,194.30 L709.5,194.30 M370.5,201.00 L372,201.00 L375,201.00 L378,201.00 L381,201.00 L384,201.01 L387,201.01 L390,201.02 L393,201.02 L396,201.03 L399,201.03 L402,201.04 L405,201.05 L408,201.05 L411,201.06 L414,201.07 L417,201.08 L420,201.09 L423,201.10 L426,201.11 L429,201.12 L432,201.13 L435,201.14 L438,201.15 L441,201.16 L444,201.17 L447,201.18 L450,201.19 L453,201.20 L456,201.22 L459,201.23 L462,201.24 L465,201.25 L468,201.26 L471,201.27 L474,201.28 L477,201.29 L480,201.30 L483,201.31 L486,201.32 L489,201.33 L492,201.34 L495,201.34 L498,201.35 L501,201.36 L504,201.37 L507,201.37 L510,201.38 L513,201.38 L516,201.39 L519,201.39 L522,201.39 L525,201.40 L528,201.40 L531,201.40 L534,201.40 L537,201.37 L540,201.32 L543,201.24 L546,201.13 L549,201.01 L552,200.86 L555,200.70 L558,200.53 L561,200.34 L564,200.15 L567,199.94 L570,199.74 L573,199.53 L576,199.32 L579,199.12 L582,198.92 L585,198.73 L588,198.55 L591,198.39 L594,198.24 L597,198.11 L600,197.99 L603,197.91 L606,197.84 L609,197.81 L612,197.80 L615,197.80 L618,197.79 L621,197.79 L624,197.78 L627,197.77 L630,197.76 L633,197.75 L636,197.74 L639,197.72 L642,197.71 L645,197.69 L648,197.67 L651,197.66 L654,197.64 L657,197.62 L660,197.60 L663,197.58 L666,197.57 L669,197.55 L672,197.53 L675,197.51 L678,197.50 L681,197.48 L684,197.47 L687,197.45 L690,197.44 L693,197.43 L696,197.42 L699,197.41 L702,197.41 L705,197.40 L708,197.40 L709.5,197.40 M370.5,216.20 L372,216.20 L375,216.20 L378,216.20 L381,216.20 L384,216.21 L387,216.21 L390,216.22 L393,216.22 L396,216.23 L399,216.23 L402,216.24 L405,216.25 L408,216.25 L411,216.26 L414,216.27 L417,216.28 L420,216.29 L423,216.30 L426,216.31 L429,216.32 L432,216.33 L435,216.34 L438,216.35 L441,216.36 L444,216.37 L447,216.38 L450,216.39 L453,216.40 L456,216.41 L459,216.43 L462,216.44 L465,216.45 L468,216.46 L471,216.47 L474,216.48 L477,216.49 L480,216.50 L483,216.51 L486,216.52 L489,216.53 L492,216.54 L495,216.54 L498,216.55 L501,216.56 L504,216.57 L507,216.57 L510,216.58 L513,216.58 L516,216.59 L519,216.59 L522,216.59 L525,216.60 L528,216.60 L531,216.60 L534,216.60 L537,216.59 L540,216.58 L543,216.55 L546,216.52 L549,216.48 L552,216.44 L555,216.39 L558,216.33 L561,216.28 L564,216.21 L567,216.15 L570,216.08 L573,216.02 L576,215.95 L579,215.88 L582,215.82 L585,215.75 L588,215.69 L591,215.64 L594,215.59 L597,215.54 L600,215.50 L603,215.46 L606,215.43 L609,215.41 L612,215.40 L615,215.40 L618,215.40 L621,215.39 L624,215.38 L627,215.36 L630,215.35 L633,215.33 L636,215.31 L639,215.28 L642,215.25 L645,215.23 L648,215.20 L651,215.17 L654,215.13 L657,215.10 L660,215.07 L663,215.04 L666,215.00 L669,214.97 L672,214.94 L675,214.91 L678,214.88 L681,214.85 L684,214.82 L687,214.80 L690,214.78 L693,214.76 L696,214.74 L699,214.72 L702,214.71 L705,214.70 L708,214.70 L709.5,214.70 M370.5,220.50 L372,220.50 L375,220.50 L378,220.50 L381,220.50 L384,220.51 L387,220.51 L390,220.52 L393,220.52 L396,220.53 L399,220.53 L402,220.54 L405,220.55 L408,220.55 L411,220.56 L414,220.57 L417,220.58 L420,220.59 L423,220.60 L426,220.61 L429,220.62 L432,220.63 L435,220.64 L438,220.65 L441,220.66 L444,220.67 L447,220.68 L450,220.69 L453,220.70 L456,220.71 L459,220.72 L462,220.74 L465,220.75 L468,220.76 L471,220.77 L474,220.78 L477,220.79 L480,220.80 L483,220.81 L486,220.82 L489,220.83 L492,220.83 L495,220.84 L498,220.85 L501,220.86 L504,220.86 L507,220.87 L510,220.88 L513,220.88 L516,220.89 L519,220.89 L522,220.89 L525,220.90 L528,220.90 L531,220.90 L534,220.90 L537,220.90 L540,220.89 L543,220.89 L546,220.88 L549,220.87 L552,220.85 L555,220.84 L558,220.82 L561,220.80 L564,220.78 L567,220.76 L570,220.74 L573,220.72 L576,220.70 L579,220.67 L582,220.65 L585,220.63 L588,220.61 L591,220.59 L594,220.58 L597,220.56 L600,220.54 L603,220.53 L606,220.52 L609,220.51 L612,220.50 L615,220.50 L618,220.50 L621,220.50 L624,220.49 L627,220.48 L630,220.47 L633,220.45 L636,220.43 L639,220.41 L642,220.39 L645,220.37 L648,220.34 L651,220.32 L654,220.29 L657,220.26 L660,220.23 L663,220.20 L666,220.17 L669,220.14 L672,220.12 L675,220.09 L678,220.06 L681,220.04 L684,220.01 L687,219.99 L690,219.97 L693,219.95 L696,219.93 L699,219.92 L702,219.91 L705,219.90 L708,219.90 L709.5,219.90 M370.5,235.30 L372,235.30 L375,235.30 L378,235.30 L381,235.30 L384,235.31 L387,235.31 L390,235.32 L393,235.32 L396,235.33 L399,235.33 L402,235.34 L405,235.35 L408,235.35 L411,235.36 L414,235.37 L417,235.38 L420,235.39 L423,235.40 L426,235.41 L429,235.42 L432,235.43 L435,235.44 L438,235.45 L441,235.46 L444,235.47 L447,235.48 L450,235.49 L453,235.50 L456,235.51 L459,235.52 L462,235.53 L465,235.55 L468,235.56 L471,235.57 L474,235.58 L477,235.59 L480,235.60 L483,235.61 L486,235.62 L489,235.62 L492,235.63 L495,235.64 L498,235.65 L501,235.66 L504,235.66 L507,235.67 L510,235.68 L513,235.68 L516,235.69 L519,235.69 L522,235.69 L525,235.70 L528,235.70 L531,235.70 L534,235.70 L537,235.70 L540,235.70 L543,235.71 L546,235.71 L549,235.72 L552,235.73 L555,235.74 L558,235.76 L561,235.77 L564,235.78 L567,235.80 L570,235.81 L573,235.83 L576,235.84 L579,235.86 L582,235.87 L585,235.89 L588,235.91 L591,235.92 L594,235.93 L597,235.95 L600,235.96 L603,235.97 L606,235.98 L609,235.99 L612,235.99 L615,236.00 L618,236.00 L621,236.00 L624,236.01 L627,236.03 L630,236.06 L633,236.09 L636,236.14 L639,236.19 L642,236.24 L645,236.30 L648,236.37 L651,236.44 L654,236.52 L657,236.59 L660,236.67 L663,236.75 L666,236.83 L669,236.91 L672,236.99 L675,237.07 L678,237.14 L681,237.22 L684,237.28 L687,237.35 L690,237.41 L693,237.46 L696,237.50 L699,237.54 L702,237.57 L705,237.59 L708,237.60 L709.5,237.60 M370.5,243.80 L372,243.80 L375,243.80 L378,243.80 L381,243.80 L384,243.81 L387,243.81 L390,243.82 L393,243.82 L396,243.83 L399,243.83 L402,243.84 L405,243.85 L408,243.85 L411,243.86 L414,243.87 L417,243.88 L420,243.89 L423,243.90 L426,243.91 L429,243.92 L432,243.93 L435,243.94 L438,243.95 L441,243.96 L444,243.97 L447,243.98 L450,243.99 L453,244.00 L456,244.01 L459,244.02 L462,244.03 L465,244.04 L468,244.05 L471,244.07 L474,244.08 L477,244.09 L480,244.10 L483,244.11 L486,244.11 L489,244.12 L492,244.13 L495,244.14 L498,244.15 L501,244.16 L504,244.16 L507,244.17 L510,244.18 L513,244.18 L516,244.19 L519,244.19 L522,244.19 L525,244.20 L528,244.20 L531,244.20 L534,244.20 L537,244.20 L540,244.19 L543,244.18 L546,244.16 L549,244.14 L552,244.11 L555,244.08 L558,244.05 L561,244.01 L564,243.97 L567,243.93 L570,243.89 L573,243.84 L576,243.80 L579,243.75 L582,243.70 L585,243.66 L588,243.61 L591,243.57 L594,243.53 L597,243.49 L600,243.45 L603,243.42 L606,243.39 L609,243.36 L612,243.34 L615,243.32 L618,243.31 L621,243.30 L624,243.30 L627,243.30 L630,243.31 L633,243.31 L636,243.32 L639,243.34 L642,243.35 L645,243.36 L648,243.38 L651,243.40 L654,243.42 L657,243.44 L660,243.46 L663,243.48 L666,243.50 L669,243.52 L672,243.54 L675,243.56 L678,243.58 L681,243.60 L684,243.62 L687,243.63 L690,243.65 L693,243.66 L696,243.67 L699,243.68 L702,243.69 L705,243.70 L708,243.70 L709.5,243.70 M370.5,258.6 C450,260.5 540,260.8 610,260.3 C650,260 685,258.8 709.5,257.4 M370.5,268.8 C450,270 550,270.2 620,269.5 C660,269 690,267.8 709.5,266.6" fill="none" stroke="#001020" stroke-width="1.0" stroke-linejoin="round" filter="url(#bl)"/>
<path d="M547.0,154.5 L548.0,153.5 L549.0,152.7 L550.0,152.0 L551.0,151.3 L552.0,150.8 L553.0,150.4 L554.0,150.1 L555.0,150.0 L556.0,150.0 L557.0,150.0 L558.0,150.0 L559.0,150.0 L560.0,150.0 L561.0,150.0 L562.0,150.0 L563.0,150.0 L564.0,150.0 L565.0,150.0 L566.0,150.0 L567.0,150.0 L568.0,150.0 L569.0,150.0 L570.0,150.0 L571.0,150.0 L572.0,150.0 L573.0,150.0 L574.0,150.0 L575.0,150.0 L576.0,150.0 L577.0,150.0 L578.0,150.0 L579.0,150.0 L580.0,150.0 L581.0,150.0 L582.0,150.0 L583.0,150.0 L584.0,150.0 L585.0,150.0 L586.0,150.0 L587.0,150.0 L588.0,150.0 L589.0,150.0 L590.0,150.0 L591.0,150.0 L592.0,150.0 L593.0,150.0 L594.0,150.0 L595.0,150.0 L596.0,150.0 L597.0,150.0 L598.0,150.0 L599.0,150.0 L600.0,150.0 L601.0,150.0 L602.0,150.0 L603.0,150.0 L604.0,150.0 L605.0,150.0 L606.0,150.0 L607.0,150.0 L608.0,150.0 L609.0,150.0 L610.0,150.0 L611.0,150.0 L612.0,150.0 L613.0,150.0 L614.0,150.0 L615.0,150.0 L616.0,150.0 L617.0,150.0 L618.0,150.0 L619.0,150.0 L620.0,150.0 L621.0,150.0 L622.0,150.0 L623.0,150.0 L624.0,150.0 L625.0,150.0 L626.0,150.0 L627.0,150.0 L628.0,150.0 L629.0,150.0 L630.0,150.0 L631.0,150.0 L632.0,150.0 L633.0,150.0 L634.0,150.0 L635.0,150.0 L636.0,150.0 L637.0,150.0 L638.0,150.0 L639.0,150.0 L640.0,150.0 L641.0,150.0 L642.0,150.0 L643.0,150.0 L644.0,150.0 L645.0,150.0 L646.0,150.0 L647.0,150.0 L648.0,150.0 L649.0,150.0 L650.0,150.0 L651.0,150.0 L652.0,150.0 L653.0,150.0 L654.0,150.0 L655.0,150.0 L656.0,150.0 L657.0,150.0 L658.0,150.0 L659.0,150.0 L660.0,150.0 L661.0,150.0 L662.0,150.0 L663.0,150.0 L664.0,150.0 L665.0,150.0 L666.0,150.0 L667.0,150.0 L668.0,150.0 L669.0,150.0 L670.0,150.0 L671.0,150.0 L672.0,150.0 L673.0,150.0 L674.0,150.0 L675.0,150.0 L676.0,150.0 L677.0,150.0 L678.0,150.0 L679.0,150.0 L680.0,150.0 L681.0,150.0 L682.0,150.0 L683.0,150.0 L684.0,150.0 L685.0,150.0 L686.0,150.0 L687.0,150.0 L688.0,150.0 L689.0,150.0 L690.0,150.0 L691.0,150.0 L692.0,150.0 L693.0,150.0 L694.0,150.0 L695.0,150.0 L696.0,150.0 L697.0,150.0 L698.0,150.0 L699.0,150.0 L700.0,150.0 L701.0,150.0 L702.0,150.0 L703.0,150.0 L704.0,150.0 L705.0,150.0 L706.0,150.0 L707.0,150.0 L708.0,150.0 L709.0,150.0 L709.5,150.0 L709.5,155.6 L709.0,155.6 L708.0,155.6 L707.0,155.6 L706.0,155.6 L705.0,155.6 L704.0,155.6 L703.0,155.6 L702.0,155.6 L701.0,155.6 L700.0,155.6 L699.0,155.6 L698.0,155.6 L697.0,155.6 L696.0,155.6 L695.0,155.6 L694.0,155.6 L693.0,155.6 L692.0,155.6 L691.0,155.6 L690.0,155.6 L689.0,155.6 L688.0,155.6 L687.0,155.6 L686.0,155.6 L685.0,155.6 L684.0,155.6 L683.0,155.6 L682.0,155.6 L681.0,155.6 L680.0,155.6 L679.0,155.6 L678.0,155.6 L677.0,155.6 L676.0,155.6 L675.0,155.6 L674.0,155.6 L673.0,155.6 L672.0,155.6 L671.0,155.6 L670.0,155.6 L669.0,155.6 L668.0,155.6 L667.0,155.6 L666.0,155.6 L665.0,155.6 L664.0,155.6 L663.0,155.6 L662.0,155.6 L661.0,155.6 L660.0,155.6 L659.0,155.6 L658.0,155.6 L657.0,155.6 L656.0,155.6 L655.0,155.6 L654.0,155.6 L653.0,155.6 L652.0,155.6 L651.0,155.6 L650.0,155.6 L649.0,155.6 L648.0,155.6 L647.0,155.6 L646.0,155.6 L645.0,155.6 L644.0,155.6 L643.0,155.6 L642.0,155.6 L641.0,155.6 L640.0,155.6 L639.0,155.6 L638.0,155.6 L637.0,155.6 L636.0,155.6 L635.0,155.6 L634.0,155.6 L633.0,155.6 L632.0,155.6 L631.0,155.6 L630.0,155.6 L629.0,155.6 L628.0,155.6 L627.0,155.6 L626.0,155.6 L625.0,155.6 L624.0,155.6 L623.0,155.6 L622.0,155.6 L621.0,155.6 L620.0,155.6 L619.0,155.6 L618.0,155.6 L617.0,155.6 L616.0,155.6 L615.0,155.6 L614.0,155.6 L613.0,155.6 L612.0,155.6 L611.0,155.6 L610.0,155.6 L609.0,155.6 L608.0,155.6 L607.0,155.6 L606.0,155.6 L605.0,155.6 L604.0,155.6 L603.0,155.6 L602.0,155.6 L601.0,155.6 L600.0,155.6 L599.0,155.6 L598.0,155.6 L597.0,155.6 L596.0,155.6 L595.0,155.6 L594.0,155.6 L593.0,155.6 L592.0,155.6 L591.0,155.6 L590.0,155.6 L589.0,155.6 L588.0,155.6 L587.0,155.6 L586.0,155.6 L585.0,155.6 L584.0,155.6 L583.0,155.6 L582.0,155.6 L581.0,155.6 L580.0,155.6 L579.0,155.6 L578.0,155.6 L577.0,155.6 L576.0,155.6 L575.0,155.6 L574.0,155.6 L573.0,155.6 L572.0,155.5 L571.0,155.5 L570.0,155.5 L569.0,155.5 L568.0,155.5 L567.0,155.5 L566.0,155.5 L565.0,155.4 L564.0,155.4 L563.0,155.4 L562.0,155.4 L561.0,155.4 L560.0,155.4 L559.0,155.4 L558.0,155.4 L557.0,155.4 L556.0,155.2 L555.0,155.1 L554.0,155.0 L553.0,155.1 L552.0,155.4 L551.0,155.9 L550.0,156.4 L549.0,156.8 L548.0,157.3 L547.0,158.1 Z" fill="#00040e" filter="url(#bl)"/>
</g>
<path d="M370.5,153 H525 L525.00,153.00 L525.50,153.04 L526.00,153.12 L526.50,153.24 L527.00,153.40 L527.50,153.58 L528.00,153.79 L528.50,154.03 L529.00,154.29 L529.50,154.57 L530.00,154.88 L530.50,155.21 L531.00,155.57 L531.50,155.94 L532.00,156.34 L532.50,156.75 L533.00,157.19 L533.50,157.69 L534.00,158.21 L534.50,158.66 L535.00,159.05 L535.50,159.38 L536.00,159.67 L536.50,159.91 L537.00,160.12 L537.50,160.29 L538.00,160.43 L538.50,160.54 L539.00,160.62 L539.50,160.68 L540.00,160.70 L540.50,160.69 L541.00,160.66 L541.50,160.60 L542.00,160.50 L542.50,160.38 L543.00,160.23 L543.50,160.04 L544.00,159.82 L544.50,159.56 L545.00,159.25 L545.50,158.90 L546.00,158.49 L546.50,158.01 L547.00,157.46 L547.50,156.98 L548.00,156.53 L548.50,156.10 L549.00,155.69 L549.50,155.31 L550.00,154.95 L550.50,154.62 L551.00,154.31 L551.50,154.03 L552.00,153.78 L552.50,153.56 L553.00,153.37 L553.50,153.21 L554.00,153.09 L554.50,153.02 L554.8,153 H709.5 V275.5 H370.5 Z" fill="none" stroke="#001030" stroke-width="0.7"/>
<path d="M173.6,151.1 V25.2 H191 V151.1 A8.7,8.7 0 0 1 173.6,151.1 Z" fill="#fff" stroke="#5a5a5a" stroke-width="0.9"/>
<path d="M173.6,128.3 H191" stroke="#5a5a5a" stroke-width="0.9"/>
<path d="M531.3,151.85 V30.3 H549 V151.85 A8.85,8.85 0 0 1 531.3,151.85 Z" fill="#fff" stroke="#5a5a5a" stroke-width="0.9"/>
<path d="M531.3,130.3 H549" stroke="#5a5a5a" stroke-width="0.9"/>
<g clip-path="url(#cB1)">
<rect x="0" y="476" width="355" height="131" fill="#0048ff"/>
<ellipse cx="178" cy="548" rx="130" ry="26" fill="#0040ff" opacity="0.7" filter="url(#b4)"/>
<polygon points="4,497 40,489 90,496 125,488 150,498 100,505 40,504" fill="#007cff" opacity="0.95" filter="url(#b3)"/>
<polygon points="210,497 250,489 290,496 320,489 351,497 300,505 240,504" fill="#007cff" opacity="0.95" filter="url(#b3)"/>
<polygon points="4,590 60,583 120,591 170,584 230,591 290,583 351,590 351,599 4,599" fill="#0080ff" opacity="0.95" filter="url(#b3)"/>
<polygon points="4,578 60,572 120,580 170,574 230,580 290,573 351,579 351,583 4,583" fill="#0034f8" opacity="0.6" filter="url(#b3)"/>
<ellipse cx="235" cy="486" rx="32" ry="4.5" fill="#00a0ff" opacity="0.75" filter="url(#b2)" transform="rotate(-4 235 486)"/>
<rect x="0" y="478" width="355" height="10" fill="url(#b1top)"/>
<rect x="0" y="595" width="355" height="10.5" fill="url(#b1bot)"/>
<g transform="rotate(-30 179.7 491)"><ellipse cx="179.7" cy="491.3" rx="78" ry="62" fill="url(#hot1)"/></g>
</g>
<path d="M1,478 H162 L162.00,478.00 L162.50,478.04 L163.00,478.14 L163.50,478.28 L164.00,478.45 L164.50,478.66 L165.00,478.90 L165.50,479.16 L166.00,479.46 L166.50,479.78 L167.00,480.13 L167.50,480.51 L168.00,480.91 L168.50,481.33 L169.00,481.78 L169.50,482.25 L170.00,482.75 L170.50,483.31 L171.00,483.81 L171.50,484.24 L172.00,484.62 L172.50,484.94 L173.00,485.23 L173.50,485.47 L174.00,485.68 L174.50,485.86 L175.00,486.00 L175.50,486.12 L176.00,486.20 L176.50,486.26 L177.00,486.29 L177.50,486.30 L178.00,486.28 L178.50,486.23 L179.00,486.15 L179.50,486.05 L180.00,485.92 L180.50,485.75 L181.00,485.56 L181.50,485.33 L182.00,485.06 L182.50,484.75 L183.00,484.40 L183.50,483.99 L184.00,483.52 L184.50,482.97 L185.00,482.44 L185.50,481.96 L186.00,481.50 L186.50,481.06 L187.00,480.64 L187.50,480.25 L188.00,479.89 L188.50,479.56 L189.00,479.25 L189.50,478.97 L190.00,478.72 L190.50,478.50 L191.00,478.31 L191.50,478.17 L192.00,478.06 L192.50,478.00 L192.6,478 H353.5 V605.5 H1 Z" fill="none" stroke="#000060" stroke-width="0.5"/>
<path d="M168,476.95 V350.1 H186.7 V476.95 A9.35,9.35 0 0 1 168,476.95 Z" fill="#00007f" stroke="#00002a" stroke-width="0.8"/>
<path d="M168,454.4 H186.7" stroke="#00002a" stroke-width="0.8"/>
<g clip-path="url(#cB2)">
<rect x="367" y="477" width="350" height="130" fill="#0000c6"/>
<ellipse cx="542" cy="540" rx="110" ry="40" fill="#0000d6" opacity="0.6" filter="url(#b5)"/>
<rect x="367" y="478.5" width="350" height="6" fill="url(#b2top)"/>
<rect x="367" y="596" width="350" height="10" fill="url(#b2bot)"/>
<ellipse cx="543" cy="490.2" rx="44" ry="44" fill="url(#hot2)"/>
</g>
<path d="M368,478.5 H526.7 L526.70,478.50 L527.20,478.54 L527.70,478.63 L528.20,478.76 L528.70,478.93 L529.20,479.13 L529.70,479.35 L530.20,479.61 L530.70,479.89 L531.20,480.20 L531.70,480.54 L532.20,480.89 L532.70,481.28 L533.20,481.68 L533.70,482.11 L534.20,482.56 L534.70,483.03 L535.20,483.59 L535.70,484.11 L536.20,484.56 L536.70,484.95 L537.20,485.28 L537.70,485.57 L538.20,485.81 L538.70,486.02 L539.20,486.19 L539.70,486.33 L540.20,486.44 L540.70,486.52 L541.20,486.58 L541.70,486.60 L542.20,486.59 L542.70,486.56 L543.20,486.50 L543.70,486.40 L544.20,486.28 L544.70,486.13 L545.20,485.94 L545.70,485.72 L546.20,485.46 L546.70,485.15 L547.20,484.80 L547.70,484.39 L548.20,483.91 L548.70,483.35 L549.20,482.84 L549.70,482.38 L550.20,481.93 L550.70,481.52 L551.20,481.12 L551.70,480.75 L552.20,480.40 L552.70,480.08 L553.20,479.78 L553.70,479.50 L554.20,479.26 L554.70,479.04 L555.20,478.86 L555.70,478.71 L556.20,478.59 L556.70,478.52 L557,478.5 H716 V606 H368 Z" fill="none" stroke="#000050" stroke-width="0.5"/>
<path d="M533,477.75 V350.3 H550.7 V477.75 A8.85,8.85 0 0 1 533,477.75 Z" fill="#00007f" stroke="#00002a" stroke-width="0.8"/>
<path d="M533,454.4 H550.7" stroke="#00002a" stroke-width="0.8"/>
<rect x="738.3" y="17" width="10.1" height="279" fill="url(#jet)" stroke="#222" stroke-width="0.8"/>
<path d="M738.3,17 h2 M748.4,17 h-2" stroke="#111" stroke-width="0.8"/>
<text class="tk" font-size="10.9" letter-spacing="0" x="752.6" y="21.7">2</text>
<path d="M738.3,46.3 h2 M748.4,46.3 h-2" stroke="#111" stroke-width="0.8"/>
<text class="tk" font-size="10.9" letter-spacing="0" x="752.6" y="51">1.8</text>
<path d="M738.3,75.6 h2 M748.4,75.6 h-2" stroke="#111" stroke-width="0.8"/>
<text class="tk" font-size="10.9" letter-spacing="0" x="752.6" y="80.3">1.6</text>
<path d="M738.3,104.9 h2 M748.4,104.9 h-2" stroke="#111" stroke-width="0.8"/>
<text class="tk" font-size="10.9" letter-spacing="0" x="752.6" y="109.6">1.4</text>
<path d="M738.3,134.2 h2 M748.4,134.2 h-2" stroke="#111" stroke-width="0.8"/>
<text class="tk" font-size="10.9" letter-spacing="0" x="752.6" y="138.9">1.2</text>
<path d="M738.3,163.5 h2 M748.4,163.5 h-2" stroke="#111" stroke-width="0.8"/>
<text class="tk" font-size="10.9" letter-spacing="0" x="752.6" y="168.2">1</text>
<path d="M738.3,192.8 h2 M748.4,192.8 h-2" stroke="#111" stroke-width="0.8"/>
<text class="tk" font-size="10.9" letter-spacing="0" x="752.6" y="197.5">0.8</text>
<path d="M738.3,222.1 h2 M748.4,222.1 h-2" stroke="#111" stroke-width="0.8"/>
<text class="tk" font-size="10.9" letter-spacing="0" x="752.6" y="226.8">0.6</text>
<path d="M738.3,251.4 h2 M748.4,251.4 h-2" stroke="#111" stroke-width="0.8"/>
<text class="tk" font-size="10.9" letter-spacing="0" x="752.6" y="256.1">0.4</text>
<path d="M738.3,280.7 h2 M748.4,280.7 h-2" stroke="#111" stroke-width="0.8"/>
<text class="tk" font-size="10.9" letter-spacing="0" x="752.6" y="285.4">0.2</text>
<rect x="738" y="326.5" width="10.8" height="305.1" fill="url(#jet)" stroke="#222" stroke-width="0.8"/>
<path d="M738,326.5 h2 M748.8,326.5 h-2" stroke="#111" stroke-width="0.8"/>
<text class="tk" font-size="12" letter-spacing="0.6" x="753.9" y="330.95">500</text>
<path d="M738,357 h2 M748.8,357 h-2" stroke="#111" stroke-width="0.8"/>
<text class="tk" font-size="12" letter-spacing="0.6" x="753.9" y="361.45">450</text>
<path d="M738,387.5 h2 M748.8,387.5 h-2" stroke="#111" stroke-width="0.8"/>
<text class="tk" font-size="12" letter-spacing="0.6" x="753.9" y="391.95">400</text>
<path d="M738,418 h2 M748.8,418 h-2" stroke="#111" stroke-width="0.8"/>
<text class="tk" font-size="12" letter-spacing="0.6" x="753.9" y="422.45">350</text>
<path d="M738,448.5 h2 M748.8,448.5 h-2" stroke="#111" stroke-width="0.8"/>
<text class="tk" font-size="12" letter-spacing="0.6" x="753.9" y="452.95">300</text>
<path d="M738,479 h2 M748.8,479 h-2" stroke="#111" stroke-width="0.8"/>
<text class="tk" font-size="12" letter-spacing="0.6" x="753.9" y="483.45">250</text>
<path d="M738,509.5 h2 M748.8,509.5 h-2" stroke="#111" stroke-width="0.8"/>
<text class="tk" font-size="12" letter-spacing="0.6" x="753.9" y="513.95">200</text>
<path d="M738,540 h2 M748.8,540 h-2" stroke="#111" stroke-width="0.8"/>
<text class="tk" font-size="12" letter-spacing="0.6" x="753.9" y="544.45">150</text>
<path d="M738,570.5 h2 M748.8,570.5 h-2" stroke="#111" stroke-width="0.8"/>
<text class="tk" font-size="12" letter-spacing="0.6" x="753.9" y="574.95">100</text>
<path d="M738,601 h2 M748.8,601 h-2" stroke="#111" stroke-width="0.8"/>
<text class="tk" font-size="12" letter-spacing="0.6" x="753.9" y="605.45">50</text>
<path d="M738,631.5 h2 M748.8,631.5 h-2" stroke="#111" stroke-width="0.8"/>
<text class="tk" font-size="12" letter-spacing="0.6" x="753.9" y="635.95">0</text>
<text class="ttl" x="230.77" y="14.7" textLength="22.07" lengthAdjust="spacingAndGlyphs">(a)</text>
<text class="ttl" x="259.04" y="14.7" textLength="65.69" lengthAdjust="spacingAndGlyphs">Velocity</text>
<text class="ttl" x="330.05" y="14.7" textLength="93.09" lengthAdjust="spacingAndGlyphs">Magnitude</text>
<text class="ttl" x="426.69" y="14.7" textLength="55.82" lengthAdjust="spacingAndGlyphs">(<tspan class="mu">μ</tspan>m/s)</text>
<text class="ttl" x="179.48" y="334.7" textLength="22.13" lengthAdjust="spacingAndGlyphs">(b)</text>
<text class="ttl" x="207.25" y="334.7" textLength="91.12" lengthAdjust="spacingAndGlyphs">Convective</text>
<text class="ttl" x="302.62" y="334.7" textLength="40.28" lengthAdjust="spacingAndGlyphs">heat</text>
<text class="ttl" x="348.60" y="334.7" textLength="30.38" lengthAdjust="spacingAndGlyphs">flux</text>
<text class="ttl" x="383.43" y="334.7" textLength="89.70" lengthAdjust="spacingAndGlyphs">magnitude</text>
<text class="ttl" x="478.04" y="334.7" textLength="64.38" lengthAdjust="spacingAndGlyphs">(W/m<tspan font-size="11.5" dy="-5.5">2</tspan><tspan dy="5.5">)</tspan></text>
<text class="lab" x="89.74" y="301" textLength="51.23" lengthAdjust="spacingAndGlyphs">Vessels</text>
<text class="lab" x="143.03" y="301" textLength="60.69" lengthAdjust="spacingAndGlyphs">diameter</text>
<text class="lab" x="205.87" y="301" textLength="13.43" lengthAdjust="spacingAndGlyphs">of</text>
<text class="lab" x="222.89" y="301" textLength="19.40" lengthAdjust="spacingAndGlyphs">30</text>
<text class="lab" x="245.92" y="301" textLength="21.95" lengthAdjust="spacingAndGlyphs"><tspan class="mu">μ</tspan>m</text>
<text class="lab" x="457.11" y="301" textLength="51.26" lengthAdjust="spacingAndGlyphs">Vessels</text>
<text class="lab" x="510.42" y="301" textLength="60.61" lengthAdjust="spacingAndGlyphs">diameter</text>
<text class="lab" x="573.29" y="301" textLength="12.98" lengthAdjust="spacingAndGlyphs">of</text>
<text class="lab" x="591.22" y="301" textLength="9.57" lengthAdjust="spacingAndGlyphs">5</text>
<text class="lab" x="604.90" y="301" textLength="21.04" lengthAdjust="spacingAndGlyphs"><tspan class="mu">μ</tspan>m</text>
<text class="lab" x="90.17" y="624.4" textLength="51.65" lengthAdjust="spacingAndGlyphs">Vessels</text>
<text class="lab" x="143.66" y="624.4" textLength="60.69" lengthAdjust="spacingAndGlyphs">diameter</text>
<text class="lab" x="206.51" y="624.4" textLength="13.27" lengthAdjust="spacingAndGlyphs">of</text>
<text class="lab" x="223.37" y="624.4" textLength="19.63" lengthAdjust="spacingAndGlyphs">30</text>
<text class="lab" x="245.90" y="624.4" textLength="21.96" lengthAdjust="spacingAndGlyphs"><tspan class="mu">μ</tspan>m</text>
<text class="lab" x="454.74" y="625.6" textLength="51.23" lengthAdjust="spacingAndGlyphs">Vessels</text>
<text class="lab" x="507.98" y="625.6" textLength="60.43" lengthAdjust="spacingAndGlyphs">diameter</text>
<text class="lab" x="570.91" y="625.6" textLength="13.12" lengthAdjust="spacingAndGlyphs">of</text>
<text class="lab" x="588.58" y="625.6" textLength="9.78" lengthAdjust="spacingAndGlyphs">5</text>
<text class="lab" x="602.90" y="625.6" textLength="21.79" lengthAdjust="spacingAndGlyphs"><tspan class="mu">μ</tspan>m</text>
</svg></body></html>
